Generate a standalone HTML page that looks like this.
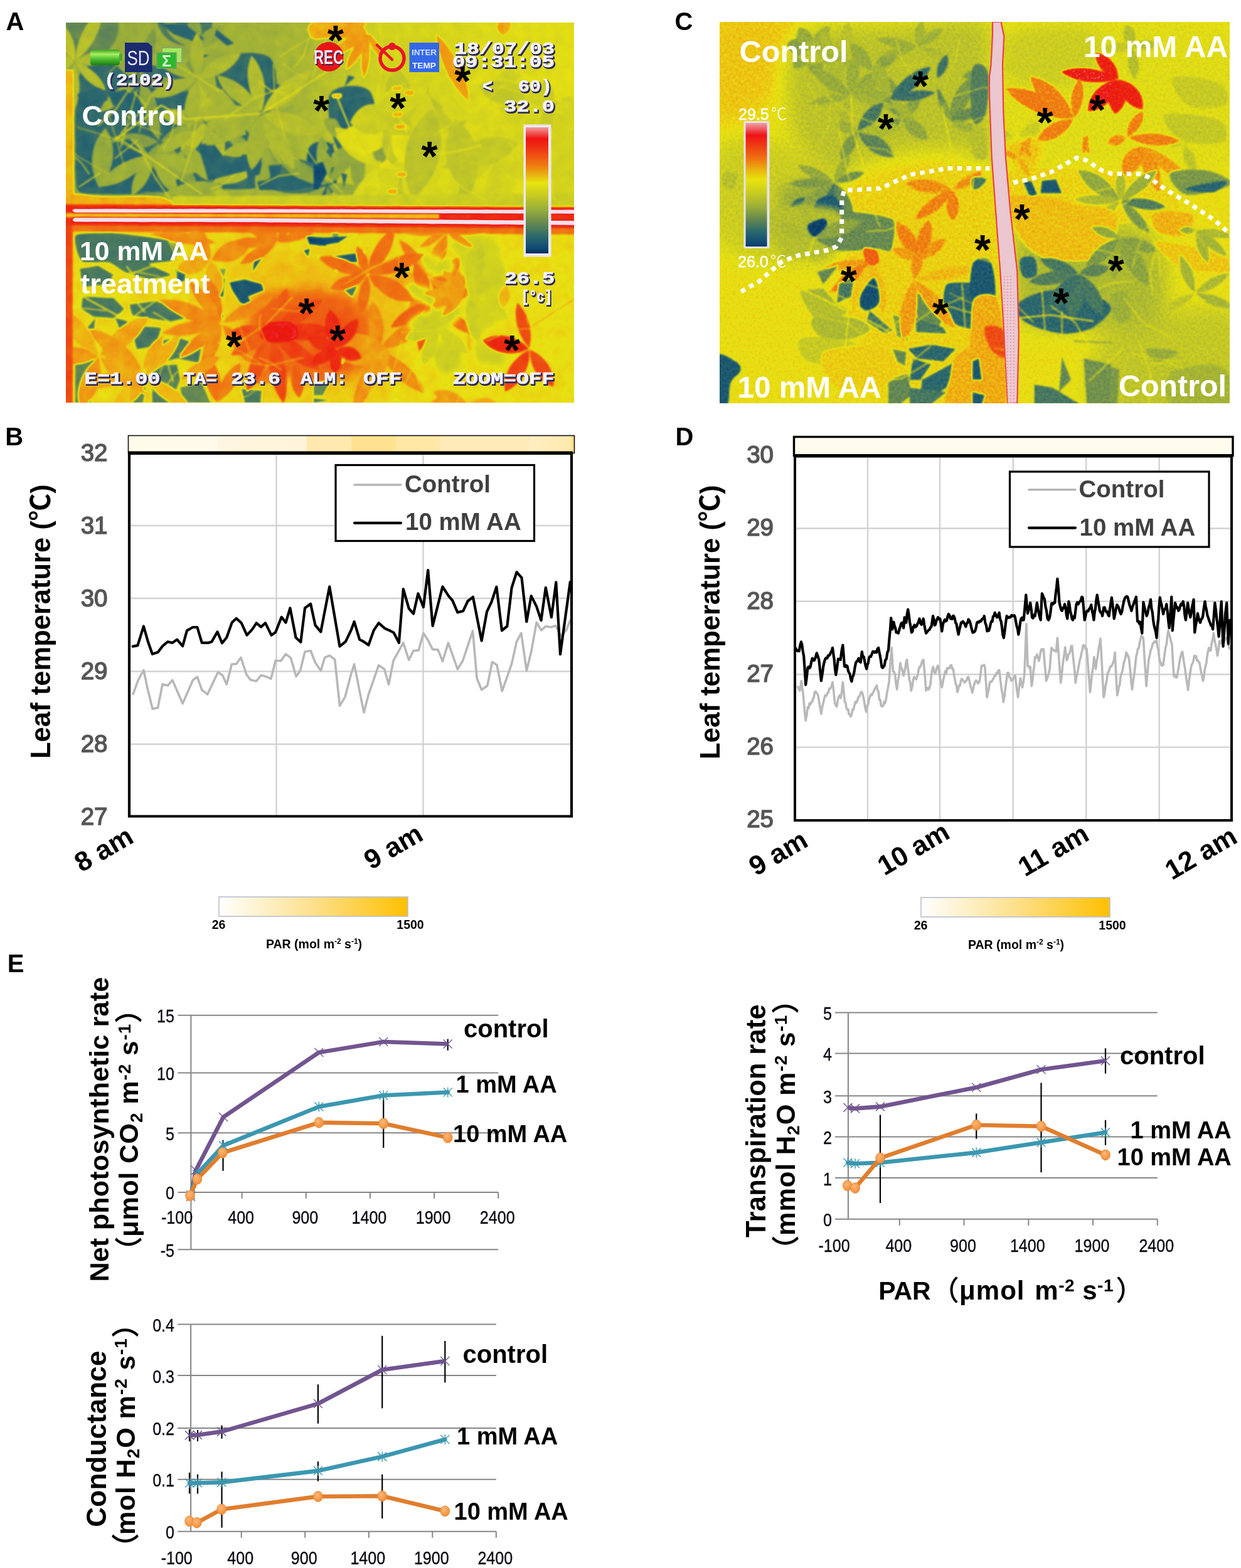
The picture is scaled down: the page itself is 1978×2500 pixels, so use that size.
<!DOCTYPE html>
<html lang="en"><head><meta charset="utf-8"><title>Figure</title>
<style>html,body{margin:0;padding:0;background:#fff}svg{display:block}text{white-space:pre}</style></head>
<body>
<svg width="1978" height="2500" viewBox="0 0 1978 2500">
<rect width="1978" height="2500" fill="#fff"/>
<defs><filter id="soft4" x="-50%" y="-50%" width="200%" height="200%" color-interpolation-filters="sRGB"><feGaussianBlur stdDeviation="4"/></filter><filter id="soft6" x="-50%" y="-50%" width="200%" height="200%" color-interpolation-filters="sRGB"><feGaussianBlur stdDeviation="6"/></filter><filter id="soft10" x="-50%" y="-50%" width="200%" height="200%" color-interpolation-filters="sRGB"><feGaussianBlur stdDeviation="10"/></filter><filter id="soft16" x="-50%" y="-50%" width="200%" height="200%" color-interpolation-filters="sRGB"><feGaussianBlur stdDeviation="16"/></filter><filter id="soft24" x="-50%" y="-50%" width="200%" height="200%" color-interpolation-filters="sRGB"><feGaussianBlur stdDeviation="24"/></filter></defs>
<defs><filter id="thA" filterUnits="userSpaceOnUse" x="95" y="26" width="830" height="626" color-interpolation-filters="sRGB"><feGaussianBlur in="SourceGraphic" stdDeviation="1.4" result="b"/><feTurbulence type="fractalNoise" baseFrequency="0.05" numOctaves="3" seed="4" result="n0"/><feColorMatrix in="n0" type="matrix" values="1 0 0 0 0  1 0 0 0 0  1 0 0 0 0  0 0 0 0 1" result="n"/><feComposite in="b" in2="n" operator="arithmetic" k1="0" k2="1" k3="0.07" k4="-0.035" result="m"/><feComponentTransfer in="m"><feFuncR type="table" tableValues="0.039 0.049 0.059 0.081 0.112 0.142 0.173 0.227 0.282 0.337 0.392 0.443 0.494 0.545 0.596 0.639 0.682 0.725 0.769 0.804 0.839 0.875 0.910 0.918 0.927 0.934 0.936 0.939 0.941 0.939 0.937 0.935 0.933 0.931 0.929 0.927 0.925 0.933 0.941 0.949 0.957"/><feFuncG type="table" tableValues="0.188 0.231 0.273 0.310 0.342 0.375 0.408 0.439 0.471 0.502 0.533 0.569 0.604 0.639 0.675 0.702 0.729 0.757 0.784 0.810 0.835 0.861 0.886 0.830 0.774 0.715 0.641 0.568 0.494 0.445 0.396 0.347 0.298 0.245 0.192 0.139 0.086 0.259 0.431 0.655 0.878"/><feFuncB type="table" tableValues="0.376 0.403 0.429 0.438 0.436 0.434 0.431 0.406 0.380 0.355 0.329 0.306 0.282 0.259 0.235 0.214 0.192 0.171 0.149 0.129 0.110 0.090 0.071 0.071 0.071 0.071 0.071 0.071 0.071 0.073 0.075 0.076 0.078 0.075 0.071 0.067 0.063 0.267 0.471 0.698 0.925"/><feFuncA type="linear" slope="0" intercept="1"/></feComponentTransfer></filter><clipPath id="clipA"><rect x="105" y="36" width="810" height="606"/></clipPath></defs>
<g clip-path="url(#clipA)"><g filter="url(#thA)"><defs><linearGradient id="aTop" x1="0" x2="1" y1="0" y2="0"><stop offset="0" stop-color="#575757"/><stop offset="0.45" stop-color="#616161"/><stop offset="0.62" stop-color="#7c7c7c"/><stop offset="1" stop-color="#888888"/></linearGradient><linearGradient id="aBot" x1="0" x2="1" y1="0" y2="0"><stop offset="0" stop-color="#919191"/><stop offset="0.5" stop-color="#939393"/><stop offset="0.75" stop-color="#8f8f8f"/><stop offset="1" stop-color="#8e8e8e"/></linearGradient></defs>
<rect x="100" y="31" width="820" height="310" fill="url(#aTop)"/>
<rect x="100" y="340" width="820" height="310" fill="url(#aBot)"/>
<path d="M121.0 150.0C122.4 131.8 127.1 113.2 135.0 108.0C142.9 102.8 183.5 97.0 200.0 98.0C216.5 99.0 286.8 110.8 300.0 118.0C313.2 125.2 328.8 156.8 332.0 170.0C335.2 183.2 335.2 237.0 332.0 250.0C328.8 263.0 306.2 294.1 300.0 300.0C293.8 305.9 286.0 308.1 270.0 309.0C254.0 309.9 154.9 310.9 140.0 309.0C125.1 307.1 122.9 305.9 121.0 290.0C119.1 274.1 119.6 168.2 121.0 150.0Z" fill="#292929"/>
<path d="M296.0 205.0C312.7 189.0 372.3 188.5 400.0 196.0C427.7 203.5 453.3 234.0 462.0 250.0C470.7 266.0 469.0 283.3 452.0 292.0C435.0 300.7 385.3 302.0 360.0 302.0C334.7 302.0 310.7 308.2 300.0 292.0C289.3 275.8 279.3 221.0 296.0 205.0Z" fill="#292929"/>
<path d="M350.0 95.0C363.0 83.7 415.7 79.5 430.0 92.0C444.3 104.5 442.3 154.5 436.0 170.0C429.7 185.5 406.0 186.7 392.0 185.0C378.0 183.3 359.0 175.0 352.0 160.0C345.0 145.0 337.0 106.3 350.0 95.0Z" fill="#292929"/>
<path d="M526.0 150.0C534.3 134.3 578.7 131.8 590.0 146.0C601.3 160.2 602.3 219.3 594.0 235.0C585.7 250.7 551.3 254.2 540.0 240.0C528.7 225.8 517.7 165.7 526.0 150.0Z" fill="#292929"/>
<path d="M492.0 236.0C497.7 224.0 523.0 221.0 530.0 232.0C537.0 243.0 539.7 290.0 534.0 302.0C528.3 314.0 503.0 315.0 496.0 304.0C489.0 293.0 486.3 248.0 492.0 236.0Z" fill="#1f1f1f"/>
<path d="M100.0 30.0C114.2 20.0 173.3 21.3 185.0 30.0C196.7 38.7 184.2 72.0 170.0 82.0C155.8 92.0 111.7 98.7 100.0 90.0C88.3 81.3 85.8 40.0 100.0 30.0Z" fill="#404040"/>
<path d="M255.0 30.0C265.8 24.3 324.5 23.0 335.0 30.0C345.5 37.0 328.8 66.3 318.0 72.0C307.2 77.7 280.5 71.0 270.0 64.0C259.5 57.0 244.2 35.7 255.0 30.0Z" fill="#333333"/>
<path d="M420.0 250.0C431.7 243.7 487.0 252.8 500.0 262.0C513.0 271.2 509.7 298.7 498.0 305.0C486.3 311.3 443.0 309.2 430.0 300.0C417.0 290.8 408.3 256.3 420.0 250.0Z" fill="#333333"/>
<path d="M327.5 196.9 C314.9 224.9 323.8 252.6 345.1 265.8 C357.5 244.0 352.0 215.4 327.5 196.9Z" fill="#626262"/>
<path d="M326.4 196.6 C298.9 202.0 285.0 223.2 289.0 246.0 C312.0 243.6 328.6 224.4 326.4 196.6Z" fill="#6d6d6d"/>
<path d="M325.7 195.2 C304.7 172.9 274.6 168.4 252.8 180.3 C268.2 199.9 297.6 207.5 325.7 195.2Z" fill="#666666"/>
<path d="M326.7 194.1 C338.2 164.2 328.0 134.9 305.9 121.1 C294.5 144.5 301.3 174.7 326.7 194.1Z" fill="#6c6c6c"/>
<path d="M327.7 194.5 C355.5 186.6 365.1 164.4 355.4 142.2 C331.5 146.6 318.6 167.1 327.7 194.5Z" fill="#696969"/>
<path d="M328.5 195.9 C345.3 220.1 372.2 225.5 393.2 213.3 C381.2 192.2 355.2 183.4 328.5 195.9Z" fill="#626262"/>
<path d="M223.8 126.8 C247.6 147.5 280.4 152.5 303.5 142.4 C285.9 124.3 253.6 116.6 223.8 126.8Z" fill="#515151"/>
<path d="M222.7 127.7 C221.1 153.2 233.6 177.1 251.1 187.5 C254.0 167.5 243.5 142.5 222.7 127.7Z" fill="#585858"/>
<path d="M220.9 127.5 C190.7 134.0 165.8 156.0 157.8 179.0 C182.0 175.8 208.5 155.8 220.9 127.5Z" fill="#5b5b5b"/>
<path d="M221.3 125.7 C216.1 102.6 198.0 87.1 178.9 85.5 C181.5 104.4 198.0 121.7 221.3 125.7Z" fill="#5b5b5b"/>
<path d="M222.6 124.8 C244.3 101.3 252.9 67.7 246.7 43.3 C228.3 60.4 217.2 93.4 222.6 124.8Z" fill="#4e4e4e"/>
<path d="M411.0 252.9 C387.8 247.3 366.5 257.4 357.7 274.7 C376.1 280.8 398.3 273.1 411.0 252.9Z" fill="#525252"/>
<path d="M411.1 251.6 C402.3 226.7 380.3 210.7 359.2 209.9 C364.5 230.3 384.9 248.3 411.1 251.6Z" fill="#555555"/>
<path d="M412.7 250.9 C435.9 231.4 446.7 200.9 442.2 177.4 C422.7 191.3 409.5 220.9 412.7 250.9Z" fill="#585858"/>
<path d="M413.4 252.4 C434.9 268.0 461.1 267.0 477.7 253.4 C461.5 239.3 435.3 237.5 413.4 252.4Z" fill="#525252"/>
<path d="M412.3 254.0 C401.6 281.8 406.0 313.7 420.1 332.6 C430.2 311.3 428.2 279.2 412.3 254.0Z" fill="#616161"/>
<path d="M120.8 98.4 C147.2 108.5 175.4 101.8 190.8 85.2 C170.4 75.3 141.6 79.4 120.8 98.4Z" fill="#666666"/>
<path d="M120.4 99.6 C128.8 123.1 149.3 140.5 168.7 144.1 C163.5 125.1 144.5 106.1 120.4 99.6Z" fill="#6a6a6a"/>
<path d="M119.3 100.4 C105.1 127.1 104.6 160.3 115.3 181.6 C128.0 161.4 130.9 128.3 119.3 100.4Z" fill="#686868"/>
<path d="M117.9 99.2 C88.7 94.4 58.9 105.7 44.1 124.0 C67.0 129.6 97.5 120.7 117.9 99.2Z" fill="#6e6e6e"/>
<path d="M118.1 98.4 C99.7 77.7 72.4 72.2 52.1 81.6 C65.5 99.5 92.0 107.7 118.1 98.4Z" fill="#6d6d6d"/>
<path d="M118.9 97.4 C123.4 70.3 111.3 44.8 92.2 33.6 C86.7 55.1 96.3 81.6 118.9 97.4Z" fill="#6f6f6f"/>
<path d="M120.3 97.0 C148.1 76.7 164.1 42.9 162.5 15.7 C139.3 30.0 120.9 62.6 120.3 97.0Z" fill="#6a6a6a"/>
<path d="M312.1 78.3 C292.2 97.6 288.8 124.7 300.1 144.0 C317.6 129.9 323.9 103.3 312.1 78.3Z" fill="#505050"/>
<path d="M311.3 77.4 C288.5 69.7 268.7 79.4 261.4 97.8 C279.5 105.8 300.4 98.8 311.3 77.4Z" fill="#565656"/>
<path d="M311.3 76.1 C304.7 49.2 283.0 32.3 260.5 32.0 C263.9 54.3 283.7 73.4 311.3 76.1Z" fill="#5b5b5b"/>
<path d="M312.2 75.9 C326.7 57.0 323.5 35.7 308.0 23.5 C294.6 38.0 294.9 59.5 312.2 75.9Z" fill="#545454"/>
<path d="M313.2 76.3 C338.4 77.6 355.7 62.2 357.7 41.5 C337.1 38.5 318.0 51.5 313.2 76.3Z" fill="#565656"/>
<path d="M313.4 77.5 C324.3 103.9 347.9 112.3 369.4 102.0 C362.3 79.2 340.2 67.6 313.4 77.5Z" fill="#5c5c5c"/>
<path d="M423.9 230.0 C397.2 219.9 369.1 227.6 354.5 245.4 C375.3 255.4 403.9 250.5 423.9 230.0Z" fill="#626262"/>
<path d="M424.5 228.7 C425.4 200.9 408.3 181.1 385.8 177.8 C383.0 200.4 397.5 222.2 424.5 228.7Z" fill="#5b5b5b"/>
<path d="M426.2 228.5 C455.3 217.8 471.4 191.7 469.0 166.6 C444.6 173.1 425.9 197.4 426.2 228.5Z" fill="#595959"/>
<path d="M426.7 230.8 C439.1 260.8 467.0 280.3 492.9 281.4 C485.0 256.7 458.9 234.8 426.7 230.8Z" fill="#676767"/>
<path d="M425.2 231.0 C404.7 251.0 404.0 277.4 419.4 295.3 C437.8 280.4 441.8 254.3 425.2 231.0Z" fill="#5a5a5a"/>
<path d="M520.3 296.5 C490.7 302.9 467.0 324.8 460.0 347.8 C483.9 344.6 509.3 324.7 520.3 296.5Z" fill="#575757"/>
<path d="M520.0 294.6 C503.5 264.3 471.8 248.3 444.4 251.9 C455.5 277.3 485.5 296.1 520.0 294.6Z" fill="#535353"/>
<path d="M521.3 293.9 C534.6 265.8 529.4 234.3 512.2 216.2 C499.6 237.8 501.8 269.7 521.3 293.9Z" fill="#5a5a5a"/>
<path d="M522.5 294.2 C550.8 280.6 570.5 252.9 573.3 228.3 C550.3 237.3 528.5 263.4 522.5 294.2Z" fill="#565656"/>
<path d="M522.8 295.9 C539.4 320.0 566.5 326.6 588.0 316.1 C576.2 295.2 550.1 285.4 522.8 295.9Z" fill="#555555"/>
<path d="M521.8 297.3 C511.6 329.1 518.9 364.3 536.5 384.1 C546.6 359.6 541.9 323.9 521.8 297.3Z" fill="#4d4d4d"/>
<path d="M255.9 225.7 C284.6 228.3 311.5 214.2 323.0 194.2 C300.2 190.2 272.3 201.9 255.9 225.7Z" fill="#545454"/>
<path d="M255.7 227.8 C262.8 262.0 288.0 289.7 314.4 298.1 C310.9 270.5 288.1 240.9 255.7 227.8Z" fill="#545454"/>
<path d="M253.9 227.7 C228.6 244.1 218.8 272.5 226.4 295.8 C248.0 284.3 260.7 257.1 253.9 227.7Z" fill="#545454"/>
<path d="M252.9 226.3 C227.5 208.1 195.8 208.5 175.4 223.4 C194.6 239.7 226.2 242.5 252.9 226.3Z" fill="#515151"/>
<path d="M253.9 224.4 C260.1 188.2 246.7 150.9 224.6 131.8 C217.5 160.1 228.0 198.3 253.9 224.4Z" fill="#525252"/>
<path d="M335.3 292.3 C305.6 310.4 287.1 343.0 287.0 370.5 C311.5 358.1 332.4 326.9 335.3 292.3Z" fill="#5f5f5f"/>
<path d="M334.5 291.2 C302.0 287.6 267.9 299.7 250.0 318.2 C275.3 323.0 310.1 313.1 334.5 291.2Z" fill="#686868"/>
<path d="M335.4 289.5 C336.1 259.4 318.0 236.1 294.3 230.2 C291.5 254.5 307.0 279.6 335.4 289.5Z" fill="#5e5e5e"/>
<path d="M336.6 289.2 C356.1 267.7 362.9 237.2 356.2 215.3 C339.5 231.0 330.4 260.9 336.6 289.2Z" fill="#6a6a6a"/>
<path d="M337.6 290.4 C362.6 298.5 389.1 291.2 403.1 275.5 C383.7 267.4 356.7 272.3 337.6 290.4Z" fill="#676767"/>
<path d="M337.3 292.0 C340.7 324.1 362.3 349.5 387.2 356.5 C386.7 330.6 367.5 303.4 337.3 292.0Z" fill="#6a6a6a"/>
<path d="M570.1 226.9 C586.7 209.6 586.3 187.6 572.6 173.3 C557.7 186.3 555.2 208.1 570.1 226.9Z" fill="#5c5c5c"/>
<path d="M571.4 227.3 C602.2 231.1 629.1 215.5 639.0 192.5 C614.5 187.2 586.2 200.0 571.4 227.3Z" fill="#606060"/>
<path d="M571.4 228.6 C586.6 255.7 614.8 266.1 638.9 258.1 C628.5 235.0 601.6 221.4 571.4 228.6Z" fill="#545454"/>
<path d="M570.1 229.5 C553.5 254.7 555.2 285.2 570.5 304.2 C585.6 285.0 587.0 254.5 570.1 229.5Z" fill="#575757"/>
<path d="M568.8 228.9 C540.0 231.7 516.0 250.4 508.1 272.1 C531.2 271.7 556.7 255.1 568.8 228.9Z" fill="#595959"/>
<path d="M569.0 227.2 C562.4 198.6 539.8 184.6 516.0 189.4 C519.2 213.5 539.8 230.3 569.0 227.2Z" fill="#565656"/>
<path d="M266.8 306.9 C256.5 333.0 260.5 363.1 273.9 380.9 C283.6 360.9 281.9 330.6 266.8 306.9Z" fill="#5d5d5d"/>
<path d="M265.3 306.2 C234.6 307.5 207.2 325.5 196.6 347.5 C221.0 348.4 249.8 332.8 265.3 306.2Z" fill="#4f4f4f"/>
<path d="M265.2 305.1 C243.5 288.1 214.1 284.0 193.8 292.3 C209.9 307.1 238.9 313.5 265.2 305.1Z" fill="#555555"/>
<path d="M265.5 303.7 C256.6 268.3 232.4 234.4 208.7 219.0 C213.9 246.8 236.2 282.0 265.5 303.7Z" fill="#5c5c5c"/>
<path d="M267.2 304.0 C289.0 286.3 298.5 258.2 293.5 236.4 C275.1 249.1 263.2 276.2 267.2 304.0Z" fill="#595959"/>
<path d="M268.5 305.2 C299.2 318.4 334.4 313.4 355.1 296.7 C331.6 284.3 296.1 286.3 268.5 305.2Z" fill="#5c5c5c"/>
<path d="M268.3 306.5 C285.9 336.0 317.5 357.7 344.0 362.1 C331.9 338.1 301.7 314.5 268.3 306.5Z" fill="#5c5c5c"/>
<polygon points="123.0,150.0 160.0,140.0 172.0,160.0 130.0,172.0" fill="#242424"/>
<polygon points="172.0,148.0 200.0,143.0 225.0,165.0 236.0,188.0 216.0,190.0 198.0,176.0 180.0,168.0" fill="#242424"/>
<polygon points="123.0,220.0 150.0,212.0 148.0,250.0 156.0,300.0 128.0,296.0" fill="#242424"/>
<polygon points="183.0,226.0 206.0,222.0 230.0,245.0 252.0,278.0 296.0,290.0 262.0,306.0 160.0,308.0 170.0,270.0" fill="#242424"/>
<polygon points="316.0,232.0 338.0,226.0 366.0,262.0 388.0,246.0 418.0,252.0 412.0,268.0 370.0,278.0 332.0,288.0" fill="#242424"/>
<polygon points="282.0,254.0 298.0,258.0 314.0,280.0 292.0,268.0" fill="#242424"/>
<polygon points="398.0,100.0 420.0,98.0 418.0,126.0 408.0,168.0 402.0,148.0 382.0,158.0 370.0,136.0 390.0,124.0" fill="#242424"/>
<polygon points="434.0,130.0 450.0,138.0 424.0,170.0" fill="#242424"/>
<polygon points="546.0,160.0 586.0,154.0 585.0,188.0 576.0,224.0 556.0,226.0 536.0,190.0" fill="#242424"/>
<polygon points="500.0,262.0 514.0,258.0 520.0,276.0 507.0,302.0 500.0,302.0" fill="#242424"/>
<polygon points="428.0,264.0 450.0,262.0 444.0,284.0 432.0,286.0" fill="#242424"/>
<polygon points="520.0,242.0 532.0,226.0 528.0,252.0" fill="#242424"/>
<polygon points="544.0,276.0 554.0,278.0 548.0,298.0" fill="#242424"/>
<polygon points="392.0,270.0 418.0,258.0 414.0,278.0 395.0,284.0" fill="#242424"/>
<polygon points="410.0,290.0 465.0,280.0 505.0,296.0 470.0,303.0 414.0,303.0" fill="#242424"/>
<polygon points="256.0,38.0 294.0,38.0 326.0,62.0 312.0,67.0 276.0,54.0" fill="#242424"/>
<polygon points="345.0,47.0 373.0,69.0 362.0,73.0 342.0,56.0" fill="#242424"/>
<polygon points="309.0,85.0 333.0,88.0 321.0,94.0" fill="#242424"/>
<polygon points="143.0,191.0 164.0,202.0 157.0,221.0" fill="#242424"/>
<polygon points="555.0,120.0 566.0,123.0 549.0,138.0" fill="#242424"/>
<path d="M158.2 300.1 C184.6 270.3 186.6 231.1 168.2 204.5 C144.8 226.7 138.6 265.5 158.2 300.1Z" fill="#595959"/>
<path d="M243.2 247.0 C205.0 248.8 170.1 270.8 155.8 297.5 C186.1 298.5 222.6 279.3 243.2 247.0Z" fill="#5c5c5c"/>
<path d="M244.3 247.3 C219.7 261.9 207.0 288.7 210.3 311.3 C230.9 301.3 246.0 275.8 244.3 247.3Z" fill="#5c5c5c"/>
<path d="M245.7 247.3 C243.7 276.7 259.8 301.6 282.0 310.1 C285.7 286.6 272.2 260.2 245.7 247.3Z" fill="#5e5e5e"/>
<path d="M246.5 246.6 C266.0 271.2 297.0 280.9 321.1 273.7 C307.2 252.7 277.3 240.2 246.5 246.6Z" fill="#616161"/>
<path d="M246.3 245.3 C274.9 245.9 299.8 229.9 309.1 209.0 C286.3 206.6 260.0 220.2 246.3 245.3Z" fill="#616161"/>
<path d="M414.6 180.0 C375.7 159.7 328.5 161.5 299.0 180.0 C328.5 198.5 375.7 200.3 414.6 180.0Z" fill="#636363"/>
<path d="M415.2 181.0 C376.4 181.8 341.6 203.9 327.8 231.5 C358.6 233.3 395.1 214.2 415.2 181.0Z" fill="#616161"/>
<path d="M416.7 181.8 C391.3 208.5 386.7 245.5 400.9 271.6 C423.1 251.9 431.4 215.6 416.7 181.8Z" fill="#616161"/>
<path d="M418.0 181.8 C417.4 221.4 439.6 256.2 468.5 269.2 C471.6 237.7 452.6 201.0 418.0 181.8Z" fill="#666666"/>
<path d="M418.8 180.7 C441.9 211.9 479.4 223.5 509.1 213.5 C492.7 186.8 456.6 171.6 418.8 180.7Z" fill="#6b6b6b"/>
<path d="M418.6 178.7 C457.7 172.4 488.1 144.5 495.9 113.8 C464.3 116.2 431.5 141.2 418.6 178.7Z" fill="#6e6e6e"/>
<path d="M416.7 178.2 C428.7 144.9 420.6 108.5 400.9 88.4 C389.1 114.1 394.0 151.0 416.7 178.2Z" fill="#696969"/>
<path d="M415.6 178.8 C403.4 145.6 373.9 122.9 345.8 120.2 C353.3 147.4 380.8 172.6 415.6 178.8Z" fill="#636363"/>
<path d="M312.5 126.6 C281.7 120.2 251.8 132.7 237.9 153.7 C262.0 160.9 293.0 151.2 312.5 126.6Z" fill="#616161"/>
<path d="M312.6 125.2 C297.7 97.5 268.9 82.6 243.9 85.5 C253.9 108.6 281.2 126.1 312.6 125.2Z" fill="#616161"/>
<path d="M314.0 124.5 C328.9 100.1 327.5 70.5 314.0 52.0 C300.5 70.5 299.1 100.1 314.0 124.5Z" fill="#636363"/>
<path d="M315.4 125.2 C346.8 126.1 374.1 108.6 384.1 85.5 C359.1 82.6 330.3 97.5 315.4 125.2Z" fill="#666666"/>
<path d="M315.4 127.1 C327.3 158.7 355.5 180.4 382.2 183.2 C374.8 157.4 348.5 133.4 315.4 127.1Z" fill="#636363"/>
<path d="M313.7 127.6 C292.8 151.1 288.7 183.2 299.9 205.8 C318.2 188.4 325.3 156.8 313.7 127.6Z" fill="#616161"/>
<polyline points="184.0,222.0 228.0,190.0 257.0,168.0 297.0,190.0 415.0,181.0" fill="none" stroke="#8a8a8a" stroke-width="2.2" stroke-linecap="round" stroke-linejoin="round"/>
<polyline points="186.0,219.0 238.0,251.0 321.0,309.0" fill="none" stroke="#878787" stroke-width="1.8" stroke-linecap="round" stroke-linejoin="round"/>
<polyline points="213.0,146.0 233.0,168.0 193.0,212.0" fill="none" stroke="#858585" stroke-width="1.6" stroke-linecap="round" stroke-linejoin="round"/>
<polyline points="417.0,180.0 469.0,148.0 520.0,114.0" fill="none" stroke="#8c8c8c" stroke-width="2.0" stroke-linecap="round" stroke-linejoin="round"/>
<polyline points="126.0,298.0 159.0,276.0" fill="none" stroke="#858585" stroke-width="1.6" stroke-linecap="round" stroke-linejoin="round"/>
<polyline points="250.8,88.3 300.9,114.6 348.8,144.7" fill="none" stroke="#818181" stroke-width="1.6" stroke-linecap="round" stroke-linejoin="round" opacity="0.9"/>
<polyline points="313.2,189.5 305.0,240.2 288.8,289.0" fill="none" stroke="#838383" stroke-width="1.5" stroke-linecap="round" stroke-linejoin="round" opacity="0.9"/>
<polyline points="207.4,76.3 191.8,98.0 173.0,117.1" fill="none" stroke="#818181" stroke-width="1.2" stroke-linecap="round" stroke-linejoin="round" opacity="0.9"/>
<polyline points="544.4,46.3 492.3,61.1 446.4,89.9" fill="none" stroke="#828282" stroke-width="1.7" stroke-linecap="round" stroke-linejoin="round" opacity="0.9"/>
<polyline points="123.3,202.7 177.7,219.2 227.9,245.6" fill="none" stroke="#848484" stroke-width="1.2" stroke-linecap="round" stroke-linejoin="round" opacity="0.9"/>
<polyline points="278.2,186.2 274.1,213.6 260.0,237.6" fill="none" stroke="#838383" stroke-width="1.4" stroke-linecap="round" stroke-linejoin="round" opacity="0.9"/>
<polyline points="172.4,179.0 185.6,223.6 199.1,268.1" fill="none" stroke="#7e7e7e" stroke-width="1.2" stroke-linecap="round" stroke-linejoin="round" opacity="0.9"/>
<polyline points="204.8,144.4 183.9,175.3 156.1,200.2" fill="none" stroke="#808080" stroke-width="1.9" stroke-linecap="round" stroke-linejoin="round" opacity="0.9"/>
<polyline points="412.2,129.3 430.5,143.6 453.2,148.4" fill="none" stroke="#838383" stroke-width="1.9" stroke-linecap="round" stroke-linejoin="round" opacity="0.9"/>
<polyline points="491.5,64.8 483.7,89.1 467.3,108.8" fill="none" stroke="#818181" stroke-width="1.8" stroke-linecap="round" stroke-linejoin="round" opacity="0.9"/>
<polyline points="462.4,135.7 406.9,155.8 358.4,189.3" fill="none" stroke="#7f7f7f" stroke-width="1.8" stroke-linecap="round" stroke-linejoin="round" opacity="0.9"/>
<polyline points="435.6,102.6 438.3,161.6 454.0,218.6" fill="none" stroke="#7d7d7d" stroke-width="1.7" stroke-linecap="round" stroke-linejoin="round" opacity="0.9"/>
<polyline points="219.7,231.2 246.4,281.7 279.0,328.5" fill="none" stroke="#838383" stroke-width="1.8" stroke-linecap="round" stroke-linejoin="round" opacity="0.9"/>
<polyline points="451.6,102.0 468.4,115.5 488.5,123.0" fill="none" stroke="#818181" stroke-width="1.2" stroke-linecap="round" stroke-linejoin="round" opacity="0.9"/>
<polyline points="200.7,183.4 227.9,202.9 259.3,214.5" fill="none" stroke="#818181" stroke-width="1.3" stroke-linecap="round" stroke-linejoin="round" opacity="0.9"/>
<polyline points="624.9,173.7 598.8,206.7 572.7,239.7" fill="none" stroke="#848484" stroke-width="1.9" stroke-linecap="round" stroke-linejoin="round" opacity="0.9"/>
<polyline points="529.6,11.9 517.5,68.4 497.6,122.7" fill="none" stroke="#808080" stroke-width="1.7" stroke-linecap="round" stroke-linejoin="round" opacity="0.9"/>
<polyline points="218.6,223.9 200.9,238.4 183.1,252.7" fill="none" stroke="#808080" stroke-width="1.5" stroke-linecap="round" stroke-linejoin="round" opacity="0.9"/>
<polyline points="476.5,276.5 444.0,280.5 414.7,295.3" fill="none" stroke="#838383" stroke-width="1.7" stroke-linecap="round" stroke-linejoin="round" opacity="0.9"/>
<polyline points="489.5,239.4 514.0,275.6 545.1,306.4" fill="none" stroke="#838383" stroke-width="1.7" stroke-linecap="round" stroke-linejoin="round" opacity="0.9"/>
<polyline points="239.5,154.5 226.5,181.2 222.4,210.6" fill="none" stroke="#7f7f7f" stroke-width="1.3" stroke-linecap="round" stroke-linejoin="round" opacity="0.9"/>
<polyline points="374.1,278.8 357.0,293.4 336.2,301.8" fill="none" stroke="#828282" stroke-width="1.7" stroke-linecap="round" stroke-linejoin="round" opacity="0.9"/>
<polyline points="85.4,216.1 125.3,250.0 170.6,276.2" fill="none" stroke="#7e7e7e" stroke-width="1.3" stroke-linecap="round" stroke-linejoin="round" opacity="0.9"/>
<polyline points="573.1,98.6 533.0,107.8 498.4,130.1" fill="none" stroke="#818181" stroke-width="1.6" stroke-linecap="round" stroke-linejoin="round" opacity="0.9"/>
<polyline points="114.3,246.0 130.2,259.9 141.9,277.5" fill="none" stroke="#828282" stroke-width="1.5" stroke-linecap="round" stroke-linejoin="round" opacity="0.9"/>
<polyline points="218.1,143.3 205.1,189.0 192.6,234.9" fill="none" stroke="#808080" stroke-width="1.7" stroke-linecap="round" stroke-linejoin="round" opacity="0.9"/>
<path d="M788.0 256.7 C825.4 250.6 845.3 222.5 841.1 191.4 C809.8 193.6 786.3 218.8 788.0 256.7Z" fill="#7d7d7d"/>
<path d="M789.0 258.5 C818.3 293.7 861.2 299.7 892.9 279.5 C871.5 248.6 829.7 237.4 789.0 258.5Z" fill="#7c7c7c"/>
<path d="M787.2 260.1 C764.2 298.4 773.6 338.7 803.9 359.8 C825.6 330.0 821.4 288.9 787.2 260.1Z" fill="#7d7d7d"/>
<path d="M785.1 258.4 C748.6 233.0 713.8 243.9 698.1 278.0 C726.9 302.1 763.0 297.0 785.1 258.4Z" fill="#7c7c7c"/>
<path d="M785.8 256.5 C788.3 216.4 764.3 188.0 731.4 183.5 C726.3 216.2 746.6 247.5 785.8 256.5Z" fill="#858585"/>
<path d="M603.8 265.2 C645.1 279.6 688.3 267.5 710.9 240.6 C678.8 226.2 634.6 234.1 603.8 265.2Z" fill="#888888"/>
<path d="M600.7 268.0 C558.4 295.6 543.5 342.8 557.9 381.3 C594.1 362.0 614.2 316.7 600.7 268.0Z" fill="#828282"/>
<path d="M600.2 264.4 C593.5 227.1 565.1 203.7 534.2 203.3 C537.0 234.1 562.5 260.5 600.2 264.4Z" fill="#7f7f7f"/>
<path d="M689.3 226.5 C653.6 244.4 632.1 280.5 633.0 312.3 C662.5 300.4 687.0 266.3 689.3 226.5Z" fill="#707070"/>
<path d="M688.7 224.4 C665.6 192.8 630.5 187.6 603.9 206.1 C620.5 233.9 654.6 243.7 688.7 224.4Z" fill="#757575"/>
<path d="M690.4 222.9 C712.5 191.3 709.4 153.8 688.0 130.8 C667.8 154.8 666.7 192.5 690.4 222.9Z" fill="#6f6f6f"/>
<path d="M692.5 224.0 C734.0 233.1 775.0 216.8 794.5 188.8 C761.9 178.8 719.6 191.3 692.5 224.0Z" fill="#727272"/>
<path d="M691.6 226.7 C694.4 269.0 719.5 307.2 749.4 322.6 C749.8 289.0 727.7 248.9 691.6 226.7Z" fill="#6e6e6e"/>
<path d="M844.7 190.0 C843.0 154.1 819.0 137.8 789.5 145.2 C788.3 175.6 809.3 195.7 844.7 190.0Z" fill="#7a7a7a"/>
<path d="M846.4 189.7 C882.3 182.2 891.8 156.5 875.4 129.8 C844.3 133.6 830.1 156.9 846.4 189.7Z" fill="#797979"/>
<path d="M847.2 190.6 C876.3 216.1 903.0 207.5 914.2 176.2 C891.2 152.4 863.2 155.5 847.2 190.6Z" fill="#767676"/>
<path d="M846.3 192.3 C822.6 224.1 833.8 250.2 866.8 258.5 C889.3 233.0 883.7 205.1 846.3 192.3Z" fill="#7c7c7c"/>
<path d="M844.7 191.7 C809.2 181.2 787.2 199.4 787.4 230.9 C816.7 242.5 841.6 228.6 844.7 191.7Z" fill="#7d7d7d"/>
<path d="M624.9 222.8 C659.1 212.7 670.0 185.3 657.0 158.3 C627.6 164.3 612.4 189.5 624.9 222.8Z" fill="#878787"/>
<path d="M625.3 225.2 C617.5 267.3 640.6 286.9 676.5 278.7 C686.3 243.2 667.7 219.2 625.3 225.2Z" fill="#7f7f7f"/>
<path d="M622.5 224.1 C595.0 190.1 559.5 191.2 535.8 219.5 C556.4 250.1 591.6 254.9 622.5 224.1Z" fill="#868686"/>
<path d="M633.8 184.6 C660.0 216.9 697.0 219.6 723.5 197.5 C704.3 168.8 668.1 160.9 633.8 184.6Z" fill="#737373"/>
<path d="M631.8 185.8 C603.0 209.0 602.6 240.2 624.9 261.7 C650.7 244.6 656.0 213.8 631.8 185.8Z" fill="#727272"/>
<path d="M630.5 184.5 C601.0 154.9 571.9 162.5 558.1 195.6 C581.3 223.2 611.3 221.7 630.5 184.5Z" fill="#787878"/>
<path d="M632.1 182.7 C660.4 158.2 659.4 126.8 635.8 106.0 C610.3 124.4 606.3 155.6 632.1 182.7Z" fill="#6f6f6f"/>
<path d="M681.0 268.5 C644.8 262.1 632.6 281.0 645.7 310.3 C676.9 318.3 693.5 303.1 681.0 268.5Z" fill="#828282"/>
<path d="M680.6 266.7 C682.9 226.5 658.4 208.2 625.1 216.6 C620.1 250.5 640.9 273.1 680.6 266.7Z" fill="#878787"/>
<path d="M682.8 266.5 C724.2 269.6 743.8 244.4 736.1 209.9 C701.1 204.2 677.2 225.3 682.8 266.5Z" fill="#7f7f7f"/>
<path d="M682.6 268.7 C670.6 310.6 691.5 327.7 727.8 316.3 C741.1 280.6 725.1 258.8 682.6 268.7Z" fill="#808080"/>
<path d="M680.9 147.4 C682.3 101.8 655.8 64.5 620.8 52.9 C616.5 89.5 639.1 129.3 680.9 147.4Z" fill="#7e7e7e"/>
<path d="M683.6 147.7 C731.2 142.8 758.7 108.9 756.0 69.4 C716.4 69.8 684.7 99.8 683.6 147.7Z" fill="#7f7f7f"/>
<path d="M684.1 149.9 C709.9 182.3 750.0 191.7 780.7 178.2 C762.2 150.2 723.3 136.6 684.1 149.9Z" fill="#7e7e7e"/>
<path d="M681.8 151.3 C648.4 180.0 645.1 220.3 667.5 249.0 C697.1 227.9 705.6 188.4 681.8 151.3Z" fill="#7d7d7d"/>
<path d="M680.4 149.8 C644.4 128.4 610.7 140.0 596.0 171.8 C624.3 192.3 659.5 186.0 680.4 149.8Z" fill="#7b7b7b"/>
<path d="M800.2 182.5 C776.5 218.0 789.2 247.9 824.0 258.1 C846.7 229.8 839.8 198.0 800.2 182.5Z" fill="#808080"/>
<path d="M798.5 182.2 C747.8 170.8 727.1 197.4 740.8 240.4 C783.9 253.7 810.3 232.8 798.5 182.2Z" fill="#828282"/>
<path d="M798.1 180.2 C786.2 138.3 753.1 125.2 720.2 141.5 C727.0 177.7 757.5 196.1 798.1 180.2Z" fill="#828282"/>
<path d="M800.1 179.5 C842.2 164.5 847.7 133.4 821.4 105.4 C784.2 115.2 772.3 144.5 800.1 179.5Z" fill="#7b7b7b"/>
<path d="M801.0 181.0 C821.0 215.4 847.0 213.4 864.4 183.6 C849.4 152.5 823.7 148.4 801.0 181.0Z" fill="#7f7f7f"/>
<path d="M657.6 319.0 C705.2 277.9 714.4 217.7 688.6 173.3 C647.0 203.3 630.9 262.1 657.6 319.0Z" fill="#6e6e6e"/>
<path d="M747.6 312.5 C774.9 264.8 762.8 214.9 725.8 188.9 C699.8 226.0 705.6 277.0 747.6 312.5Z" fill="#707070"/>
<path d="M827.0 227.5 C786.5 207.6 747.4 220.9 729.5 253.7 C761.4 273.1 801.9 265.0 827.0 227.5Z" fill="#737373"/>
<path d="M762.5 136.4 C780.7 169.2 811.9 175.0 837.3 156.4 C824.6 127.7 794.7 117.1 762.5 136.4Z" fill="#737373"/>
<path d="M884.0 178.0C889.7 151.8 912.3 143.5 918.0 168.0C923.7 192.5 923.7 298.8 918.0 325.0C912.3 351.2 889.7 349.5 884.0 325.0C878.3 300.5 878.3 204.2 884.0 178.0Z" fill="#7d7d7d"/>
<polyline points="672.0,249.0 729.0,241.0 766.0,232.0" fill="none" stroke="#8c8c8c" stroke-width="2.0" stroke-linecap="round" stroke-linejoin="round"/>
<path d="M500.0 34.9C513.5 30.4 570.9 32.0 581.1 34.9C591.4 37.8 575.0 47.6 561.5 52.1C547.9 56.6 510.2 64.8 500.0 62.0C489.8 59.1 486.5 39.4 500.0 34.9Z" fill="#a1a1a1"/>
<path d="M584.4 52.1 C556.8 38.6 523.4 39.8 502.5 52.1 C523.4 64.4 556.8 65.7 584.4 52.1Z" fill="#a8a8a8"/>
<path d="M584.8 52.9 C557.6 54.5 532.6 70.2 522.2 89.0 C543.7 89.4 569.8 75.6 584.8 52.9Z" fill="#a8a8a8"/>
<path d="M585.4 53.3 C564.6 67.6 551.7 91.9 551.6 111.8 C568.8 101.8 583.4 78.4 585.4 53.3Z" fill="#a8a8a8"/>
<path d="M585.9 53.6 C574.4 77.0 572.7 106.5 579.6 125.6 C589.8 108.0 593.2 78.7 585.9 53.6Z" fill="#a8a8a8"/>
<path d="M586.6 53.0 C587.6 71.1 598.1 87.8 610.6 94.7 C610.9 80.4 601.7 63.0 586.6 53.0Z" fill="#a8a8a8"/>
<path d="M585.2 51.6 C576.6 34.2 559.0 25.2 543.5 27.5 C549.2 42.2 565.7 52.9 585.2 51.6Z" fill="#a8a8a8"/>
<path d="M695.3 54.3 C698.5 97.9 721.4 141.5 748.1 162.6 C747.9 128.5 727.7 83.7 695.3 54.3Z" fill="#a8a8a8"/>
<path d="M802.3 56.5 C811.4 45.8 808.6 35.4 797.7 30.4 C789.2 38.8 790.1 49.6 802.3 56.5Z" fill="#a8a8a8"/>
<path d="M802.6 56.5 C813.6 50.1 816.9 38.8 812.5 29.3 C803.1 33.7 798.3 44.6 802.6 56.5Z" fill="#a3a3a3"/>
<path d="M625.9 137.7C628.1 136.6 637.5 136.1 639.7 137.2C641.8 138.3 640.9 143.0 638.7 144.1C636.5 145.2 628.5 144.7 626.4 143.6C624.3 142.5 623.7 138.8 625.9 137.7Z" fill="#a3a3a3"/>
<path d="M627.1 179.5C629.3 178.4 638.8 177.9 640.9 179.0C643.0 180.1 642.1 184.8 639.9 185.9C637.7 187.0 629.7 186.5 627.6 185.4C625.5 184.3 624.9 180.6 627.1 179.5Z" fill="#a3a3a3"/>
<path d="M630.8 199.2C633.0 198.1 642.4 197.6 644.6 198.7C646.7 199.7 645.8 204.5 643.6 205.6C641.4 206.6 633.4 206.1 631.3 205.1C629.2 204.0 628.6 200.2 630.8 199.2Z" fill="#a3a3a3"/>
<path d="M633.3 275.4C635.5 274.3 644.9 273.8 647.0 274.9C649.2 276.0 648.3 280.7 646.1 281.8C643.8 282.8 635.9 282.4 633.8 281.3C631.6 280.2 631.1 276.5 633.3 275.4Z" fill="#a3a3a3"/>
<path d="M618.5 302.4C620.7 301.4 630.2 300.9 632.3 301.9C634.4 303.0 633.5 307.8 631.3 308.8C629.1 309.9 621.1 309.4 619.0 308.3C616.9 307.3 616.3 303.5 618.5 302.4Z" fill="#a3a3a3"/>
<path d="M530.0 150.0C532.2 148.9 541.6 148.4 543.8 149.5C545.9 150.6 545.0 155.3 542.8 156.4C540.6 157.4 532.6 157.0 530.5 155.9C528.4 154.8 527.8 151.1 530.0 150.0Z" fill="#a3a3a3"/>
<path d="M645.6 145.1C647.8 144.0 657.2 143.5 659.3 144.6C661.5 145.6 660.6 150.4 658.3 151.5C656.1 152.5 648.2 152.0 646.1 151.0C643.9 149.9 643.3 146.1 645.6 145.1Z" fill="#a3a3a3"/>
<polygon points="500.0,263.6 514.8,258.7 520.9,275.9 507.4,301.7 500.0,301.7" fill="#0f0f0f"/>
<polyline points="536.9,154.2 556.6,202.1 581.1,246.4" fill="none" stroke="#8c8c8c" stroke-width="2.2" stroke-linecap="round" stroke-linejoin="round"/>
<path d="M637.7 323.8C649.2 321.5 708.2 315.5 716.4 316.5C724.6 317.4 698.3 327.1 686.9 329.5C675.4 331.8 655.7 331.4 647.5 330.5C639.3 329.5 626.2 326.2 637.7 323.8Z" fill="#333333"/>
<path d="M100.0 308.0C106.5 306.1 150.0 312.5 165.0 313.0C180.0 313.5 239.0 312.1 250.0 313.0C261.0 313.9 272.5 320.1 275.0 322.0C277.5 323.9 292.5 331.0 275.0 332.0C257.5 333.0 117.5 334.4 100.0 332.0C82.5 329.6 93.5 309.9 100.0 308.0Z" fill="#a1a1a1"/>
<polygon points="100.0,111.0 117.0,111.0 118.0,308.0 100.0,310.0" fill="#9e9e9e"/>
<polygon points="275.0,313.0 920.0,308.0 920.0,331.0 275.0,331.0" fill="#787878"/>
<polygon points="100.0,357.0 920.0,364.0 920.0,374.0 100.0,369.0" fill="#b8b8b8"/>
<polygon points="100.0,357.0 115.5,357.0 115.5,650.0 100.0,650.0" fill="#cccccc"/>
<g filter="url(#soft16)"><path d="M390.0 420.0C421.7 401.7 515.0 406.7 560.0 410.0C605.0 413.3 646.7 421.7 660.0 440.0C673.3 458.3 650.0 490.0 640.0 520.0C630.0 550.0 640.0 603.3 600.0 620.0C560.0 636.7 438.3 636.7 400.0 620.0C361.7 603.3 371.7 553.3 370.0 520.0C368.3 486.7 358.3 438.3 390.0 420.0Z" fill="#9c9c9c"/></g>
<g filter="url(#soft10)"><path d="M410.0 480.0C429.2 462.5 490.8 461.7 520.0 465.0C549.2 468.3 575.0 480.0 585.0 500.0C595.0 520.0 597.5 568.3 580.0 585.0C562.5 601.7 509.2 602.5 480.0 600.0C450.8 597.5 416.7 590.0 405.0 570.0C393.3 550.0 390.8 497.5 410.0 480.0Z" fill="#c2c2c2"/></g>
<path d="M122.1 374.3C128.1 371.8 170.6 371.1 181.1 371.4C191.7 371.6 218.8 375.5 227.9 376.8C237.0 378.1 266.1 382.0 272.1 384.2C278.1 386.4 288.1 395.7 288.1 398.9C288.1 402.1 277.2 413.9 272.1 416.1C267.1 418.4 237.7 418.8 237.7 421.1C237.7 423.3 272.1 435.9 272.1 438.3C272.1 440.6 245.1 444.9 237.7 444.4C230.3 443.9 204.7 435.9 198.4 433.4C192.0 430.8 180.4 420.2 173.8 418.6C167.1 417.0 137.2 419.6 132.0 417.4C126.8 415.2 122.6 400.8 121.6 396.5C120.7 392.2 116.2 376.8 122.1 374.3Z" fill="#333333"/>
<polygon points="127.0,428.4 156.6,423.5 181.1,438.3 173.8,453.5 132.0,457.9" fill="#333333"/>
<polygon points="132.0,472.7 181.1,475.2 198.4,492.4 181.1,507.6 149.2,505.1 129.5,492.4" fill="#333333"/>
<polygon points="205.7,485.5 247.5,480.1 317.6,502.2 272.1,512.5 237.7,507.6 210.6,502.2" fill="#333333"/>
<polygon points="208.2,519.4 257.4,521.9 247.5,551.9 218.0,556.8" fill="#333333"/>
<polygon points="183.6,507.1 203.3,512.0 208.2,546.9 193.4,531.7" fill="#333333"/>
<polygon points="245.1,544.0 286.9,539.1 321.3,551.4 316.4,578.4 282.0,571.5 247.5,581.4" fill="#333333"/>
<polygon points="240.2,583.3 282.0,580.9 287.4,605.5 272.1,642.4 242.6,642.4" fill="#383838"/>
<polygon points="119.7,573.5 149.2,566.1 152.1,605.5 144.3,642.4 119.7,642.4" fill="#3d3d3d"/>
<polygon points="210.6,612.8 232.8,617.8 227.9,642.4 208.2,642.4" fill="#3d3d3d"/>
<polygon points="139.3,521.9 152.1,507.1 149.2,532.2" fill="#333333"/>
<polygon points="286.9,617.8 321.3,610.4 336.0,642.4 291.8,642.4" fill="#404040"/>
<polygon points="345.9,453.0 358.7,443.2 355.7,472.7 343.4,473.2" fill="#1a1a1a"/>
<polygon points="365.6,450.6 390.1,445.6 417.2,453.0 420.1,462.9 395.1,472.7 407.4,492.9 382.8,482.5 370.5,462.9" fill="#1a1a1a"/>
<polygon points="404.9,416.1 417.7,411.2 402.4,433.8" fill="#1a1a1a"/>
<polygon points="488.5,376.8 520.0,379.3 520.0,392.0 493.4,389.6" fill="#0d0d0d"/>
<polygon points="483.6,398.9 493.9,396.5 491.0,409.3" fill="#1a1a1a"/>
<polygon points="505.7,408.8 520.0,408.8 520.0,419.1" fill="#1a1a1a"/>
<polygon points="385.2,620.2 417.2,622.7 415.2,642.4 390.1,642.4" fill="#333333"/>
<polygon points="350.8,482.5 356.2,507.1 348.3,502.2" fill="#1a1a1a"/>
<polygon points="279.5,428.4 296.7,423.5 294.2,448.1 282.0,450.6" fill="#262626"/>
<polygon points="331.1,428.4 360.6,428.4 355.7,443.2 336.0,445.6" fill="#4c4c4c"/>
<polyline points="132.0,472.7 203.3,512.0 257.4,521.9 321.3,551.4" fill="none" stroke="#8f8f8f" stroke-width="2.0" stroke-linecap="round" stroke-linejoin="round"/>
<polyline points="181.1,438.3 205.7,485.5 208.2,546.5 240.2,583.3" fill="none" stroke="#8f8f8f" stroke-width="1.8" stroke-linecap="round" stroke-linejoin="round"/>
<polyline points="203.3,512.0 247.5,480.1" fill="none" stroke="#8f8f8f" stroke-width="1.6" stroke-linecap="round" stroke-linejoin="round"/>
<polyline points="240.2,583.3 286.9,539.1" fill="none" stroke="#8f8f8f" stroke-width="1.6" stroke-linecap="round" stroke-linejoin="round"/>
<polyline points="255.4,370.2 276.0,389.2 291.5,412.5" fill="none" stroke="#939393" stroke-width="2.0" stroke-linecap="round" stroke-linejoin="round" opacity="0.9"/>
<polyline points="113.3,490.0 140.9,492.5 168.4,495.2" fill="none" stroke="#8d8d8d" stroke-width="1.4" stroke-linecap="round" stroke-linejoin="round" opacity="0.9"/>
<polyline points="244.7,498.0 280.0,519.1 307.2,549.9" fill="none" stroke="#8c8c8c" stroke-width="1.9" stroke-linecap="round" stroke-linejoin="round" opacity="0.9"/>
<polyline points="240.3,446.7 285.5,475.6 334.8,496.9" fill="none" stroke="#8d8d8d" stroke-width="1.4" stroke-linecap="round" stroke-linejoin="round" opacity="0.9"/>
<polyline points="360.8,513.0 323.9,539.6 286.0,564.9" fill="none" stroke="#969696" stroke-width="1.6" stroke-linecap="round" stroke-linejoin="round" opacity="0.9"/>
<polyline points="270.7,549.8 254.3,597.2 234.2,643.2" fill="none" stroke="#939393" stroke-width="1.3" stroke-linecap="round" stroke-linejoin="round" opacity="0.9"/>
<polyline points="147.4,451.8 173.3,464.2 202.0,465.8" fill="none" stroke="#8f8f8f" stroke-width="1.8" stroke-linecap="round" stroke-linejoin="round" opacity="0.9"/>
<polyline points="184.3,461.4 211.5,474.3 230.8,497.3" fill="none" stroke="#939393" stroke-width="1.8" stroke-linecap="round" stroke-linejoin="round" opacity="0.9"/>
<polyline points="132.1,554.6 165.1,563.8 190.1,587.3" fill="none" stroke="#939393" stroke-width="1.7" stroke-linecap="round" stroke-linejoin="round" opacity="0.9"/>
<polyline points="305.7,581.8 280.1,594.9 262.9,618.1" fill="none" stroke="#8f8f8f" stroke-width="1.5" stroke-linecap="round" stroke-linejoin="round" opacity="0.9"/>
<polyline points="199.3,613.7 171.5,627.7 141.9,637.2" fill="none" stroke="#909090" stroke-width="2.0" stroke-linecap="round" stroke-linejoin="round" opacity="0.9"/>
<polyline points="201.8,424.8 226.8,455.9 258.5,480.3" fill="none" stroke="#929292" stroke-width="2.0" stroke-linecap="round" stroke-linejoin="round" opacity="0.9"/>
<polyline points="253.7,440.6 215.8,433.2 178.0,441.2" fill="none" stroke="#8d8d8d" stroke-width="1.4" stroke-linecap="round" stroke-linejoin="round" opacity="0.9"/>
<polyline points="265.2,565.4 269.3,587.3 276.0,608.5" fill="none" stroke="#969696" stroke-width="1.7" stroke-linecap="round" stroke-linejoin="round" opacity="0.9"/>
<polyline points="307.9,602.9 353.2,600.4 398.3,606.1" fill="none" stroke="#929292" stroke-width="1.5" stroke-linecap="round" stroke-linejoin="round" opacity="0.9"/>
<polyline points="266.5,378.3 281.8,411.8 281.1,448.6" fill="none" stroke="#959595" stroke-width="1.5" stroke-linecap="round" stroke-linejoin="round" opacity="0.9"/>
<polyline points="288.7,416.9 238.8,425.7 191.6,444.2" fill="none" stroke="#939393" stroke-width="1.8" stroke-linecap="round" stroke-linejoin="round" opacity="0.9"/>
<polyline points="162.5,532.5 157.4,579.5 150.9,626.3" fill="none" stroke="#8c8c8c" stroke-width="1.5" stroke-linecap="round" stroke-linejoin="round" opacity="0.9"/>
<path d="M156.4 568.6 C131.9 548.3 101.3 549.0 81.7 566.0 C100.1 584.3 130.6 587.1 156.4 568.6Z" fill="#aaaaaa"/>
<path d="M156.7 567.1 C150.4 529.4 123.8 499.0 94.7 490.0 C97.3 520.3 121.2 552.9 156.7 567.1Z" fill="#a1a1a1"/>
<path d="M159.5 567.4 C198.2 562.4 228.3 535.6 236.0 505.3 C204.7 506.6 172.3 530.5 159.5 567.4Z" fill="#a5a5a5"/>
<path d="M159.4 569.8 C172.4 604.1 203.3 626.7 232.5 628.5 C224.4 600.3 195.7 575.1 159.4 569.8Z" fill="#a5a5a5"/>
<path d="M157.3 570.3 C128.1 590.6 117.9 624.4 128.1 651.4 C153.1 637.1 166.8 604.6 157.3 570.3Z" fill="#a8a8a8"/>
<path d="M334.6 415.6 C311.6 402.6 290.3 410.4 281.3 430.6 C299.5 443.2 321.7 438.7 334.6 415.6Z" fill="#a3a3a3"/>
<path d="M335.1 414.1 C339.5 386.2 325.3 362.7 303.6 354.9 C297.9 377.3 309.4 402.2 335.1 414.1Z" fill="#acacac"/>
<path d="M337.0 414.8 C367.1 425.0 392.2 411.7 400.4 386.7 C376.4 376.0 349.7 385.7 337.0 414.8Z" fill="#acacac"/>
<path d="M335.9 416.6 C319.6 440.4 326.0 464.4 347.1 476.2 C362.5 457.6 359.7 432.9 335.9 416.6Z" fill="#a2a2a2"/>
<path d="M228.5 601.5 C196.5 611.0 175.9 637.8 174.9 664.7 C201.2 659.3 224.3 634.6 228.5 601.5Z" fill="#9b9b9b"/>
<path d="M228.3 599.5 C215.3 572.6 188.7 558.9 164.9 562.7 C173.4 585.2 198.5 601.5 228.3 599.5Z" fill="#a5a5a5"/>
<path d="M230.7 598.9 C261.8 587.5 284.0 560.2 287.8 534.1 C262.4 541.2 238.1 566.7 230.7 598.9Z" fill="#a1a1a1"/>
<path d="M231.1 601.3 C247.0 631.6 278.0 651.4 305.1 652.7 C294.4 627.8 265.0 605.6 231.1 601.3Z" fill="#9f9f9f"/>
<path d="M684.4 441.1 C677.7 413.4 657.2 390.0 636.2 382.0 C639.8 404.2 658.6 429.0 684.4 441.1Z" fill="#b0b0b0"/>
<path d="M685.9 441.0 C708.7 424.6 717.0 397.7 709.7 376.2 C690.1 387.8 679.1 413.7 685.9 441.0Z" fill="#acacac"/>
<path d="M686.8 442.4 C710.0 455.8 739.2 457.1 758.3 448.3 C740.9 436.4 711.8 433.0 686.8 442.4Z" fill="#afafaf"/>
<path d="M686.1 443.3 C687.3 467.4 702.1 487.8 720.0 494.9 C720.5 475.7 707.6 454.0 686.1 443.3Z" fill="#aeaeae"/>
<path d="M684.7 443.7 C659.6 460.4 646.7 489.3 650.1 513.0 C671.1 501.4 686.4 473.7 684.7 443.7Z" fill="#b0b0b0"/>
<path d="M683.9 442.4 C659.0 429.9 630.0 433.1 612.7 447.2 C631.7 458.9 660.9 458.2 683.9 442.4Z" fill="#a5a5a5"/>
<path d="M684.5 483.4 C665.5 506.2 660.1 537.5 668.3 559.6 C684.7 542.8 692.6 512.0 684.5 483.4Z" fill="#c2c2c2"/>
<path d="M683.6 482.7 C655.8 484.7 631.7 501.8 622.9 522.2 C645.1 522.4 670.6 507.3 683.6 482.7Z" fill="#c2c2c2"/>
<path d="M683.0 481.3 C657.3 459.3 620.9 448.9 594.7 452.9 C613.6 471.4 649.3 484.1 683.0 481.3Z" fill="#bdbdbd"/>
<path d="M684.4 480.6 C690.6 454.6 679.9 430.1 661.1 419.3 C654.3 439.8 662.5 465.3 684.4 480.6Z" fill="#bdbdbd"/>
<path d="M685.8 480.4 C716.2 465.2 734.9 434.5 734.6 407.5 C709.5 417.6 688.3 446.5 685.8 480.4Z" fill="#bbbbbb"/>
<path d="M686.4 481.4 C715.1 486.6 745.6 477.1 761.9 460.8 C739.6 455.1 708.5 462.4 686.4 481.4Z" fill="#c1c1c1"/>
<path d="M686.4 482.9 C703.6 511.2 734.3 531.6 759.9 535.2 C748.1 512.2 718.7 489.9 686.4 482.9Z" fill="#b8b8b8"/>
<path d="M351.8 516.9 C330.2 533.6 319.0 560.6 321.7 582.0 C339.8 570.2 353.1 544.1 351.8 516.9Z" fill="#aeaeae"/>
<path d="M350.7 515.0 C327.1 493.6 293.4 484.4 268.8 489.6 C286.1 507.8 319.1 519.4 350.7 515.0Z" fill="#b0b0b0"/>
<path d="M351.9 514.0 C359.5 483.6 347.8 453.7 326.9 439.7 C318.7 463.5 327.4 494.4 351.9 514.0Z" fill="#b4b4b4"/>
<path d="M354.0 514.7 C388.5 514.3 421.3 496.2 436.1 473.4 C409.0 471.6 374.9 487.3 354.0 514.7Z" fill="#aeaeae"/>
<path d="M353.7 517.0 C363.0 552.2 390.3 580.5 417.9 588.8 C412.6 560.6 387.5 530.3 353.7 517.0Z" fill="#adadad"/>
<path d="M606.1 556.9 C641.8 555.3 672.9 533.8 684.3 507.8 C655.8 506.8 623.1 525.5 606.1 556.9Z" fill="#afafaf"/>
<path d="M606.0 559.3 C618.9 594.2 649.3 620.9 677.9 627.5 C669.8 599.3 641.5 570.4 606.0 559.3Z" fill="#aeaeae"/>
<path d="M603.7 560.0 C575.1 587.8 559.5 629.4 562.3 660.5 C586.2 640.4 604.5 599.9 603.7 560.0Z" fill="#ababab"/>
<path d="M602.8 557.7 C577.8 534.7 543.7 531.3 520.0 545.2 C538.5 565.5 572.1 572.3 602.8 557.7Z" fill="#acacac"/>
<path d="M604.3 556.4 C617.1 528.0 611.2 496.5 593.4 478.8 C581.3 500.7 584.2 532.6 604.3 556.4Z" fill="#adadad"/>
<path d="M470.9 578.0 C492.3 567.9 500.0 547.3 493.1 529.1 C474.8 535.9 464.5 555.3 470.9 578.0Z" fill="#bebebe"/>
<path d="M471.7 579.6 C485.8 602.2 510.9 611.7 531.7 605.8 C521.9 586.5 497.9 574.6 471.7 579.6Z" fill="#bcbcbc"/>
<path d="M470.6 580.1 C460.0 600.1 463.8 622.3 477.1 634.9 C487.1 619.5 485.6 597.0 470.6 580.1Z" fill="#c2c2c2"/>
<path d="M469.2 579.7 C441.1 575.7 416.4 589.7 407.1 610.7 C429.5 615.9 455.5 604.5 469.2 579.7Z" fill="#b9b9b9"/>
<path d="M469.7 578.0 C467.4 553.4 451.2 533.4 432.4 527.4 C432.5 547.2 446.8 568.6 469.7 578.0Z" fill="#c0c0c0"/>
<path d="M351.3 513.8 C324.0 486.6 283.8 473.5 253.9 478.3 C273.7 501.2 312.9 517.1 351.3 513.8Z" fill="#adadad"/>
<path d="M351.4 514.8 C317.6 505.7 280.1 513.7 258.8 531.1 C284.8 540.3 322.8 535.0 351.4 514.8Z" fill="#adadad"/>
<path d="M351.9 515.6 C320.8 524.0 294.5 547.7 285.4 571.4 C310.3 566.6 338.2 544.8 351.9 515.6Z" fill="#adadad"/>
<path d="M352.2 513.2 C345.9 483.1 324.3 457.5 301.8 448.6 C305.0 472.7 324.6 499.8 352.2 513.2Z" fill="#adadad"/>
<path d="M352.8 515.9 C333.0 534.6 323.9 562.7 328.0 583.8 C344.7 570.3 355.9 542.9 352.8 515.9Z" fill="#adadad"/>
<path d="M226.2 589.4 C209.7 552.5 174.5 527.2 142.6 524.1 C153.3 554.3 186.4 582.3 226.2 589.4Z" fill="#a8a8a8"/>
<path d="M226.0 591.2 C190.4 584.0 152.8 595.6 132.9 616.2 C160.4 624.1 198.8 615.3 226.0 591.2Z" fill="#a3a3a3"/>
<path d="M227.5 591.7 C208.7 603.9 202.4 624.6 209.4 641.5 C225.5 633.0 234.1 613.1 227.5 591.7Z" fill="#a6a6a6"/>
<path d="M228.5 589.6 C250.8 578.1 262.5 555.3 259.8 535.4 C241.2 543.0 227.3 564.6 228.5 589.6Z" fill="#a3a3a3"/>
<path d="M440.3 386.6 C416.0 374.5 386.5 375.6 368.0 386.6 C386.5 397.7 416.0 398.8 440.3 386.6Z" fill="#b2b2b2"/>
<path d="M440.6 385.9 C427.0 364.0 402.6 351.2 382.2 352.2 C391.5 370.4 414.8 385.1 440.6 385.9Z" fill="#b2b2b2"/>
<path d="M441.4 385.7 C444.3 366.5 435.1 349.1 421.0 342.1 C417.3 357.4 424.7 375.6 441.4 385.7Z" fill="#b2b2b2"/>
<path d="M442.3 385.7 C460.6 375.6 470.6 356.4 468.8 339.8 C453.5 346.6 441.9 364.8 442.3 385.7Z" fill="#b2b2b2"/>
<path d="M443.2 386.1 C470.2 389.2 497.5 378.1 511.1 361.4 C490.0 357.3 461.9 366.4 443.2 386.1Z" fill="#b2b2b2"/>
<path d="M440.6 387.3 C414.8 388.1 391.5 402.9 382.2 421.1 C402.6 422.0 427.0 409.2 440.6 387.3Z" fill="#b2b2b2"/>
<path d="M239.8 372.2 C273.5 389.2 316.5 394.1 344.8 386.9 C319.6 372.2 276.9 365.1 239.8 372.2Z" fill="#adadad"/>
<path d="M345.6 640.9 C357.4 614.1 350.8 585.3 333.1 569.7 C321.7 590.4 325.4 619.7 345.6 640.9Z" fill="#b8b8b8"/>
<path d="M346.6 641.1 C371.7 627.4 385.3 601.2 382.8 578.5 C361.8 587.7 345.9 612.6 346.6 641.1Z" fill="#b2b2b2"/>
<path d="M288.1 604.7 C316.0 604.3 340.9 588.5 350.8 568.6 C328.6 567.2 302.5 580.8 288.1 604.7Z" fill="#a8a8a8"/>
<path d="M434.0 529.2 C468.1 548.2 509.4 546.5 535.2 529.2 C509.4 512.0 468.1 510.3 434.0 529.2Z" fill="#d6d6d6"/>
<path d="M433.5 530.5 C448.2 564.3 480.2 587.3 509.4 589.8 C499.9 562.1 469.9 536.6 433.5 530.5Z" fill="#d1d1d1"/>
<path d="M432.3 531.5 C421.7 572.1 431.3 617.4 452.0 643.1 C462.7 611.8 456.3 566.0 432.3 531.5Z" fill="#cccccc"/>
<path d="M431.2 531.2 C403.4 556.7 389.2 595.5 393.3 625.0 C416.6 606.6 433.4 568.8 431.2 531.2Z" fill="#c7c7c7"/>
<path d="M433.6 528.2 C470.4 525.9 503.0 503.7 515.3 477.1 C486.0 476.6 451.8 496.1 433.6 528.2Z" fill="#cccccc"/>
<path d="M430.7 529.2 C409.6 514.4 384.0 515.7 368.0 529.2 C384.0 542.8 409.6 544.1 430.7 529.2Z" fill="#c7c7c7"/>
<path d="M432.4 527.9 C454.7 510.1 463.6 481.9 457.2 459.9 C438.2 472.6 426.8 499.9 432.4 527.9Z" fill="#c2c2c2"/>
<path d="M430.7 530.0 C402.1 529.3 377.3 545.2 368.1 566.1 C390.8 568.6 417.0 555.0 430.7 530.0Z" fill="#c2c2c2"/>
<path d="M419.6 517.0C427.4 512.9 454.9 511.2 463.9 514.5C472.9 517.8 477.0 531.3 473.7 536.6C470.5 542.0 453.7 546.0 444.2 546.5C434.8 546.9 421.3 544.0 417.2 539.1C413.1 534.2 411.9 521.1 419.6 517.0Z" fill="#e6e6e6"/>
<polygon points="365.6,450.6 390.1,445.6 417.2,453.0 420.1,462.9 395.1,472.7 382.8,482.5 370.5,462.9" fill="#1a1a1a"/>
<polygon points="488.5,376.8 520.0,379.3 520.0,392.0 493.4,389.6" fill="#0d0d0d"/>
<polygon points="500.0,379.3 554.6,376.8 539.3,387.1 507.4,392.0" fill="#141414"/>
<polygon points="512.3,411.2 549.2,406.3 581.6,401.4 578.7,416.6 529.5,421.6" fill="#1a1a1a"/>
<polygon points="529.5,426.0 542.3,423.5 536.9,433.8" fill="#1a1a1a"/>
<polygon points="549.2,462.9 569.3,455.5 561.5,473.2" fill="#333333"/>
<polygon points="524.6,578.4 557.0,568.6 532.0,593.7" fill="#404040"/>
<polygon points="500.0,612.8 527.5,605.5 514.8,630.5 500.0,630.5" fill="#404040"/>
<polygon points="500.0,635.0 525.1,637.9 500.0,642.4" fill="#333333"/>
<g filter="url(#soft4)"><path d="M721.3 379.3C726.2 373.4 760.6 369.6 770.5 371.9C780.3 374.2 790.1 386.6 795.1 396.5C800.0 406.3 807.4 430.9 807.4 445.6C807.4 460.4 801.6 495.6 795.1 507.1C788.5 518.6 764.7 535.0 758.2 531.7C751.6 528.4 747.5 494.0 745.9 482.5C744.2 471.1 747.5 454.5 745.9 445.6C744.2 436.8 736.9 425.0 733.6 416.1C730.3 407.3 716.4 385.2 721.3 379.3Z" fill="#7d7d7d"/></g>
<g filter="url(#soft4)"><path d="M652.4 453.0C657.4 451.3 680.2 457.1 686.9 462.9C693.5 468.6 697.2 485.7 692.3 487.4C687.4 489.2 664.0 478.9 657.4 473.2C650.7 467.4 647.5 454.7 652.4 453.0Z" fill="#787878"/></g>
<g filter="url(#soft4)"><path d="M657.4 507.1C667.6 500.5 709.3 487.4 721.3 487.4C733.3 487.4 733.3 499.7 729.2 507.1C725.1 514.6 708.3 528.8 696.7 532.2C685.1 535.6 666.4 531.5 659.8 527.3C653.3 523.1 647.1 513.8 657.4 507.1Z" fill="#787878"/></g>
<g filter="url(#soft4)"><path d="M691.8 556.3C695.1 548.4 713.8 539.9 721.3 544.0C728.8 548.1 739.8 573.0 736.5 580.9C733.3 588.7 709.1 595.3 701.6 591.2C694.2 587.1 688.5 564.2 691.8 556.3Z" fill="#787878"/></g>
<g filter="url(#soft4)"><path d="M758.2 544.0C763.1 540.6 786.8 550.1 795.1 556.3C803.3 562.4 812.8 577.5 807.8 580.9C802.9 584.2 773.8 582.6 765.6 576.5C757.3 570.3 753.3 547.4 758.2 544.0Z" fill="#7d7d7d"/></g>
<g filter="url(#soft4)"><path d="M672.1 408.8C678.7 405.9 713.9 411.2 721.3 416.1C728.7 421.1 722.9 435.4 716.4 438.3C709.8 441.1 689.3 438.3 682.0 433.4C674.6 428.4 665.6 411.6 672.1 408.8Z" fill="#808080"/></g>
<path d="M748.7 470.9 C774.0 444.0 778.7 406.9 764.6 380.7 C742.3 400.5 734.0 437.0 748.7 470.9Z" fill="#787878"/>
<path d="M749.5 471.7 C779.4 469.6 801.0 449.4 804.8 425.3 C780.4 424.9 756.8 442.6 749.5 471.7Z" fill="#7a7a7a"/>
<path d="M749.6 473.4 C761.9 500.8 788.3 514.2 812.2 509.6 C804.2 486.5 779.5 470.4 749.6 473.4Z" fill="#7d7d7d"/>
<path d="M748.6 474.1 C735.5 501.2 742.2 530.0 761.1 545.3 C773.7 524.4 770.1 495.1 748.6 474.1Z" fill="#7a7a7a"/>
<path d="M695.7 522.2 C673.8 514.4 654.0 523.0 645.9 540.4 C663.2 548.5 684.0 542.3 695.7 522.2Z" fill="#787878"/>
<path d="M696.3 523.1 C675.1 537.8 667.6 562.3 674.8 581.9 C693.0 571.6 703.0 548.0 696.3 523.1Z" fill="#7a7a7a"/>
<path d="M697.7 522.7 C704.3 547.6 724.7 563.0 745.7 563.0 C742.1 542.3 723.4 524.9 697.7 522.7Z" fill="#7d7d7d"/>
<path d="M586.9 436.8 C614.7 421.0 630.2 391.3 627.9 365.9 C604.6 376.6 586.6 404.8 586.9 436.8Z" fill="#bababa"/>
<path d="M587.9 437.6 C623.1 442.0 658.7 427.5 676.2 405.5 C648.6 399.8 612.0 411.5 587.9 437.6Z" fill="#bababa"/>
<path d="M587.5 439.1 C601.9 469.3 631.8 484.5 658.5 480.1 C649.0 454.7 620.9 436.5 587.5 439.1Z" fill="#bababa"/>
<path d="M584.5 437.7 C563.7 414.3 531.8 404.1 507.5 409.7 C522.5 429.5 553.5 442.2 584.5 437.7Z" fill="#bababa"/>
<path d="M584.9 438.7 C560.4 433.2 536.8 443.1 526.0 460.1 C545.2 466.2 569.7 458.6 584.9 438.7Z" fill="#bababa"/>
<path d="M585.8 439.5 C570.2 458.2 566.8 483.6 575.0 501.2 C588.6 487.4 594.2 462.4 585.8 439.5Z" fill="#bababa"/>
<path d="M585.7 437.3 C590.3 418.4 582.7 400.2 569.2 392.1 C564.2 407.0 570.0 425.8 585.7 437.3Z" fill="#bababa"/>
<path d="M739.6 467.8 C717.7 455.6 691.2 456.7 674.6 467.8 C691.2 478.8 717.7 479.9 739.6 467.8Z" fill="#a8a8a8"/>
<path d="M739.8 467.4 C724.4 450.3 701.0 442.8 683.2 446.8 C694.3 461.3 717.0 470.6 739.8 467.4Z" fill="#a8a8a8"/>
<path d="M740.2 467.0 C736.2 447.3 721.1 433.1 705.1 430.6 C707.0 446.8 720.6 462.3 740.2 467.0Z" fill="#a8a8a8"/>
<path d="M739.9 468.2 C718.7 464.4 697.7 473.0 687.8 487.1 C704.5 491.5 726.1 484.7 739.9 468.2Z" fill="#a8a8a8"/>
<path d="M740.2 468.5 C721.5 473.9 707.5 489.1 704.5 504.3 C719.7 501.2 734.9 487.2 740.2 468.5Z" fill="#a8a8a8"/>
<path d="M740.7 466.9 C743.3 450.4 736.5 434.1 725.8 426.2 C722.7 439.1 728.0 456.0 740.7 466.9Z" fill="#a8a8a8"/>
<path d="M710.0 369.4 C685.6 360.0 656.1 360.8 637.7 369.4 C656.1 378.0 685.6 378.9 710.0 369.4Z" fill="#adadad"/>
<path d="M710.6 369.9 C692.5 371.0 675.8 381.5 668.9 394.0 C683.2 394.3 700.6 385.1 710.6 369.9Z" fill="#adadad"/>
<path d="M712.3 369.9 C722.3 385.1 739.7 394.3 754.0 394.0 C747.1 381.5 730.4 371.0 712.3 369.9Z" fill="#adadad"/>
<path d="M711.3 370.4 C700.5 385.0 697.8 404.5 702.9 417.9 C712.3 407.0 716.5 387.8 711.3 370.4Z" fill="#adadad"/>
<path d="M712.7 369.4 C733.0 377.5 757.6 376.8 772.9 369.4 C757.6 362.0 733.0 361.3 712.7 369.4Z" fill="#adadad"/>
<path d="M744.6 644.8 C723.5 627.2 697.9 628.8 682.0 644.8 C697.9 660.8 723.5 662.4 744.6 644.8Z" fill="#a8a8a8"/>
<path d="M744.8 644.4 C731.6 623.8 708.9 617.0 690.4 624.6 C699.7 642.4 721.4 651.7 744.8 644.4Z" fill="#a8a8a8"/>
<path d="M746.9 644.8 C763.1 659.7 782.8 658.3 795.1 644.8 C782.8 631.3 763.1 629.9 746.9 644.8Z" fill="#a3a3a3"/>
<path d="M621.4 563.9 C593.2 550.1 562.3 556.1 545.0 574.6 C566.7 587.7 598.1 584.9 621.4 563.9Z" fill="#a8a8a8"/>
<path d="M621.6 563.0 C605.8 539.3 578.5 528.0 556.1 532.5 C567.1 552.5 593.3 566.2 621.6 563.0Z" fill="#a8a8a8"/>
<path d="M622.0 564.8 C593.9 573.0 576.1 596.6 575.5 620.2 C598.7 615.5 618.8 593.9 622.0 564.8Z" fill="#a8a8a8"/>
<path d="M807.2 453.8 C793.0 464.5 791.3 480.2 800.5 491.8 C813.1 484.0 816.9 468.7 807.2 453.8Z" fill="#9e9e9e"/>
<path d="M842.7 556.0 C821.2 533.0 790.9 529.4 769.2 543.1 C784.9 563.3 814.7 570.3 842.7 556.0Z" fill="#dbdbdb"/>
<path d="M843.8 554.8 C850.4 527.0 841.3 497.9 824.5 482.7 C817.6 504.3 824.3 534.0 843.8 554.8Z" fill="#cccccc"/>
<path d="M845.0 557.5 C843.7 586.1 860.1 609.5 882.0 616.8 C885.1 593.8 871.2 568.9 845.0 557.5Z" fill="#cccccc"/>
<path d="M843.4 557.7 C815.2 571.4 800.9 599.4 804.9 624.4 C828.6 615.4 845.7 588.9 843.4 557.7Z" fill="#d1d1d1"/>
<path d="M536.7 555.0 C550.3 531.2 544.3 506.3 525.8 493.3 C512.8 511.9 515.7 537.3 536.7 555.0Z" fill="#dbdbdb"/>
<path d="M537.6 555.3 C560.9 547.9 573.3 527.8 570.7 508.0 C551.2 512.3 536.5 530.8 537.6 555.3Z" fill="#dbdbdb"/>
<path d="M537.7 556.6 C545.5 575.3 561.7 579.7 576.2 570.6 C571.0 554.3 555.7 547.3 537.7 556.6Z" fill="#dbdbdb"/>
<path d="M536.0 556.0 C525.8 536.4 506.8 531.0 490.7 539.5 C497.6 556.4 515.6 564.4 536.0 556.0Z" fill="#dbdbdb"/>
<path d="M536.0 556.8 C515.2 553.2 498.8 564.1 494.3 580.9 C511.1 585.4 528.7 576.6 536.0 556.8Z" fill="#dbdbdb"/>
<path d="M536.8 557.1 C522.2 568.8 522.1 584.6 533.5 595.5 C546.6 586.8 549.2 571.2 536.8 557.1Z" fill="#dbdbdb"/>
<polyline points="849.2,519.4 918.0,475.2" fill="none" stroke="#a8a8a8" stroke-width="1.8" stroke-linecap="round" stroke-linejoin="round"/>
<polyline points="745.9,517.0 748.3,556.3" fill="none" stroke="#a8a8a8" stroke-width="1.6" stroke-linecap="round" stroke-linejoin="round"/>
<polyline points="346.2,545.7 382.3,559.6 415.4,579.4" fill="none" stroke="#949494" stroke-width="1.4" stroke-linecap="round" stroke-linejoin="round" opacity="0.8"/>
<polyline points="621.7,355.8 635.1,388.6 636.4,424.0" fill="none" stroke="#929292" stroke-width="1.6" stroke-linecap="round" stroke-linejoin="round" opacity="0.8"/>
<polyline points="641.5,406.1 592.9,427.0 547.3,453.8" fill="none" stroke="#8d8d8d" stroke-width="1.5" stroke-linecap="round" stroke-linejoin="round" opacity="0.8"/>
<polyline points="639.9,543.5 629.3,582.4 615.7,620.3" fill="none" stroke="#909090" stroke-width="1.2" stroke-linecap="round" stroke-linejoin="round" opacity="0.8"/>
<polyline points="420.9,609.8 396.1,630.6 365.2,640.6" fill="none" stroke="#929292" stroke-width="1.2" stroke-linecap="round" stroke-linejoin="round" opacity="0.8"/>
<polyline points="868.2,524.1 820.1,524.7 775.9,543.9" fill="none" stroke="#939393" stroke-width="1.7" stroke-linecap="round" stroke-linejoin="round" opacity="0.8"/>
<polyline points="849.8,421.6 837.4,468.7 841.1,517.3" fill="none" stroke="#959595" stroke-width="1.7" stroke-linecap="round" stroke-linejoin="round" opacity="0.8"/>
<polyline points="376.0,510.7 388.4,535.2 398.1,560.9" fill="none" stroke="#969696" stroke-width="1.5" stroke-linecap="round" stroke-linejoin="round" opacity="0.8"/>
<polyline points="465.9,474.0 425.2,516.0 376.4,548.4" fill="none" stroke="#8d8d8d" stroke-width="1.8" stroke-linecap="round" stroke-linejoin="round" opacity="0.8"/>
<polyline points="663.4,397.2 685.8,404.6 706.6,415.5" fill="none" stroke="#8e8e8e" stroke-width="1.7" stroke-linecap="round" stroke-linejoin="round" opacity="0.8"/>
<polyline points="415.0,500.3 413.6,522.4 422.7,542.6" fill="none" stroke="#959595" stroke-width="1.8" stroke-linecap="round" stroke-linejoin="round" opacity="0.8"/>
<polyline points="483.3,570.4 427.5,583.1 371.0,574.2" fill="none" stroke="#909090" stroke-width="1.6" stroke-linecap="round" stroke-linejoin="round" opacity="0.8"/>
<polyline points="661.0,580.8 636.7,629.7 597.0,667.2" fill="none" stroke="#909090" stroke-width="1.6" stroke-linecap="round" stroke-linejoin="round" opacity="0.8"/>
<polyline points="445.7,430.4 410.9,440.8 374.7,444.7" fill="none" stroke="#929292" stroke-width="1.3" stroke-linecap="round" stroke-linejoin="round" opacity="0.8"/>
<polyline points="659.1,588.7 672.1,620.4 694.1,646.7" fill="none" stroke="#8e8e8e" stroke-width="1.7" stroke-linecap="round" stroke-linejoin="round" opacity="0.8"/>
<polyline points="771.0,580.8 734.4,627.0 711.7,681.3" fill="none" stroke="#8e8e8e" stroke-width="1.3" stroke-linecap="round" stroke-linejoin="round" opacity="0.8"/>
<polyline points="538.1,612.5 561.8,643.7 596.4,662.2" fill="none" stroke="#8d8d8d" stroke-width="1.5" stroke-linecap="round" stroke-linejoin="round" opacity="0.8"/>
<polyline points="743.7,500.8 694.4,527.1 638.7,529.7" fill="none" stroke="#929292" stroke-width="1.3" stroke-linecap="round" stroke-linejoin="round" opacity="0.8"/>
<polyline points="412.3,570.4 431.1,578.1 448.1,589.3" fill="none" stroke="#8e8e8e" stroke-width="1.6" stroke-linecap="round" stroke-linejoin="round" opacity="0.8"/>
<polyline points="433.5,491.8 468.4,496.4 503.6,495.0" fill="none" stroke="#8f8f8f" stroke-width="1.2" stroke-linecap="round" stroke-linejoin="round" opacity="0.8"/>
<polyline points="653.2,548.8 669.4,563.6 688.5,574.4" fill="none" stroke="#939393" stroke-width="1.3" stroke-linecap="round" stroke-linejoin="round" opacity="0.8"/>
<polyline points="725.0,383.1 706.8,401.6 694.3,424.4" fill="none" stroke="#949494" stroke-width="1.5" stroke-linecap="round" stroke-linejoin="round" opacity="0.8"/>
<polyline points="751.7,187.4 720.7,196.9 693.5,214.4" fill="none" stroke="#8a8a8a" stroke-width="1.2" stroke-linecap="round" stroke-linejoin="round" opacity="0.8"/>
<polyline points="605.4,36.2 608.9,101.0 599.9,165.3" fill="none" stroke="#8e8e8e" stroke-width="1.4" stroke-linecap="round" stroke-linejoin="round" opacity="0.8"/>
<polyline points="750.3,131.4 808.2,141.4 864.5,158.2" fill="none" stroke="#8b8b8b" stroke-width="1.2" stroke-linecap="round" stroke-linejoin="round" opacity="0.8"/>
<polyline points="581.2,292.7 632.3,298.2 675.6,325.9" fill="none" stroke="#8a8a8a" stroke-width="1.4" stroke-linecap="round" stroke-linejoin="round" opacity="0.8"/>
<polyline points="713.9,278.7 740.7,302.1 772.5,318.1" fill="none" stroke="#8a8a8a" stroke-width="1.6" stroke-linecap="round" stroke-linejoin="round" opacity="0.8"/>
<polyline points="791.8,167.1 845.8,167.2 898.2,179.8" fill="none" stroke="#909090" stroke-width="1.4" stroke-linecap="round" stroke-linejoin="round" opacity="0.8"/>
<polyline points="862.1,179.2 843.2,222.2 836.1,268.7" fill="none" stroke="#8e8e8e" stroke-width="1.7" stroke-linecap="round" stroke-linejoin="round" opacity="0.8"/>
<polyline points="854.5,118.5 798.0,138.7 755.7,181.4" fill="none" stroke="#8b8b8b" stroke-width="1.3" stroke-linecap="round" stroke-linejoin="round" opacity="0.8"/>
<polyline points="625.2,214.1 614.7,261.0 583.6,297.7" fill="none" stroke="#8d8d8d" stroke-width="1.3" stroke-linecap="round" stroke-linejoin="round" opacity="0.8"/>
<polyline points="676.5,124.4 628.2,139.0 590.4,172.4" fill="none" stroke="#8e8e8e" stroke-width="1.2" stroke-linecap="round" stroke-linejoin="round" opacity="0.8"/>
<polyline points="744.1,64.8 791.5,84.7 829.8,118.9" fill="none" stroke="#909090" stroke-width="1.3" stroke-linecap="round" stroke-linejoin="round" opacity="0.8"/>
<polyline points="757.6,130.0 793.7,127.3 829.5,131.5" fill="none" stroke="#909090" stroke-width="1.3" stroke-linecap="round" stroke-linejoin="round" opacity="0.8"/>
<polyline points="811.7,227.2 846.4,280.8 892.7,324.8" fill="none" stroke="#8a8a8a" stroke-width="1.5" stroke-linecap="round" stroke-linejoin="round" opacity="0.8"/>
<polyline points="865.9,171.9 854.7,215.2 853.0,260.0" fill="none" stroke="#8d8d8d" stroke-width="1.4" stroke-linecap="round" stroke-linejoin="round" opacity="0.8"/>
<polygon points="100.0,357.0 920.0,364.0 920.0,372.0 100.0,367.0" fill="#b8b8b8"/>
<polygon points="100.0,357.0 115.5,357.0 115.5,650.0 100.0,650.0" fill="#cccccc"/>
<polygon points="100.0,326.0 920.0,330.0 920.0,364.0 100.0,359.0" fill="#dbdbdb"/>
<polygon points="105.0,339.5 560.0,341.0 700.0,340.5 700.0,349.0 105.0,346.8" fill="#9e9e9e"/>
<polyline points="118.0,336.0 400.0,336.2 920.0,337.5" fill="none" stroke="#ffffff" stroke-width="6.2" stroke-linecap="round" stroke-linejoin="round"/>
<polyline points="118.0,350.2 400.0,350.8 920.0,355.5" fill="none" stroke="#ffffff" stroke-width="6.8" stroke-linecap="round" stroke-linejoin="round"/></g></g>
<defs><linearGradient id="cbA" x1="0" x2="0" y1="0" y2="1"><stop offset="0" stop-color="#f39c9c"/><stop offset="0.09" stop-color="#ee1212"/><stop offset="0.2" stop-color="#ee4414"/><stop offset="0.3" stop-color="#ee7a10"/><stop offset="0.38" stop-color="#e8b410"/><stop offset="0.44" stop-color="#e8e40e"/><stop offset="0.55" stop-color="#c4c824"/><stop offset="0.65" stop-color="#9aae3a"/><stop offset="0.76" stop-color="#64884e"/><stop offset="0.87" stop-color="#2a686c"/><stop offset="0.96" stop-color="#104a72"/><stop offset="1" stop-color="#082a5c"/></linearGradient><linearGradient id="batA" x1="0" x2="0" y1="0" y2="1"><stop offset="0" stop-color="#3c9c22"/><stop offset="0.3" stop-color="#a8f060"/><stop offset="0.6" stop-color="#4cc030"/><stop offset="1" stop-color="#1e7a14"/></linearGradient></defs>
<g clip-path="url(#clipA)"><polyline points="120,336 400,336.3 920,337.6" fill="none" stroke="#f3dfea" stroke-width="5.6" stroke-linecap="round"/><polyline points="120,350.3 400,350.9 920,355.5" fill="none" stroke="#f3dfea" stroke-width="6.2" stroke-linecap="round"/></g>
<rect x="834.5" y="198.5" width="44" height="211" fill="#ece8f4"/>
<rect x="838" y="203" width="36" height="201" fill="url(#cbA)"/>
<rect x="144" y="79" width="47" height="25" rx="4" fill="url(#batA)"/><rect x="190" y="86" width="5" height="11" fill="#4aa83a"/>
<path d="M199 68 H236 L242.5 74 V115 H199Z" fill="#1c2a70"/>
<text x="220.5" y="104" font-size="33" text-anchor="middle" fill="#e8e8f4" textLength="36" lengthAdjust="spacingAndGlyphs" font-family="Liberation Sans, Arial, sans-serif">SD</text>
<rect x="258" y="76" width="32" height="24" fill="#a8e860" stroke="#88a868" stroke-width="2"/>
<rect x="250" y="84" width="31" height="25" fill="#2eb82e" stroke="#7a9a6a" stroke-width="1.5"/>
<text x="265.5" y="106" font-size="25" font-weight="bold" text-anchor="middle" fill="#d8f8d0" font-family="Liberation Sans, Arial, sans-serif">Σ</text>
<circle cx="524" cy="90.5" r="23.5" fill="#e81418"/>
<text x="501.5" y="103.5" font-size="31" font-weight="bold" fill="#3a2050" textLength="47" lengthAdjust="spacingAndGlyphs" font-family="Liberation Sans, Arial, sans-serif">REC</text>
<text x="500" y="101.5" font-size="31" font-weight="bold" fill="#f8e8f4" textLength="47" lengthAdjust="spacingAndGlyphs" font-family="Liberation Sans, Arial, sans-serif">REC</text>
<circle cx="625" cy="93" r="19" fill="none" stroke="#e81428" stroke-width="5.5"/><circle cx="625" cy="74" r="6" fill="#e81428"/><path d="M601 72 L625 95" stroke="#e81428" stroke-width="4.5" fill="none" stroke-linecap="round"/>
<rect x="652.5" y="68" width="47.5" height="47" fill="#3468e8"/>
<text x="676" y="88" font-size="12.5" font-weight="bold" text-anchor="middle" fill="#cfe0ff" textLength="40" lengthAdjust="spacingAndGlyphs" font-family="Liberation Sans, Arial, sans-serif">INTER</text>
<text x="676" y="109" font-size="12.5" font-weight="bold" text-anchor="middle" fill="#f0f4ff" textLength="38" lengthAdjust="spacingAndGlyphs" font-family="Liberation Sans, Arial, sans-serif">TEMP</text>
<text x="167.6" y="137.5" fill="#2c2a58" stroke="#2c2a58" stroke-width="2.2" stroke-linejoin="round" font-size="27" font-weight="bold" textLength="112.0" lengthAdjust="spacingAndGlyphs" font-family="Liberation Mono, DejaVu Sans Mono, monospace">(2102)</text><text x="166.0" y="135.5" fill="#f4f2f8" stroke="#f4f2f8" stroke-width="0.7" font-size="27" font-weight="bold" textLength="112.0" lengthAdjust="spacingAndGlyphs" font-family="Liberation Mono, DejaVu Sans Mono, monospace">(2102)</text>
<text x="725.6" y="87.5" fill="#2c2a58" stroke="#2c2a58" stroke-width="2.2" stroke-linejoin="round" font-size="27" font-weight="bold" textLength="160.0" lengthAdjust="spacingAndGlyphs" font-family="Liberation Mono, DejaVu Sans Mono, monospace">18/07/03</text><text x="724.0" y="85.5" fill="#f4f2f8" stroke="#f4f2f8" stroke-width="0.7" font-size="27" font-weight="bold" textLength="160.0" lengthAdjust="spacingAndGlyphs" font-family="Liberation Mono, DejaVu Sans Mono, monospace">18/07/03</text>
<text x="722.6" y="108.5" fill="#2c2a58" stroke="#2c2a58" stroke-width="2.2" stroke-linejoin="round" font-size="27" font-weight="bold" textLength="163.0" lengthAdjust="spacingAndGlyphs" font-family="Liberation Mono, DejaVu Sans Mono, monospace">09:31:05</text><text x="721.0" y="106.5" fill="#f4f2f8" stroke="#f4f2f8" stroke-width="0.7" font-size="27" font-weight="bold" textLength="163.0" lengthAdjust="spacingAndGlyphs" font-family="Liberation Mono, DejaVu Sans Mono, monospace">09:31:05</text>
<text x="770.6" y="148.0" fill="#2c2a58" stroke="#2c2a58" stroke-width="2.2" stroke-linejoin="round" font-size="27" font-weight="bold" textLength="16.0" lengthAdjust="spacingAndGlyphs" font-family="Liberation Mono, DejaVu Sans Mono, monospace">&lt;</text><text x="769.0" y="146.0" fill="#f4f2f8" stroke="#f4f2f8" stroke-width="0.7" font-size="27" font-weight="bold" textLength="16.0" lengthAdjust="spacingAndGlyphs" font-family="Liberation Mono, DejaVu Sans Mono, monospace">&lt;</text>
<text x="827.6" y="148.0" fill="#2c2a58" stroke="#2c2a58" stroke-width="2.2" stroke-linejoin="round" font-size="27" font-weight="bold" textLength="54.0" lengthAdjust="spacingAndGlyphs" font-family="Liberation Mono, DejaVu Sans Mono, monospace">60)</text><text x="826.0" y="146.0" fill="#f4f2f8" stroke="#f4f2f8" stroke-width="0.7" font-size="27" font-weight="bold" textLength="54.0" lengthAdjust="spacingAndGlyphs" font-family="Liberation Mono, DejaVu Sans Mono, monospace">60)</text>
<text x="804.6" y="180.0" fill="#2c2a58" stroke="#2c2a58" stroke-width="2.2" stroke-linejoin="round" font-size="27" font-weight="bold" textLength="81.0" lengthAdjust="spacingAndGlyphs" font-family="Liberation Mono, DejaVu Sans Mono, monospace">32.0</text><text x="803.0" y="178.0" fill="#f4f2f8" stroke="#f4f2f8" stroke-width="0.7" font-size="27" font-weight="bold" textLength="81.0" lengthAdjust="spacingAndGlyphs" font-family="Liberation Mono, DejaVu Sans Mono, monospace">32.0</text>
<text x="805.6" y="453.5" fill="#2c2a58" stroke="#2c2a58" stroke-width="2.2" stroke-linejoin="round" font-size="27" font-weight="bold" textLength="80.0" lengthAdjust="spacingAndGlyphs" font-family="Liberation Mono, DejaVu Sans Mono, monospace">26.5</text><text x="804.0" y="451.5" fill="#f4f2f8" stroke="#f4f2f8" stroke-width="0.7" font-size="27" font-weight="bold" textLength="80.0" lengthAdjust="spacingAndGlyphs" font-family="Liberation Mono, DejaVu Sans Mono, monospace">26.5</text>
<text x="832.6" y="483.0" fill="#2c2a58" stroke="#2c2a58" stroke-width="2.2" stroke-linejoin="round" font-size="25" font-weight="bold" textLength="49.0" lengthAdjust="spacingAndGlyphs" font-family="Liberation Mono, DejaVu Sans Mono, monospace">[°c]</text><text x="831.0" y="481.0" fill="#f4f2f8" stroke="#f4f2f8" stroke-width="0.7" font-size="25" font-weight="bold" textLength="49.0" lengthAdjust="spacingAndGlyphs" font-family="Liberation Mono, DejaVu Sans Mono, monospace">[°c]</text>
<text x="136.1" y="613.5" fill="#2c2a58" stroke="#2c2a58" stroke-width="2.2" stroke-linejoin="round" font-size="27" font-weight="bold" textLength="121.0" lengthAdjust="spacingAndGlyphs" font-family="Liberation Mono, DejaVu Sans Mono, monospace">E=1.00</text><text x="134.5" y="611.5" fill="#f4f2f8" stroke="#f4f2f8" stroke-width="0.7" font-size="27" font-weight="bold" textLength="121.0" lengthAdjust="spacingAndGlyphs" font-family="Liberation Mono, DejaVu Sans Mono, monospace">E=1.00</text>
<text x="293.6" y="613.5" fill="#2c2a58" stroke="#2c2a58" stroke-width="2.2" stroke-linejoin="round" font-size="27" font-weight="bold" textLength="54.0" lengthAdjust="spacingAndGlyphs" font-family="Liberation Mono, DejaVu Sans Mono, monospace">TA=</text><text x="292.0" y="611.5" fill="#f4f2f8" stroke="#f4f2f8" stroke-width="0.7" font-size="27" font-weight="bold" textLength="54.0" lengthAdjust="spacingAndGlyphs" font-family="Liberation Mono, DejaVu Sans Mono, monospace">TA=</text>
<text x="369.6" y="613.5" fill="#2c2a58" stroke="#2c2a58" stroke-width="2.2" stroke-linejoin="round" font-size="27" font-weight="bold" textLength="79.0" lengthAdjust="spacingAndGlyphs" font-family="Liberation Mono, DejaVu Sans Mono, monospace">23.6</text><text x="368.0" y="611.5" fill="#f4f2f8" stroke="#f4f2f8" stroke-width="0.7" font-size="27" font-weight="bold" textLength="79.0" lengthAdjust="spacingAndGlyphs" font-family="Liberation Mono, DejaVu Sans Mono, monospace">23.6</text>
<text x="480.6" y="613.5" fill="#2c2a58" stroke="#2c2a58" stroke-width="2.2" stroke-linejoin="round" font-size="27" font-weight="bold" textLength="75.0" lengthAdjust="spacingAndGlyphs" font-family="Liberation Mono, DejaVu Sans Mono, monospace">ALM:</text><text x="479.0" y="611.5" fill="#f4f2f8" stroke="#f4f2f8" stroke-width="0.7" font-size="27" font-weight="bold" textLength="75.0" lengthAdjust="spacingAndGlyphs" font-family="Liberation Mono, DejaVu Sans Mono, monospace">ALM:</text>
<text x="580.6" y="613.5" fill="#2c2a58" stroke="#2c2a58" stroke-width="2.2" stroke-linejoin="round" font-size="27" font-weight="bold" textLength="61.0" lengthAdjust="spacingAndGlyphs" font-family="Liberation Mono, DejaVu Sans Mono, monospace">OFF</text><text x="579.0" y="611.5" fill="#f4f2f8" stroke="#f4f2f8" stroke-width="0.7" font-size="27" font-weight="bold" textLength="61.0" lengthAdjust="spacingAndGlyphs" font-family="Liberation Mono, DejaVu Sans Mono, monospace">OFF</text>
<text x="723.1" y="613.5" fill="#2c2a58" stroke="#2c2a58" stroke-width="2.2" stroke-linejoin="round" font-size="27" font-weight="bold" textLength="162.0" lengthAdjust="spacingAndGlyphs" font-family="Liberation Mono, DejaVu Sans Mono, monospace">ZOOM=OFF</text><text x="721.5" y="611.5" fill="#f4f2f8" stroke="#f4f2f8" stroke-width="0.7" font-size="27" font-weight="bold" textLength="162.0" lengthAdjust="spacingAndGlyphs" font-family="Liberation Mono, DejaVu Sans Mono, monospace">ZOOM=OFF</text>
<text x="130.5" y="200" font-size="44" font-weight="bold" fill="#fff" textLength="162" lengthAdjust="spacingAndGlyphs" font-family="Liberation Sans, Arial, sans-serif">Control</text>
<text x="127" y="415" font-size="42" font-weight="bold" fill="#fff" textLength="205" lengthAdjust="spacingAndGlyphs" font-family="Liberation Sans, Arial, sans-serif">10 mM AA</text>
<text x="128" y="468" font-size="45" font-weight="bold" fill="#fff" textLength="207" lengthAdjust="spacingAndGlyphs" font-family="Liberation Sans, Arial, sans-serif">treatment</text>
<text x="534.7" y="86.9" font-size="67" font-weight="bold" text-anchor="middle" fill="#000" font-family="Liberation Sans, Arial, sans-serif">*</text>
<text x="512.4" y="199.3" font-size="67" font-weight="bold" text-anchor="middle" fill="#000" font-family="Liberation Sans, Arial, sans-serif">*</text>
<text x="634.2" y="194.6" font-size="67" font-weight="bold" text-anchor="middle" fill="#000" font-family="Liberation Sans, Arial, sans-serif">*</text>
<text x="737.2" y="152.4" font-size="67" font-weight="bold" text-anchor="middle" fill="#000" font-family="Liberation Sans, Arial, sans-serif">*</text>
<text x="684.5" y="271.9" font-size="67" font-weight="bold" text-anchor="middle" fill="#000" font-family="Liberation Sans, Arial, sans-serif">*</text>
<text x="372.9" y="574.5" font-size="67" font-weight="bold" text-anchor="middle" fill="#000" font-family="Liberation Sans, Arial, sans-serif">*</text>
<text x="488.5" y="521.7" font-size="67" font-weight="bold" text-anchor="middle" fill="#000" font-family="Liberation Sans, Arial, sans-serif">*</text>
<text x="640.2" y="465.1" font-size="67" font-weight="bold" text-anchor="middle" fill="#000" font-family="Liberation Sans, Arial, sans-serif">*</text>
<text x="538.1" y="564.7" font-size="67" font-weight="bold" text-anchor="middle" fill="#000" font-family="Liberation Sans, Arial, sans-serif">*</text>
<text x="816.0" y="580.7" font-size="67" font-weight="bold" text-anchor="middle" fill="#000" font-family="Liberation Sans, Arial, sans-serif">*</text>
<defs><filter id="thC" filterUnits="userSpaceOnUse" x="1137" y="25" width="833" height="628" color-interpolation-filters="sRGB"><feGaussianBlur in="SourceGraphic" stdDeviation="1.5" result="b"/><feTurbulence type="fractalNoise" baseFrequency="0.22" numOctaves="2" seed="7" result="n0"/><feColorMatrix in="n0" type="matrix" values="1 0 0 0 0  1 0 0 0 0  1 0 0 0 0  0 0 0 0 1" result="n"/><feComposite in="b" in2="n" operator="arithmetic" k1="0" k2="1" k3="0.11" k4="-0.055" result="m"/><feComponentTransfer in="m"><feFuncR type="table" tableValues="0.039 0.049 0.059 0.081 0.112 0.142 0.173 0.227 0.282 0.337 0.392 0.443 0.494 0.545 0.596 0.639 0.682 0.725 0.769 0.804 0.839 0.875 0.910 0.918 0.927 0.934 0.936 0.939 0.941 0.939 0.937 0.935 0.933 0.931 0.929 0.927 0.925 0.933 0.941 0.949 0.957"/><feFuncG type="table" tableValues="0.188 0.231 0.273 0.310 0.342 0.375 0.408 0.439 0.471 0.502 0.533 0.569 0.604 0.639 0.675 0.702 0.729 0.757 0.784 0.810 0.835 0.861 0.886 0.830 0.774 0.715 0.641 0.568 0.494 0.445 0.396 0.347 0.298 0.245 0.192 0.139 0.086 0.259 0.431 0.655 0.878"/><feFuncB type="table" tableValues="0.376 0.403 0.429 0.438 0.436 0.434 0.431 0.406 0.380 0.355 0.329 0.306 0.282 0.259 0.235 0.214 0.192 0.171 0.149 0.129 0.110 0.090 0.071 0.071 0.071 0.071 0.071 0.071 0.071 0.073 0.075 0.076 0.078 0.075 0.071 0.067 0.063 0.267 0.471 0.698 0.925"/><feFuncA type="linear" slope="0" intercept="1"/></feComponentTransfer></filter><clipPath id="clipC"><rect x="1147.4" y="35" width="812" height="608"/></clipPath></defs>
<g clip-path="url(#clipC)"><g filter="url(#thC)"><rect x="1141" y="29" width="825" height="620" fill="#8e8e8e"/>
<g filter="url(#soft16)"><path d="M1140.0 30.0C1161.9 3.3 1252.6 13.8 1271.2 30.0C1289.8 46.2 1265.5 101.3 1251.8 127.2C1238.0 153.1 1207.2 175.0 1188.6 185.5C1170.0 196.0 1148.1 216.3 1140.0 190.3C1131.9 164.4 1118.1 56.7 1140.0 30.0Z" fill="#999999"/></g>
<g filter="url(#soft16)"><path d="M1271.2 59.2C1300.3 36.5 1380.5 42.1 1431.5 39.7C1482.6 37.3 1553.0 7.3 1577.3 44.6C1601.6 81.8 1600.0 225.2 1577.3 263.2C1554.6 301.3 1479.3 266.5 1441.3 273.0C1403.2 279.4 1374.9 304.5 1348.9 302.1C1323.0 299.7 1301.2 279.4 1285.8 258.4C1270.4 237.3 1259.0 209.0 1256.6 175.8C1254.2 142.6 1242.0 81.8 1271.2 59.2Z" fill="#6e6e6e"/></g>
<g filter="url(#soft16)"><path d="M1140.0 238.9C1156.2 213.0 1203.2 216.3 1237.2 224.4C1271.2 232.5 1326.3 258.4 1344.1 287.5C1361.9 316.7 1360.3 376.6 1344.1 399.3C1327.9 422.0 1280.9 426.8 1246.9 423.6C1212.9 420.3 1157.8 410.6 1140.0 379.9C1122.2 349.1 1123.8 264.9 1140.0 238.9Z" fill="#787878"/></g>
<g filter="url(#soft10)"><path d="M1242.0 302.1C1251.8 285.1 1327.9 287.5 1344.1 302.1C1360.3 316.7 1348.9 372.6 1339.2 389.6C1329.5 406.6 1302.0 418.7 1285.8 404.1C1269.6 389.6 1232.3 319.1 1242.0 302.1Z" fill="#5c5c5c"/></g>
<g filter="url(#soft16)"><path d="M1606.5 44.6C1667.0 8.1 1909.4 8.9 1969.9 44.6C2030.5 80.2 2007.0 222.7 1969.9 258.4C1932.8 294.0 1808.0 257.6 1747.4 258.4C1686.8 259.2 1630.0 298.9 1606.5 263.2C1583.0 227.6 1545.9 81.0 1606.5 44.6Z" fill="#868686"/></g>
<g filter="url(#soft16)"><path d="M1771.7 520.8C1808.8 494.9 1936.9 474.6 1969.9 496.5C2003.0 518.3 2007.0 626.0 1969.9 652.0C1932.8 677.9 1780.4 673.8 1747.4 652.0C1714.3 630.1 1734.6 546.7 1771.7 520.8Z" fill="#737373"/></g>
<g filter="url(#soft16)"><path d="M1625.9 365.3C1650.2 339.4 1733.6 345.0 1771.7 350.7C1809.7 356.4 1842.1 371.8 1854.3 399.3C1866.4 426.8 1866.4 494.9 1844.6 515.9C1822.7 537.0 1759.5 527.2 1723.1 525.6C1686.6 524.0 1642.1 532.9 1625.9 506.2C1609.7 479.5 1601.6 391.2 1625.9 365.3Z" fill="#666666"/></g>
<g filter="url(#soft16)"><path d="M1344.1 282.7C1382.1 250.3 1538.4 211.4 1577.3 273.0C1616.2 334.5 1604.9 588.8 1577.3 652.0C1549.8 715.1 1450.2 682.7 1412.1 652.0C1374.0 621.2 1360.3 528.9 1348.9 467.3C1337.6 405.8 1306.0 315.1 1344.1 282.7Z" fill="#949494"/></g>
<g filter="url(#soft12)"><path d="M1606.5 273.0C1638.9 260.0 1776.5 271.3 1820.3 282.7C1864.0 294.0 1901.3 328.0 1868.9 341.0C1836.5 353.9 1669.6 371.8 1625.9 360.4C1582.2 349.1 1574.1 285.9 1606.5 273.0Z" fill="#939393"/></g>
<path d="M1292.5 81.1 C1285.3 59.3 1269.2 55.9 1254.3 68.9 C1258.9 88.1 1274.0 94.7 1292.5 81.1Z" fill="#515151"/>
<path d="M1292.9 80.6 C1301.5 60.2 1292.1 45.8 1273.4 43.7 C1264.6 60.4 1271.2 76.2 1292.9 80.6Z" fill="#595959"/>
<path d="M1293.9 80.6 C1314.4 75.3 1324.9 58.6 1321.9 41.4 C1304.7 44.2 1292.2 59.4 1293.9 80.6Z" fill="#5d5d5d"/>
<path d="M1294.1 81.7 C1302.5 100.3 1319.5 105.8 1334.7 98.1 C1329.2 81.9 1313.1 74.1 1294.1 81.7Z" fill="#575757"/>
<path d="M1293.5 82.2 C1280.7 100.3 1286.6 116.5 1304.4 122.8 C1316.7 108.4 1313.7 91.4 1293.5 82.2Z" fill="#575757"/>
<path d="M1292.7 81.9 C1274.1 81.2 1263.5 93.0 1264.6 108.5 C1280.1 110.5 1292.4 100.5 1292.7 81.9Z" fill="#545454"/>
<path d="M1327.0 87.5 C1348.2 89.6 1359.4 76.9 1356.8 58.9 C1339.0 55.6 1325.8 66.1 1327.0 87.5Z" fill="#686868"/>
<path d="M1327.3 88.3 C1339.0 105.8 1358.3 110.5 1373.7 102.8 C1365.5 87.6 1346.9 80.6 1327.3 88.3Z" fill="#5e5e5e"/>
<path d="M1326.3 88.9 C1311.6 102.8 1312.0 120.5 1324.3 132.1 C1337.7 121.7 1339.8 104.1 1326.3 88.9Z" fill="#676767"/>
<path d="M1325.3 88.1 C1306.1 72.0 1284.1 74.9 1271.2 91.3 C1285.9 106.0 1308.0 106.3 1325.3 88.1Z" fill="#6c6c6c"/>
<path d="M1326.0 87.2 C1332.5 69.0 1324.8 53.3 1309.7 47.7 C1303.0 62.3 1308.6 78.9 1326.0 87.2Z" fill="#676767"/>
<path d="M1436.5 188.7 C1415.1 186.5 1399.2 198.8 1395.9 216.2 C1413.3 219.6 1430.6 209.4 1436.5 188.7Z" fill="#4c4c4c"/>
<path d="M1436.7 187.3 C1436.3 165.3 1422.4 148.8 1405.0 145.1 C1403.7 162.9 1415.7 180.8 1436.7 187.3Z" fill="#4b4b4b"/>
<path d="M1438.0 187.5 C1457.2 184.4 1468.3 169.9 1467.1 153.9 C1451.0 155.0 1438.3 167.9 1438.0 187.5Z" fill="#535353"/>
<path d="M1438.2 188.8 C1441.9 212.2 1459.5 224.7 1478.9 222.2 C1477.6 202.6 1461.9 187.9 1438.2 188.8Z" fill="#565656"/>
<path d="M1344.5 89.7 C1361.0 73.3 1363.1 50.8 1352.7 34.9 C1338.0 47.0 1333.4 69.2 1344.5 89.7Z" fill="#6d6d6d"/>
<path d="M1345.3 90.9 C1361.5 103.3 1381.8 103.3 1395.0 93.3 C1382.8 82.1 1362.6 80.1 1345.3 90.9Z" fill="#6e6e6e"/>
<path d="M1343.9 92.2 C1322.6 109.5 1315.0 136.5 1322.1 157.3 C1340.3 144.9 1350.5 118.8 1343.9 92.2Z" fill="#676767"/>
<path d="M1343.0 90.4 C1325.6 70.5 1298.8 61.8 1278.3 66.5 C1290.8 83.4 1316.8 94.2 1343.0 90.4Z" fill="#636363"/>
<path d="M1390.6 112.8 C1390.6 88.5 1375.1 71.6 1355.4 69.1 C1353.6 88.9 1366.9 107.6 1390.6 112.8Z" fill="#595959"/>
<path d="M1392.1 113.0 C1414.7 112.3 1430.2 97.5 1432.1 79.1 C1413.7 78.0 1396.5 90.9 1392.1 113.0Z" fill="#535353"/>
<path d="M1392.1 114.4 C1396.4 136.5 1413.4 149.8 1431.8 149.2 C1429.9 130.9 1414.6 115.8 1392.1 114.4Z" fill="#4e4e4e"/>
<path d="M1390.7 114.5 C1370.5 121.7 1360.0 139.7 1362.4 157.0 C1379.4 152.7 1391.9 136.0 1390.7 114.5Z" fill="#575757"/>
<path d="M1645.7 99.1 C1652.2 122.2 1671.5 134.7 1691.0 132.4 C1687.4 113.1 1669.7 98.5 1645.7 99.1Z" fill="#7c7c7c"/>
<path d="M1643.8 98.7 C1625.4 91.2 1607.0 97.1 1598.1 110.7 C1612.5 118.2 1631.5 114.3 1643.8 98.7Z" fill="#797979"/>
<path d="M1644.7 97.6 C1659.8 83.2 1657.6 66.8 1642.7 57.2 C1628.9 68.2 1628.3 84.8 1644.7 97.6Z" fill="#7a7a7a"/>
<path d="M1886.8 231.4 C1875.1 217.3 1857.3 213.7 1844.0 220.2 C1852.5 232.4 1869.7 237.9 1886.8 231.4Z" fill="#7a7a7a"/>
<path d="M1888.2 231.0 C1905.3 227.6 1915.4 214.3 1914.7 200.1 C1900.5 201.6 1888.9 213.6 1888.2 231.0Z" fill="#777777"/>
<path d="M1888.0 232.5 C1882.3 251.3 1890.0 268.4 1904.5 275.4 C1910.6 260.5 1904.9 242.6 1888.0 232.5Z" fill="#707070"/>
<path d="M1804.4 75.9 C1793.6 93.7 1796.3 114.1 1808.4 126.0 C1818.4 112.4 1817.9 91.8 1804.4 75.9Z" fill="#6a6a6a"/>
<path d="M1803.3 74.9 C1786.8 63.4 1767.5 65.4 1755.9 77.1 C1768.5 87.7 1787.9 87.9 1803.3 74.9Z" fill="#747474"/>
<path d="M1804.2 74.1 C1814.6 59.7 1810.4 45.8 1796.8 39.4 C1786.9 50.8 1788.8 65.2 1804.2 74.1Z" fill="#6a6a6a"/>
<path d="M1805.1 74.7 C1820.1 84.1 1836.4 81.1 1845.5 69.8 C1834.0 61.1 1817.4 62.0 1805.1 74.7Z" fill="#6a6a6a"/>
<path d="M1622.9 230.5 C1646.0 229.2 1659.0 213.3 1657.3 194.1 C1638.0 193.5 1622.9 207.4 1622.9 230.5Z" fill="#777777"/>
<path d="M1623.0 232.0 C1628.8 254.2 1647.0 266.6 1665.7 264.8 C1662.6 246.2 1646.0 231.8 1623.0 232.0Z" fill="#808080"/>
<path d="M1621.5 232.1 C1596.7 233.7 1584.2 250.7 1587.8 271.2 C1608.6 271.7 1623.5 256.8 1621.5 232.1Z" fill="#7d7d7d"/>
<path d="M1621.4 230.8 C1615.4 211.8 1599.2 203.1 1583.2 207.1 C1586.7 223.2 1601.7 233.9 1621.4 230.8Z" fill="#747474"/>
<g filter="url(#soft10)"><path d="M1612.0 55.0C1632.8 42.5 1717.8 39.2 1740.0 50.0C1762.2 60.8 1753.3 105.8 1745.0 120.0C1736.7 134.2 1711.7 134.2 1690.0 135.0C1668.3 135.8 1628.0 138.3 1615.0 125.0C1602.0 111.7 1591.2 67.5 1612.0 55.0Z" fill="#787878"/></g>
<path d="M1355.2 152.1 C1343.8 125.9 1318.8 110.1 1296.0 110.6 C1303.3 132.3 1326.7 150.3 1355.2 152.1Z" fill="#595959"/>
<path d="M1356.5 151.6 C1373.2 131.1 1374.2 104.5 1362.2 86.8 C1347.2 102.2 1343.6 128.5 1356.5 151.6Z" fill="#5c5c5c"/>
<path d="M1355.1 153.2 C1331.8 147.7 1305.8 153.1 1291.0 164.5 C1308.8 170.1 1335.1 166.3 1355.1 153.2Z" fill="#5c5c5c"/>
<path d="M1357.5 152.3 C1381.8 152.3 1403.4 138.5 1411.7 121.0 C1392.4 119.4 1369.7 131.2 1357.5 152.3Z" fill="#5c5c5c"/>
<path d="M1357.8 153.3 C1378.5 170.1 1407.3 176.8 1427.6 172.0 C1412.4 157.8 1384.1 149.2 1357.8 153.3Z" fill="#616161"/>
<path d="M1356.0 153.9 C1340.3 165.4 1334.5 184.2 1339.6 199.2 C1353.0 191.0 1360.7 172.8 1356.0 153.9Z" fill="#666666"/>
<path d="M1419.2 156.8 C1450.1 151.6 1475.6 129.9 1483.7 106.4 C1458.9 108.6 1431.7 128.1 1419.2 156.8Z" fill="#2b2b2b"/>
<path d="M1419.3 157.7 C1444.9 165.0 1474.0 159.9 1490.9 147.6 C1471.3 140.4 1441.9 143.6 1419.3 157.7Z" fill="#2e2e2e"/>
<path d="M1417.4 156.7 C1424.5 132.6 1414.8 109.9 1396.8 100.1 C1389.4 119.2 1396.5 142.7 1417.4 156.7Z" fill="#616161"/>
<path d="M1416.7 157.4 C1401.3 140.3 1377.9 132.8 1360.1 136.8 C1371.2 151.3 1393.9 160.7 1416.7 157.4Z" fill="#5c5c5c"/>
<path d="M1418.7 158.6 C1425.4 178.3 1442.6 191.5 1459.3 192.6 C1455.2 176.4 1439.3 161.7 1418.7 158.6Z" fill="#616161"/>
<path d="M1367.0 208.6 C1391.7 203.5 1407.1 184.3 1407.3 163.8 C1387.0 166.2 1369.6 183.6 1367.0 208.6Z" fill="#333333"/>
<path d="M1367.4 210.3 C1376.6 238.2 1400.9 253.3 1424.6 250.4 C1419.2 227.1 1396.7 209.4 1367.4 210.3Z" fill="#3d3d3d"/>
<path d="M1365.7 210.4 C1345.5 218.4 1336.2 236.9 1340.4 254.2 C1357.5 249.2 1368.9 231.9 1365.7 210.4Z" fill="#4c4c4c"/>
<path d="M1365.5 209.2 C1358.2 193.6 1344.0 189.6 1331.6 196.9 C1336.4 210.4 1349.9 216.5 1365.5 209.2Z" fill="#5c5c5c"/>
<path d="M1367.7 209.4 C1393.1 220.7 1422.4 216.9 1439.7 203.1 C1420.3 192.4 1390.8 193.8 1367.7 209.4Z" fill="#666666"/>
<path d="M1460.8 74.0 C1440.9 60.9 1414.6 57.1 1396.7 62.7 C1411.6 74.1 1437.6 79.5 1460.8 74.0Z" fill="#5c5c5c"/>
<path d="M1461.0 74.6 C1439.7 70.5 1417.1 77.4 1405.1 89.5 C1421.6 94.0 1444.6 88.7 1461.0 74.6Z" fill="#5e5e5e"/>
<path d="M1462.9 73.7 C1481.6 72.1 1497.3 60.2 1502.4 46.1 C1487.4 46.1 1470.8 56.6 1462.9 73.7Z" fill="#5c5c5c"/>
<path d="M1462.2 73.4 C1475.3 61.7 1477.2 45.1 1469.4 33.1 C1457.9 41.7 1454.0 58.0 1462.2 73.4Z" fill="#616161"/>
<path d="M1463.0 74.6 C1475.5 87.8 1494.2 93.8 1508.3 91.1 C1499.3 79.9 1481.1 72.5 1463.0 74.6Z" fill="#666666"/>
<path d="M1494.4 125.1 C1509.0 116.1 1514.4 100.3 1509.7 87.1 C1497.3 93.4 1490.1 108.5 1494.4 125.1Z" fill="#2e2e2e"/>
<path d="M1514.5 190.9 C1542.2 176.2 1555.6 147.7 1550.7 122.8 C1527.3 132.7 1511.1 159.7 1514.5 190.9Z" fill="#4c4c4c"/>
<path d="M1514.7 191.9 C1534.9 197.5 1553.9 189.4 1562.3 174.6 C1546.3 168.6 1526.6 174.7 1514.7 191.9Z" fill="#424242"/>
<path d="M1513.4 191.4 C1516.1 172.8 1507.9 154.9 1495.3 146.7 C1491.9 161.3 1498.5 179.9 1513.4 191.4Z" fill="#525252"/>
<path d="M1514.7 192.6 C1526.2 208.3 1545.0 214.1 1560.0 209.1 C1551.8 195.7 1533.6 188.0 1514.7 192.6Z" fill="#5c5c5c"/>
<path d="M1534.0 123.3 C1546.7 129.7 1558.8 125.5 1564.3 115.2 C1554.3 108.9 1541.8 111.4 1534.0 123.3Z" fill="#4c4c4c"/>
<path d="M1503.7 167.1 C1505.5 156.1 1501.0 145.2 1493.8 140.0 C1491.7 148.6 1495.3 159.8 1503.7 167.1Z" fill="#404040"/>
<path d="M1327.9 290.7 C1304.0 280.7 1275.5 282.7 1258.1 293.1 C1276.2 302.3 1304.8 302.3 1327.9 290.7Z" fill="#4c4c4c"/>
<path d="M1328.2 290.1 C1313.6 271.4 1290.0 261.5 1271.4 263.6 C1281.7 279.3 1304.5 291.0 1328.2 290.1Z" fill="#575757"/>
<path d="M1329.1 291.9 C1310.8 310.1 1307.7 335.5 1318.2 353.6 C1334.3 340.2 1340.1 315.3 1329.1 291.9Z" fill="#2e2e2e"/>
<path d="M1329.9 291.8 C1327.9 316.7 1341.0 338.7 1359.3 347.1 C1362.7 327.2 1351.8 304.0 1329.9 291.8Z" fill="#424242"/>
<path d="M1330.3 290.3 C1349.4 294.1 1368.8 286.9 1378.4 274.7 C1363.5 270.5 1343.6 276.0 1330.3 290.3Z" fill="#474747"/>
<path d="M1328.2 291.6 C1300.9 296.9 1279.0 316.8 1272.8 338.0 C1294.9 335.6 1318.2 317.6 1328.2 291.6Z" fill="#525252"/>
<path d="M1329.8 289.8 C1347.3 281.1 1356.3 263.6 1353.9 248.0 C1339.3 253.8 1328.6 270.3 1329.8 289.8Z" fill="#5c5c5c"/>
<path d="M1302.3 320.1C1306.8 314.4 1319.5 309.9 1326.9 312.8C1334.2 315.6 1344.9 331.6 1346.5 337.4C1348.2 343.1 1344.5 345.5 1336.7 347.2C1328.9 348.8 1305.6 351.7 1299.8 347.2C1294.1 342.7 1297.8 325.9 1302.3 320.1Z" fill="#1a1a1a"/>
<path d="M1258.5 329.7 C1270.3 330.7 1280.3 324.2 1283.6 315.2 C1274.1 313.6 1263.6 319.0 1258.5 329.7Z" fill="#262626"/>
<path d="M1154.8 275.9C1158.4 273.0 1172.0 274.2 1174.4 278.3C1176.9 282.4 1173.2 297.6 1169.5 300.5C1165.8 303.3 1154.8 299.7 1152.3 295.6C1149.8 291.5 1151.1 278.8 1154.8 275.9Z" fill="#6b6b6b"/>
<path d="M1517.1 302.7 C1494.3 284.5 1463.9 281.6 1443.2 292.3 C1460.2 308.4 1490.2 313.9 1517.1 302.7Z" fill="#adadad"/>
<path d="M1517.5 303.9 C1489.3 308.7 1466.0 328.4 1458.6 349.9 C1481.2 347.8 1506.0 330.0 1517.5 303.9Z" fill="#b2b2b2"/>
<path d="M1519.5 302.4 C1539.7 302.5 1556.7 290.7 1562.4 275.6 C1546.3 274.1 1528.3 284.2 1519.5 302.4Z" fill="#adadad"/>
<path d="M1518.7 303.9 C1505.1 320.1 1506.4 339.8 1518.7 352.1 C1531.0 339.8 1532.2 320.1 1518.7 303.9Z" fill="#b2b2b2"/>
<path d="M1546.1 287.9 C1557.5 288.9 1564.6 282.0 1564.5 272.4 C1555.1 270.7 1547.1 276.4 1546.1 287.9Z" fill="#b2b2b2"/>
<polyline points="1356.4,152.9 1358.8,207.0 1376.0,263.6 1390.8,300.5" fill="none" stroke="#8f8f8f" stroke-width="1.8" stroke-linecap="round" stroke-linejoin="round"/>
<polyline points="1501.4,170.2 1513.7,226.7 1518.7,275.9" fill="none" stroke="#8f8f8f" stroke-width="1.8" stroke-linecap="round" stroke-linejoin="round"/>
<path d="M1550.0 108.7C1554.1 96.0 1571.1 102.5 1574.6 114.8C1578.1 127.1 1575.0 169.7 1570.9 182.4C1566.8 195.2 1553.5 203.3 1550.0 191.1C1546.5 178.8 1545.9 121.4 1550.0 108.7Z" fill="#383838"/>
<path d="M1550.0 202.1C1553.3 195.6 1566.0 198.8 1569.7 207.0C1573.4 215.2 1575.4 244.7 1572.1 251.3C1568.9 257.9 1553.7 254.6 1550.0 246.4C1546.3 238.2 1546.7 208.7 1550.0 202.1Z" fill="#6b6b6b"/>
<path d="M1550.0 283.3C1553.7 280.8 1570.5 282.8 1572.1 285.7C1573.8 288.6 1563.5 298.0 1559.8 300.5C1556.1 302.9 1551.6 303.3 1550.0 300.5C1548.4 297.6 1546.3 285.7 1550.0 283.3Z" fill="#333333"/>
<path d="M1869.6 123.4C1877.8 117.7 1929.5 125.9 1943.4 133.3C1957.3 140.6 1961.4 162.0 1953.2 167.7C1945.0 173.4 1908.2 175.1 1894.2 167.7C1880.3 160.3 1861.4 129.2 1869.6 123.4Z" fill="#757575"/>
<path d="M1857.4 182.4C1867.6 177.5 1928.2 184.9 1943.4 192.3C1958.6 199.7 1958.6 221.8 1948.3 226.7C1938.1 231.6 1897.1 229.2 1881.9 221.8C1866.8 214.4 1847.1 187.4 1857.4 182.4Z" fill="#737373"/>
<path d="M1781.7 125.7 C1752.9 107.1 1715.7 103.9 1690.8 114.5 C1712.4 130.8 1749.3 136.7 1781.7 125.7Z" fill="#e6e6e6"/>
<path d="M1782.8 125.1 C1781.4 101.2 1765.3 85.3 1745.7 83.9 C1745.2 103.4 1759.3 121.1 1782.8 125.1Z" fill="#e0e0e0"/>
<path d="M1782.6 126.9 C1752.6 130.7 1734.1 152.4 1734.1 177.2 C1758.8 176.3 1779.9 157.0 1782.6 126.9Z" fill="#e6e6e6"/>
<path d="M1783.5 127.0 C1762.7 143.6 1762.0 166.3 1777.7 182.1 C1796.3 169.9 1800.3 147.6 1783.5 127.0Z" fill="#e0e0e0"/>
<path d="M1784.3 126.9 C1783.0 153.7 1799.4 172.1 1821.4 174.3 C1824.6 152.4 1810.7 132.0 1784.3 126.9Z" fill="#e0e0e0"/>
<path d="M1710.1 188.8 C1682.0 154.1 1637.2 136.2 1602.2 140.8 C1622.2 169.9 1665.5 191.2 1710.1 188.8Z" fill="#b5b5b5"/>
<path d="M1710.9 188.5 C1701.6 151.3 1672.0 125.3 1641.5 121.5 C1646.4 151.8 1673.4 180.5 1710.9 188.5Z" fill="#b2b2b2"/>
<path d="M1712.5 188.5 C1728.9 168.7 1731.4 142.2 1721.5 124.1 C1707.0 138.8 1702.1 164.9 1712.5 188.5Z" fill="#b2b2b2"/>
<path d="M1711.1 190.5 C1683.3 187.8 1660.2 202.9 1652.7 224.2 C1674.9 228.4 1699.5 215.9 1711.1 190.5Z" fill="#b2b2b2"/>
<path d="M1796.4 218.5 C1815.3 211.2 1824.8 193.9 1821.9 177.6 C1806.0 182.2 1794.7 198.3 1796.4 218.5Z" fill="#b2b2b2"/>
<path d="M1797.6 219.4 C1825.0 234.9 1859.4 236.1 1881.7 225.3 C1861.1 211.6 1826.9 207.9 1797.6 219.4Z" fill="#b2b2b2"/>
<path d="M1795.3 219.5 C1781.9 210.5 1769.9 214.8 1765.0 227.6 C1775.6 236.2 1788.2 234.0 1795.3 219.5Z" fill="#adadad"/>
<path d="M1822.1 232.9 C1839.1 265.1 1871.7 288.8 1899.9 293.7 C1888.4 267.5 1857.4 241.6 1822.1 232.9Z" fill="#a8a8a8"/>
<path d="M1821.0 233.1 C1813.4 263.5 1825.6 292.5 1847.4 305.6 C1855.7 281.6 1846.4 251.5 1821.0 233.1Z" fill="#ababab"/>
<path d="M1819.9 232.6 C1792.8 237.7 1782.4 257.8 1790.5 279.6 C1813.6 277.4 1827.2 259.2 1819.9 232.6Z" fill="#adadad"/>
<path d="M1727.1 245.7 C1735.6 236.5 1737.3 223.8 1732.6 214.9 C1725.1 221.7 1722.3 234.2 1727.1 245.7Z" fill="#b2b2b2"/>
<path d="M1736.7 245.8 C1738.1 234.0 1733.3 222.2 1725.9 216.3 C1724.0 225.5 1728.0 237.7 1736.7 245.8Z" fill="#adadad"/>
<g filter="url(#soft6)"><path d="M1604.1 226.7C1611.5 219.7 1650.0 217.7 1658.2 224.2C1666.4 230.8 1660.6 259.1 1653.3 266.0C1645.9 273.0 1622.1 272.6 1613.9 266.0C1605.7 259.5 1596.7 233.7 1604.1 226.7Z" fill="#999999"/></g>
<path d="M1624.2 250.6 C1637.7 243.4 1644.9 229.4 1643.4 217.2 C1632.1 222.1 1623.6 235.3 1624.2 250.6Z" fill="#a8a8a8"/>
<path d="M1623.2 251.1 C1616.4 241.4 1605.1 237.9 1596.0 241.2 C1600.9 249.5 1611.7 254.1 1623.2 251.1Z" fill="#a8a8a8"/>
<path d="M1624.1 251.9 C1623.9 265.1 1631.3 276.7 1641.0 281.1 C1642.0 270.6 1635.6 258.3 1624.1 251.9Z" fill="#a3a3a3"/>
<path d="M1643.1 250.8 C1645.3 238.3 1638.8 228.4 1628.7 225.7 C1626.0 235.8 1631.2 246.4 1643.1 250.8Z" fill="#a8a8a8"/>
<path d="M1784.7 319.2 C1772.7 288.7 1744.7 270.4 1718.4 271.0 C1725.9 296.2 1752.0 317.2 1784.7 319.2Z" fill="#575757"/>
<path d="M1784.6 320.1 C1760.6 308.4 1731.1 308.4 1712.3 317.6 C1730.4 328.0 1759.9 330.1 1784.6 320.1Z" fill="#666666"/>
<path d="M1787.2 319.2 C1815.2 313.4 1837.7 292.8 1844.4 271.1 C1821.9 274.0 1797.8 292.6 1787.2 319.2Z" fill="#5c5c5c"/>
<path d="M1787.5 320.3 C1809.9 335.8 1839.3 338.8 1859.1 330.4 C1842.4 316.9 1813.3 311.7 1787.5 320.3Z" fill="#383838"/>
<path d="M1787.0 321.2 C1793.1 346.2 1812.4 365.9 1832.1 371.3 C1828.8 351.1 1811.2 329.9 1787.0 321.2Z" fill="#4c4c4c"/>
<path d="M1786.0 319.2 C1796.9 302.9 1795.9 283.3 1786.0 271.0 C1776.2 283.3 1775.2 302.9 1786.0 319.2Z" fill="#666666"/>
<path d="M1785.1 321.0 C1762.0 326.2 1743.0 343.4 1737.1 361.2 C1755.6 358.5 1775.9 342.8 1785.1 321.0Z" fill="#6b6b6b"/>
<polygon points="1631.1,290.6 1643.9,288.2 1653.3,310.3 1641.0,313.3" fill="#1a1a1a"/>
<polygon points="1660.6,288.2 1683.3,285.7 1692.6,308.3 1658.2,308.3" fill="#1a1a1a"/>
<path d="M1864.7 275.9C1870.5 269.7 1903.2 269.3 1918.8 271.0C1934.4 272.6 1951.6 281.4 1958.2 285.7C1964.7 290.0 1964.7 293.0 1958.2 296.8C1951.6 300.6 1931.1 306.4 1918.8 308.3C1906.5 310.3 1893.4 313.7 1884.4 308.3C1875.4 302.9 1859.0 282.1 1864.7 275.9Z" fill="#4c4c4c"/>
<path d="M1889.3 300.5C1892.6 297.4 1945.9 287.2 1953.2 288.2C1960.6 289.2 1944.2 304.6 1933.6 306.6C1922.9 308.7 1886.0 303.5 1889.3 300.5Z" fill="#242424"/>
<path d="M1611.5 312.8C1625.8 308.3 1679.1 314.4 1697.5 320.1C1716.0 325.9 1736.5 342.7 1722.1 347.2C1707.8 351.7 1629.9 352.9 1611.5 347.2C1593.0 341.4 1597.1 317.3 1611.5 312.8Z" fill="#9e9e9e"/>
<g filter="url(#soft6)"><path d="M1226.1 335.0C1243.3 326.0 1317.4 325.2 1336.7 335.0C1356.0 344.8 1351.5 381.7 1341.6 394.0C1331.8 406.3 1295.7 409.6 1277.7 408.8C1259.7 407.9 1242.0 401.4 1233.4 389.1C1224.8 376.8 1208.8 344.0 1226.1 335.0Z" fill="#6b6b6b"/></g>
<path d="M1302.3 381.7C1302.3 378.5 1332.3 371.4 1336.7 367.0C1341.1 362.5 1337.9 339.2 1346.5 337.5C1355.1 335.7 1415.4 343.6 1422.8 349.8C1430.1 355.9 1422.8 394.7 1420.3 399.4C1417.8 404.1 1403.1 396.5 1398.2 396.5C1393.3 396.5 1377.3 399.1 1371.1 399.4C1365.0 399.7 1343.6 401.2 1336.7 399.4C1329.8 397.7 1302.3 385.0 1302.3 381.7Z" fill="#424242"/>
<path d="M1298.9 378.7 C1329.6 384.8 1359.6 372.3 1373.6 351.5 C1349.5 344.6 1318.5 354.3 1298.9 378.7Z" fill="#545454"/>
<path d="M1296.2 378.8 C1281.4 357.6 1256.9 350.2 1237.3 357.4 C1247.7 375.6 1271.3 385.6 1296.2 378.8Z" fill="#666666"/>
<path d="M1296.3 379.9 C1271.2 378.7 1249.7 392.6 1242.0 411.2 C1262.0 413.9 1284.7 402.2 1296.3 379.9Z" fill="#6b6b6b"/>
<path d="M1297.0 378.3 C1302.9 358.9 1295.1 340.8 1280.5 333.0 C1274.4 348.4 1280.0 367.2 1297.0 378.3Z" fill="#666666"/>
<path d="M1287.5 359.6C1290.0 354.8 1307.1 348.5 1312.1 348.5C1317.1 348.5 1320.0 354.8 1317.5 359.6C1315.1 364.4 1302.4 377.3 1297.4 377.3C1292.4 377.3 1285.1 364.4 1287.5 359.6Z" fill="#0a0a0a"/>
<path d="M1386.8 416.4 C1360.6 410.5 1330.5 415.6 1312.9 426.7 C1332.9 432.6 1363.2 429.2 1386.8 416.4Z" fill="#a8a8a8"/>
<path d="M1387.0 417.2 C1357.4 424.0 1331.7 445.5 1322.5 467.6 C1346.1 463.9 1373.2 444.3 1387.0 417.2Z" fill="#b2b2b2"/>
<path d="M1387.7 417.8 C1363.1 439.9 1352.3 473.7 1358.1 499.3 C1378.9 483.4 1392.4 450.6 1387.7 417.8Z" fill="#999999"/>
<path d="M1388.7 417.8 C1380.3 448.3 1389.8 480.4 1408.6 497.3 C1417.2 473.6 1410.5 440.8 1388.7 417.8Z" fill="#9e9e9e"/>
<path d="M1376.0 396.5C1378.1 392.8 1391.6 395.2 1395.7 398.9C1399.8 402.6 1402.7 414.9 1400.6 418.6C1398.6 422.3 1387.5 424.7 1383.4 421.1C1379.3 417.4 1374.0 400.2 1376.0 396.5Z" fill="#c2c2c2"/>
<polygon points="1302.3,433.4 1336.7,423.5 1312.1,453.5" fill="#404040"/>
<polygon points="1336.7,453.0 1361.3,440.7 1356.4,473.2 1334.2,483.0" fill="#333333"/>
<path d="M1371.1 472.7C1374.0 464.0 1388.3 441.5 1393.3 443.2C1398.3 444.8 1404.0 473.8 1401.1 482.5C1398.3 491.2 1381.0 497.0 1376.0 495.3C1371.0 493.7 1368.3 481.4 1371.1 472.7Z" fill="#141414"/>
<path d="M1466.3 412.5 C1467.6 383.9 1451.2 360.5 1429.2 353.2 C1426.2 376.1 1440.0 401.1 1466.3 412.5Z" fill="#b2b2b2"/>
<path d="M1467.3 412.4 C1487.5 395.2 1491.4 369.9 1480.3 351.1 C1462.6 363.7 1455.8 388.4 1467.3 412.4Z" fill="#b2b2b2"/>
<path d="M1467.8 413.0 C1488.7 411.4 1503.8 397.3 1506.6 380.5 C1489.6 380.3 1473.0 392.7 1467.8 413.0Z" fill="#adadad"/>
<path d="M1466.1 413.3 C1454.5 397.6 1435.7 391.8 1420.8 396.9 C1429.0 410.3 1447.1 418.0 1466.1 413.3Z" fill="#a8a8a8"/>
<path d="M1456.8 447.6 C1433.7 477.3 1428.3 517.3 1439.7 544.9 C1459.8 522.9 1468.4 483.4 1456.8 447.6Z" fill="#a8a8a8"/>
<path d="M1458.5 447.2 C1467.4 483.1 1494.5 513.0 1522.0 522.9 C1517.1 494.1 1492.3 462.2 1458.5 447.2Z" fill="#a3a3a3"/>
<path d="M1459.2 445.3 C1494.0 451.5 1533.6 443.4 1556.5 428.1 C1529.7 421.6 1489.8 427.5 1459.2 445.3Z" fill="#9e9e9e"/>
<path d="M1457.4 444.7 C1472.2 430.8 1474.5 411.2 1465.7 397.2 C1452.7 407.4 1448.2 426.6 1457.4 444.7Z" fill="#adadad"/>
<path d="M1508.8 453.0C1512.8 449.8 1538.1 449.6 1543.2 450.6C1548.4 451.5 1558.3 455.7 1560.0 462.9C1561.6 470.0 1563.6 516.9 1560.0 522.4C1556.3 527.8 1529.2 521.4 1523.6 517.4C1518.0 513.5 1505.4 489.0 1503.9 482.5C1502.4 476.1 1504.9 456.2 1508.8 453.0Z" fill="#242424"/>
<polygon points="1462.1,467.8 1484.2,472.7 1503.9,507.1 1494.1,524.3 1467.0,521.9 1459.6,494.8" fill="#424242"/>
<polygon points="1422.8,502.2 1444.9,507.1 1447.4,544.0 1430.1,536.6" fill="#4c4c4c"/>
<polygon points="1277.7,462.9 1312.1,459.2 1331.8,482.5 1312.1,507.1 1290.0,492.4" fill="#616161"/>
<polygon points="1459.6,507.1 1503.9,521.9 1508.8,532.2 1459.6,529.7" fill="#333333"/>
<path d="M1456.8 447.6 C1433.7 477.3 1428.3 517.3 1439.7 544.9 C1459.8 522.9 1468.4 483.4 1456.8 447.6Z" fill="#a8a8a8"/>
<path d="M1458.5 447.2 C1467.4 483.1 1494.5 513.0 1522.0 522.9 C1517.1 494.1 1492.3 462.2 1458.5 447.2Z" fill="#a8a8a8"/>
<path d="M1459.2 445.3 C1494.0 451.5 1533.6 443.4 1556.5 428.1 C1529.7 421.6 1489.8 427.5 1459.2 445.3Z" fill="#9e9e9e"/>
<path d="M1277.7 462.9C1284.3 461.2 1314.6 477.1 1326.9 482.5C1339.2 487.9 1353.9 489.5 1351.5 495.3C1349.0 501.1 1322.8 517.9 1312.1 517.4C1301.5 517.0 1293.3 501.5 1287.5 492.4C1281.8 483.3 1271.1 464.5 1277.7 462.9Z" fill="#6b6b6b"/>
<path d="M1297.4 507.1C1307.2 502.9 1346.5 503.8 1361.3 507.1C1376.0 510.5 1390.0 521.1 1385.9 527.3C1381.8 533.5 1350.6 543.7 1336.7 544.5C1322.8 545.3 1308.8 538.4 1302.3 532.2C1295.7 526.0 1287.5 511.3 1297.4 507.1Z" fill="#666666"/>
<polygon points="1385.9,494.8 1422.8,526.8 1410.5,532.2 1381.0,512.5" fill="#333333"/>
<polygon points="1444.9,556.3 1484.2,548.9 1523.6,556.3 1503.9,576.5 1459.6,571.5" fill="#262626"/>
<polygon points="1454.7,571.0 1484.2,580.9 1467.0,606.0 1449.8,606.0" fill="#262626"/>
<polygon points="1469.5,605.5 1523.6,576.0 1508.8,618.3 1489.2,630.5 1467.0,625.6" fill="#262626"/>
<polygon points="1415.4,605.5 1447.4,595.6 1452.8,630.1 1435.1,644.8 1415.4,644.8" fill="#404040"/>
<polygon points="1422.8,556.3 1444.9,561.2 1442.4,583.8 1430.1,576.5" fill="#404040"/>
<polygon points="1449.8,617.8 1508.8,625.1 1484.2,644.8 1449.8,644.8" fill="#333333"/>
<path d="M1523.6 568.6C1531.3 560.4 1553.9 543.6 1560.0 556.3C1566.0 569.0 1568.5 630.1 1560.0 644.8C1551.4 659.6 1516.5 651.4 1508.8 644.8C1501.1 638.3 1511.3 618.2 1513.7 605.5C1516.2 592.8 1515.9 576.8 1523.6 568.6Z" fill="#a1a1a1"/>
<path d="M1140.0 568.6C1145.3 557.1 1165.2 572.3 1172.0 576.0C1178.7 579.7 1181.8 585.0 1180.6 590.7C1179.3 596.5 1168.1 601.4 1164.6 610.4C1161.1 619.4 1163.8 639.1 1159.7 644.8C1155.6 650.5 1143.3 657.5 1140.0 644.8C1136.7 632.1 1134.7 580.1 1140.0 568.6Z" fill="#1a1a1a"/>
<path d="M1277.7 539.1C1290.0 534.2 1348.2 539.5 1361.3 546.5C1374.4 553.4 1368.7 576.0 1356.4 580.9C1344.1 585.8 1300.6 582.9 1287.5 576.0C1274.4 569.0 1265.4 544.0 1277.7 539.1Z" fill="#757575"/>
<path d="M1312.1 561.2C1324.4 551.0 1392.0 548.9 1410.5 556.3C1428.9 563.7 1435.1 595.2 1422.8 605.5C1410.5 615.7 1355.1 625.1 1336.7 617.8C1318.3 610.4 1299.8 571.5 1312.1 561.2Z" fill="#969696"/>
<polyline points="1233.4,438.3 1272.8,457.9 1353.9,497.3 1385.9,512.0 1422.8,531.7 1459.6,571.0" fill="none" stroke="#999999" stroke-width="1.8" stroke-linecap="round" stroke-linejoin="round"/>
<polyline points="1272.8,457.9 1297.4,379.3" fill="none" stroke="#8f8f8f" stroke-width="1.6" stroke-linecap="round" stroke-linejoin="round"/>
<polyline points="1353.9,497.3 1344.1,576.0" fill="none" stroke="#999999" stroke-width="1.6" stroke-linecap="round" stroke-linejoin="round"/>
<polyline points="1508.8,487.4 1560.0,502.2" fill="none" stroke="#8f8f8f" stroke-width="1.6" stroke-linecap="round" stroke-linejoin="round"/>
<polyline points="1533.4,453.0 1538.3,521.9" fill="none" stroke="#8f8f8f" stroke-width="1.6" stroke-linecap="round" stroke-linejoin="round"/>
<path d="M1550.0 421.1C1554.9 409.5 1573.7 408.4 1579.5 418.6C1585.3 428.8 1589.8 471.0 1584.9 482.5C1580.0 494.1 1555.8 498.2 1550.0 487.9C1544.2 477.7 1545.1 432.6 1550.0 421.1Z" fill="#1a1a1a"/>
<path d="M1550.0 482.5C1553.7 465.3 1582.0 467.8 1586.9 472.7C1591.8 477.6 1597.7 514.5 1599.2 531.7C1600.7 548.9 1607.0 633.5 1602.1 644.8C1597.2 656.1 1555.2 661.0 1550.0 644.8C1544.8 628.6 1546.3 499.7 1550.0 482.5Z" fill="#a3a3a3"/>
<path d="M1569.7 521.9C1572.9 517.0 1593.8 519.0 1599.2 526.8C1604.6 534.6 1605.4 563.7 1602.1 568.6C1598.8 573.5 1584.9 564.1 1579.5 556.3C1574.1 548.5 1566.4 526.8 1569.7 521.9Z" fill="#cccccc"/>
<polygon points="1550.0,576.0 1560.3,571.0 1564.8,605.5 1550.0,605.5" fill="#1a1a1a"/>
<polygon points="1550.0,625.1 1569.7,630.1 1564.8,644.8 1550.0,644.8" fill="#1a1a1a"/>
<path d="M1623.8 335.0C1642.8 328.4 1752.3 325.2 1771.3 335.0C1790.3 344.8 1779.5 398.3 1766.4 408.8C1753.3 419.3 1691.3 417.0 1672.9 413.7C1654.6 410.4 1635.2 394.7 1628.7 384.2C1622.1 373.7 1604.7 341.6 1623.8 335.0Z" fill="#9c9c9c"/>
<path d="M1840.1 339.9C1849.2 335.3 1890.9 336.6 1899.2 342.4C1907.4 348.1 1898.8 369.8 1889.8 374.3C1880.8 378.9 1853.3 375.7 1845.1 369.9C1836.8 364.2 1831.1 344.5 1840.1 339.9Z" fill="#a1a1a1"/>
<path d="M1845.1 384.2C1855.3 382.5 1900.0 393.6 1918.8 398.9C1937.7 404.3 1951.6 410.3 1958.2 416.1C1964.7 422.0 1968.8 431.7 1958.2 433.8C1947.5 436.0 1911.0 433.1 1894.2 428.9C1877.4 424.7 1865.5 416.2 1857.4 408.8C1849.2 401.3 1834.8 385.8 1845.1 384.2Z" fill="#999999"/>
<path d="M1623.8 482.5C1630.0 476.6 1656.5 464.2 1672.9 462.9C1689.3 461.5 1733.6 468.8 1746.7 472.7C1759.8 476.6 1771.9 485.7 1771.3 492.4C1770.6 499.0 1751.6 517.1 1741.8 522.4C1732.0 527.7 1709.3 532.2 1697.5 532.2C1685.7 532.2 1662.8 525.7 1653.3 522.4C1643.8 519.0 1630.2 512.4 1626.2 507.1C1622.3 501.8 1617.5 488.4 1623.8 482.5Z" fill="#262626"/>
<path d="M1718.1 436.1 C1689.1 426.1 1657.4 433.1 1639.8 449.9 C1662.1 459.7 1694.3 455.4 1718.1 436.1Z" fill="#383838"/>
<path d="M1718.4 435.4 C1702.4 415.2 1677.1 407.2 1657.3 413.1 C1668.7 430.3 1693.2 440.6 1718.4 435.4Z" fill="#333333"/>
<path d="M1719.4 437.3 C1696.4 458.8 1692.8 489.1 1706.4 510.9 C1726.7 495.1 1733.7 465.4 1719.4 437.3Z" fill="#333333"/>
<path d="M1720.4 437.1 C1717.8 467.7 1734.4 493.3 1757.8 501.8 C1762.1 477.3 1748.2 450.1 1720.4 437.1Z" fill="#333333"/>
<path d="M1718.5 437.2 C1686.3 448.2 1664.7 476.4 1662.8 503.6 C1689.2 496.9 1713.2 470.8 1718.5 437.2Z" fill="#2e2e2e"/>
<path d="M1720.6 435.6 C1739.0 446.1 1758.1 441.5 1768.1 427.3 C1753.8 417.3 1734.3 419.5 1720.6 435.6Z" fill="#3d3d3d"/>
<path d="M1626.2 413.7C1629.1 408.7 1644.2 407.1 1648.4 411.2C1652.5 415.3 1654.2 433.3 1651.3 438.3C1648.4 443.3 1635.3 445.3 1631.1 441.2C1627.0 437.1 1623.4 418.7 1626.2 413.7Z" fill="#262626"/>
<path d="M1785.0 380.2 C1757.4 383.9 1736.4 403.3 1731.4 425.1 C1753.8 424.0 1776.5 406.7 1785.0 380.2Z" fill="#4c4c4c"/>
<path d="M1785.8 380.6 C1768.7 399.8 1765.3 426.2 1774.5 444.6 C1789.5 430.4 1795.3 404.5 1785.8 380.6Z" fill="#595959"/>
<path d="M1786.9 380.8 C1785.1 415.6 1804.3 445.4 1830.3 455.9 C1834.1 428.1 1817.9 396.6 1786.9 380.8Z" fill="#545454"/>
<path d="M1787.2 379.7 C1802.4 399.6 1826.9 407.2 1846.1 401.1 C1835.3 384.1 1811.7 374.2 1787.2 379.7Z" fill="#525252"/>
<path d="M1785.1 378.9 C1773.6 363.2 1754.8 357.4 1739.8 362.4 C1748.0 375.9 1766.2 383.5 1785.1 378.9Z" fill="#575757"/>
<path d="M1903.6 466.5 C1907.6 441.8 1897.4 417.2 1881.4 405.4 C1876.6 424.8 1884.7 450.1 1903.6 466.5Z" fill="#616161"/>
<path d="M1905.2 467.1 C1928.9 466.0 1950.5 452.3 1959.4 435.8 C1940.7 435.3 1918.0 447.2 1905.2 467.1Z" fill="#666666"/>
<path d="M1905.3 468.2 C1922.2 485.9 1947.5 494.0 1966.5 490.5 C1954.2 475.6 1929.6 465.6 1905.3 468.2Z" fill="#616161"/>
<path d="M1903.2 468.3 C1884.4 468.2 1867.8 478.8 1861.5 492.4 C1876.4 493.7 1893.9 484.6 1903.2 468.3Z" fill="#707070"/>
<path d="M1907.5 367.8 C1916.7 389.6 1936.9 405.3 1955.5 408.1 C1949.6 390.3 1930.6 373.1 1907.5 367.8Z" fill="#616161"/>
<path d="M1906.0 367.0 C1897.1 358.9 1886.2 359.6 1879.5 367.0 C1886.2 374.3 1897.1 375.1 1906.0 367.0Z" fill="#5c5c5c"/>
<path d="M1907.7 367.2 C1925.2 379.9 1948.6 383.1 1964.6 377.2 C1951.6 366.2 1928.5 361.2 1907.7 367.2Z" fill="#666666"/>
<path d="M1906.9 368.0 C1903.1 389.3 1911.8 410.2 1925.9 420.1 C1930.3 403.5 1923.5 381.9 1906.9 368.0Z" fill="#616161"/>
<polygon points="1727.0,571.0 1771.3,580.9 1771.3,644.8 1732.0,644.8" fill="#474747"/>
<polygon points="1648.4,612.8 1677.9,617.8 1722.1,644.8 1648.4,644.8" fill="#333333"/>
<polygon points="1692.6,568.6 1707.4,605.5 1687.7,625.6" fill="#404040"/>
<polygon points="1771.3,585.8 1784.1,588.3 1781.1,644.8 1771.3,644.8" fill="#4c4c4c"/>
<path d="M1808.2 561.2C1815.6 552.4 1860.5 554.3 1869.6 556.3C1878.7 558.3 1890.3 577.4 1899.2 580.9C1908.0 584.3 1952.3 584.3 1958.2 590.7C1964.1 597.1 1974.4 639.4 1958.2 644.8C1941.9 650.2 1810.9 653.2 1795.9 644.8C1780.9 636.5 1800.8 570.1 1808.2 561.2Z" fill="#707070"/>
<path d="M1827.8 556.3C1833.2 553.8 1874.2 557.9 1877.0 561.2C1879.9 564.6 1853.3 577.3 1845.1 576.5C1836.9 575.6 1822.5 558.8 1827.8 556.3Z" fill="#595959"/>
<path d="M1869.6 590.7C1877.3 587.0 1924.7 580.4 1933.6 580.9C1942.4 581.4 1955.7 589.2 1958.2 595.6C1960.6 602.0 1967.0 639.9 1958.2 644.8C1949.3 649.7 1879.7 647.5 1869.6 644.8C1859.6 642.1 1857.4 623.2 1857.4 617.8C1857.4 612.4 1862.0 594.4 1869.6 590.7Z" fill="#616161"/>
<path d="M1771.3 472.7C1773.8 465.3 1791.0 462.0 1795.9 467.8C1800.8 473.5 1803.3 499.7 1800.8 507.1C1798.3 514.5 1786.0 517.8 1781.1 512.0C1776.2 506.3 1768.8 480.1 1771.3 472.7Z" fill="#5c5c5c"/>
<polyline points="1626.2,507.1 1672.9,502.2 1741.8,512.0" fill="none" stroke="#8f8f8f" stroke-width="2.0" stroke-linecap="round" stroke-linejoin="round"/>
<polyline points="1660.6,462.9 1665.6,526.8" fill="none" stroke="#8f8f8f" stroke-width="1.6" stroke-linecap="round" stroke-linejoin="round"/>
<polyline points="1692.6,497.3 1692.6,531.7" fill="none" stroke="#8f8f8f" stroke-width="1.6" stroke-linecap="round" stroke-linejoin="round"/>
<polyline points="1712.3,544.0 1771.3,546.5" fill="none" stroke="#4c4c4c" stroke-width="2.2" stroke-linecap="round" stroke-linejoin="round"/>
<polyline points="1315.6,151.8 1355.0,181.3 1400.8,199.3" fill="none" stroke="#888888" stroke-width="1.6" stroke-linecap="round" stroke-linejoin="round" opacity="0.8"/>
<polyline points="1427.3,262.7 1403.2,293.6 1375.2,321.2" fill="none" stroke="#888888" stroke-width="1.3" stroke-linecap="round" stroke-linejoin="round" opacity="0.8"/>
<polyline points="1618.9,148.4 1568.5,139.2 1519.3,153.5" fill="none" stroke="#858585" stroke-width="1.4" stroke-linecap="round" stroke-linejoin="round" opacity="0.8"/>
<polyline points="1529.8,63.7 1522.5,96.1 1506.4,125.1" fill="none" stroke="#8b8b8b" stroke-width="1.5" stroke-linecap="round" stroke-linejoin="round" opacity="0.8"/>
<polyline points="1334.6,191.7 1343.4,240.2 1353.6,288.4" fill="none" stroke="#8b8b8b" stroke-width="1.7" stroke-linecap="round" stroke-linejoin="round" opacity="0.8"/>
<polyline points="1555.1,234.6 1517.2,250.9 1486.5,278.4" fill="none" stroke="#8c8c8c" stroke-width="1.3" stroke-linecap="round" stroke-linejoin="round" opacity="0.8"/>
<polyline points="1287.4,132.5 1300.5,157.0 1301.7,184.7" fill="none" stroke="#838383" stroke-width="1.6" stroke-linecap="round" stroke-linejoin="round" opacity="0.8"/>
<polyline points="1428.5,62.4 1437.8,97.6 1459.3,126.9" fill="none" stroke="#8a8a8a" stroke-width="1.5" stroke-linecap="round" stroke-linejoin="round" opacity="0.8"/>
<polyline points="1608.0,223.3 1572.4,266.7 1522.1,291.7" fill="none" stroke="#898989" stroke-width="1.4" stroke-linecap="round" stroke-linejoin="round" opacity="0.8"/>
<polyline points="1484.4,242.1 1438.6,261.6 1388.9,264.9" fill="none" stroke="#828282" stroke-width="1.3" stroke-linecap="round" stroke-linejoin="round" opacity="0.8"/>
<polyline points="1324.3,157.9 1321.3,198.1 1304.6,234.7" fill="none" stroke="#848484" stroke-width="1.5" stroke-linecap="round" stroke-linejoin="round" opacity="0.8"/>
<polyline points="1476.0,101.8 1454.2,102.9 1432.4,104.8" fill="none" stroke="#888888" stroke-width="1.4" stroke-linecap="round" stroke-linejoin="round" opacity="0.8"/>
<polyline points="1593.4,177.3 1564.9,187.6 1536.6,198.4" fill="none" stroke="#848484" stroke-width="1.5" stroke-linecap="round" stroke-linejoin="round" opacity="0.8"/>
<polyline points="1374.2,233.7 1411.1,238.4 1442.3,258.8" fill="none" stroke="#828282" stroke-width="1.5" stroke-linecap="round" stroke-linejoin="round" opacity="0.8"/>
<polyline points="1600.2,288.7 1581.2,324.2 1549.0,348.4" fill="none" stroke="#939393" stroke-width="1.8" stroke-linecap="round" stroke-linejoin="round" opacity="0.85"/>
<polyline points="1362.4,611.9 1367.8,638.8 1377.2,664.5" fill="none" stroke="#959595" stroke-width="1.1" stroke-linecap="round" stroke-linejoin="round" opacity="0.85"/>
<polyline points="1400.6,298.0 1426.0,307.3 1453.0,309.6" fill="none" stroke="#929292" stroke-width="1.7" stroke-linecap="round" stroke-linejoin="round" opacity="0.85"/>
<polyline points="1487.0,574.0 1437.9,603.4 1381.0,609.0" fill="none" stroke="#959595" stroke-width="1.6" stroke-linecap="round" stroke-linejoin="round" opacity="0.85"/>
<polyline points="1513.6,467.2 1550.6,484.3 1587.2,502.5" fill="none" stroke="#919191" stroke-width="1.2" stroke-linecap="round" stroke-linejoin="round" opacity="0.85"/>
<polyline points="1414.6,511.4 1375.2,535.7 1337.7,562.8" fill="none" stroke="#8f8f8f" stroke-width="1.1" stroke-linecap="round" stroke-linejoin="round" opacity="0.85"/>
<polyline points="1490.1,453.5 1488.7,480.8 1497.4,506.7" fill="none" stroke="#919191" stroke-width="1.2" stroke-linecap="round" stroke-linejoin="round" opacity="0.85"/>
<polyline points="1486.2,367.8 1480.7,404.6 1473.5,441.0" fill="none" stroke="#969696" stroke-width="1.7" stroke-linecap="round" stroke-linejoin="round" opacity="0.85"/>
<polyline points="1414.7,602.8 1366.9,625.2 1320.2,649.8" fill="none" stroke="#999999" stroke-width="1.7" stroke-linecap="round" stroke-linejoin="round" opacity="0.85"/>
<polyline points="1434.3,510.7 1394.3,542.5 1345.2,556.4" fill="none" stroke="#949494" stroke-width="1.6" stroke-linecap="round" stroke-linejoin="round" opacity="0.85"/>
<polyline points="1305.1,504.0 1353.4,516.9 1392.9,547.5" fill="none" stroke="#939393" stroke-width="1.2" stroke-linecap="round" stroke-linejoin="round" opacity="0.85"/>
<polyline points="1297.1,452.4 1342.1,473.3 1384.6,499.0" fill="none" stroke="#949494" stroke-width="1.6" stroke-linecap="round" stroke-linejoin="round" opacity="0.85"/>
<polyline points="1326.2,449.8 1368.6,449.7 1409.2,461.9" fill="none" stroke="#909090" stroke-width="1.6" stroke-linecap="round" stroke-linejoin="round" opacity="0.85"/>
<polyline points="1554.6,391.7 1581.6,406.0 1602.4,428.3" fill="none" stroke="#909090" stroke-width="1.7" stroke-linecap="round" stroke-linejoin="round" opacity="0.85"/>
<polyline points="1445.9,538.3 1392.5,549.2 1344.8,575.7" fill="none" stroke="#949494" stroke-width="1.3" stroke-linecap="round" stroke-linejoin="round" opacity="0.85"/>
<polyline points="1517.5,382.0 1545.0,406.8 1580.1,418.6" fill="none" stroke="#919191" stroke-width="1.6" stroke-linecap="round" stroke-linejoin="round" opacity="0.85"/>
<polyline points="1441.5,356.6 1412.6,367.2 1381.9,369.0" fill="none" stroke="#969696" stroke-width="1.5" stroke-linecap="round" stroke-linejoin="round" opacity="0.85"/>
<polyline points="1534.1,474.7 1489.5,492.6 1450.2,520.3" fill="none" stroke="#959595" stroke-width="1.5" stroke-linecap="round" stroke-linejoin="round" opacity="0.85"/>
<polyline points="1551.8,281.5 1548.1,341.4 1569.5,397.5" fill="none" stroke="#969696" stroke-width="1.7" stroke-linecap="round" stroke-linejoin="round" opacity="0.85"/>
<polyline points="1505.5,299.7 1482.4,319.6 1459.0,339.2" fill="none" stroke="#979797" stroke-width="1.3" stroke-linecap="round" stroke-linejoin="round" opacity="0.85"/>
<polyline points="1379.6,318.5 1393.1,338.6 1402.4,360.9" fill="none" stroke="#979797" stroke-width="1.2" stroke-linecap="round" stroke-linejoin="round" opacity="0.85"/>
<polyline points="1485.4,549.7 1462.2,569.7 1438.5,589.0" fill="none" stroke="#969696" stroke-width="1.5" stroke-linecap="round" stroke-linejoin="round" opacity="0.85"/>
<polyline points="1817.1,549.1 1834.1,595.7 1830.3,645.2" fill="none" stroke="#929292" stroke-width="1.6" stroke-linecap="round" stroke-linejoin="round" opacity="0.85"/>
<polyline points="1833.7,581.6 1861.0,578.1 1886.8,587.8" fill="none" stroke="#949494" stroke-width="1.3" stroke-linecap="round" stroke-linejoin="round" opacity="0.85"/>
<polyline points="1849.0,281.9 1860.4,318.2 1881.0,350.1" fill="none" stroke="#8e8e8e" stroke-width="1.5" stroke-linecap="round" stroke-linejoin="round" opacity="0.85"/>
<polyline points="1862.1,322.2 1822.0,367.8 1804.9,426.0" fill="none" stroke="#8f8f8f" stroke-width="1.2" stroke-linecap="round" stroke-linejoin="round" opacity="0.85"/>
<polyline points="1837.8,381.6 1847.6,410.1 1849.2,440.3" fill="none" stroke="#949494" stroke-width="1.4" stroke-linecap="round" stroke-linejoin="round" opacity="0.85"/>
<polyline points="1864.8,288.7 1885.2,343.9 1919.6,391.6" fill="none" stroke="#8e8e8e" stroke-width="1.1" stroke-linecap="round" stroke-linejoin="round" opacity="0.85"/>
<polyline points="1803.3,563.7 1841.5,572.1 1880.5,576.4" fill="none" stroke="#909090" stroke-width="1.3" stroke-linecap="round" stroke-linejoin="round" opacity="0.85"/>
<polyline points="1774.0,298.3 1747.0,305.6 1719.7,311.9" fill="none" stroke="#939393" stroke-width="1.6" stroke-linecap="round" stroke-linejoin="round" opacity="0.85"/>
<polyline points="1802.9,448.7 1775.7,450.1 1750.1,459.4" fill="none" stroke="#8f8f8f" stroke-width="1.6" stroke-linecap="round" stroke-linejoin="round" opacity="0.85"/>
<polyline points="1735.5,396.0 1760.2,400.2 1784.1,408.1" fill="none" stroke="#8f8f8f" stroke-width="1.4" stroke-linecap="round" stroke-linejoin="round" opacity="0.85"/>
<polyline points="1652.0,339.5 1700.4,368.4 1744.9,403.2" fill="none" stroke="#919191" stroke-width="1.3" stroke-linecap="round" stroke-linejoin="round" opacity="0.85"/>
<polyline points="1871.2,457.9 1898.6,463.4 1920.9,480.1" fill="none" stroke="#909090" stroke-width="1.4" stroke-linecap="round" stroke-linejoin="round" opacity="0.85"/>
<polyline points="1621.3,561.0 1655.1,587.3 1682.3,620.4" fill="none" stroke="#929292" stroke-width="1.4" stroke-linecap="round" stroke-linejoin="round" opacity="0.85"/>
<polyline points="1675.1,488.2 1713.3,513.5 1736.7,552.8" fill="none" stroke="#969696" stroke-width="1.6" stroke-linecap="round" stroke-linejoin="round" opacity="0.85"/>
<polyline points="1863.6,280.4 1814.2,308.1 1769.6,342.9" fill="none" stroke="#8d8d8d" stroke-width="1.5" stroke-linecap="round" stroke-linejoin="round" opacity="0.85"/>
<polyline points="1789.1,555.3 1762.9,581.8 1735.8,607.4" fill="none" stroke="#919191" stroke-width="1.6" stroke-linecap="round" stroke-linejoin="round" opacity="0.85"/>
<polyline points="1790.7,474.2 1823.7,516.2 1871.5,540.2" fill="none" stroke="#8f8f8f" stroke-width="1.5" stroke-linecap="round" stroke-linejoin="round" opacity="0.85"/>
<polyline points="1610.5,456.7 1622.4,488.7 1646.1,513.3" fill="none" stroke="#909090" stroke-width="1.5" stroke-linecap="round" stroke-linejoin="round" opacity="0.85"/>
<polyline points="1676.8,573.9 1636.1,577.1 1595.3,578.3" fill="none" stroke="#959595" stroke-width="1.6" stroke-linecap="round" stroke-linejoin="round" opacity="0.85"/>
<polyline points="1841.9,400.8 1832.8,434.9 1837.4,469.8" fill="none" stroke="#949494" stroke-width="1.6" stroke-linecap="round" stroke-linejoin="round" opacity="0.85"/>
<polyline points="1657.7,551.9 1621.7,561.1 1585.0,555.1" fill="none" stroke="#8e8e8e" stroke-width="1.6" stroke-linecap="round" stroke-linejoin="round" opacity="0.85"/>
<polyline points="1868.5,388.2 1884.5,408.0 1899.6,428.4" fill="none" stroke="#8f8f8f" stroke-width="1.5" stroke-linecap="round" stroke-linejoin="round" opacity="0.85"/></g></g>
<defs><pattern id="rodspk" width="5" height="5" patternUnits="userSpaceOnUse"><rect width="5" height="5" fill="#ebc7cf"/><rect x="0" y="0" width="1.6" height="1.6" fill="#ee5a66"/><rect x="2.6" y="2.8" width="1.4" height="1.4" fill="#f4e4ea"/></pattern></defs>
<defs><linearGradient id="cbC" x1="0" x2="0" y1="0" y2="1"><stop offset="0" stop-color="#f0a0a8"/><stop offset="0.1" stop-color="#ee1216"/><stop offset="0.2" stop-color="#ee4414"/><stop offset="0.3" stop-color="#ee7a10"/><stop offset="0.38" stop-color="#e8b410"/><stop offset="0.46" stop-color="#e8e40e"/><stop offset="0.58" stop-color="#c4c824"/><stop offset="0.68" stop-color="#9aae3a"/><stop offset="0.78" stop-color="#64884e"/><stop offset="0.88" stop-color="#2a686c"/><stop offset="0.97" stop-color="#104a72"/><stop offset="1" stop-color="#0c3868"/></linearGradient></defs>
<path d="M1582 35 L1582 55 L1579.5 104 L1577 122 L1577 153 L1580.7 251 L1586.9 335 L1594.3 433 L1600.4 532 L1606 643 L1621.3 643 L1623.8 532 L1621.3 433 L1610.2 335 L1602.9 251 L1599.2 177 L1598 104 L1600.4 58 L1595.5 35Z" fill="#ebc7cf" stroke="#ec4046" stroke-width="2.2" stroke-linejoin="round" clip-path="url(#clipC)"/>
<path d="M1596 440 L1601 532 L1606 643 L1618 643 L1619 532 L1614 440Z" fill="url(#rodspk)" opacity="0.55" clip-path="url(#clipC)"/>
<rect x="1185.5" y="193" width="41" height="203" fill="#e6e2f0"/>
<rect x="1188.5" y="196" width="34" height="197" fill="url(#cbC)"/>
<polyline points="1181.3,465 1210,448.6 1245,418 1259,412 1273,407 1320,398.8 1333,393 1341.7,379 1341.7,317 1345.5,303.5 1402.4,300.5 1451,278.5 1509.3,268.5 1577.3,268.5" fill="none" stroke="#fff" stroke-width="7" stroke-dasharray="7.5 7.5"/>
<polyline points="1615.2,291.2 1644,285.2 1675.2,274.4 1716,251.6 1730.4,255.2 1756.8,272 1771.2,276.8 1818,277.3 1831.2,282.8 1857.6,302 1896,324.8 1934.5,350 1962,374.5" fill="none" stroke="#fff" stroke-width="7" stroke-dasharray="7.5 7.5"/>
<text x="1178.5" y="99" font-size="48" font-weight="bold" fill="#fff" textLength="173" lengthAdjust="spacingAndGlyphs" font-family="Liberation Sans, Arial, sans-serif">Control</text>
<text x="1727" y="90.5" font-size="47.5" font-weight="bold" fill="#fff" textLength="230" lengthAdjust="spacingAndGlyphs" font-family="Liberation Sans, Arial, sans-serif">10 mM AA</text>
<text x="1175.5" y="634" font-size="47.5" font-weight="bold" fill="#fff" textLength="229" lengthAdjust="spacingAndGlyphs" font-family="Liberation Sans, Arial, sans-serif">10 mM AA</text>
<text x="1783" y="631.5" font-size="48" font-weight="bold" fill="#fff" textLength="172" lengthAdjust="spacingAndGlyphs" font-family="Liberation Sans, Arial, sans-serif">Control</text>
<text x="1177" y="191" font-size="25" fill="#fff" stroke="#fff" stroke-width="0.5" font-family="Liberation Sans, Arial, sans-serif">29.5<tspan dx="3" font-size="26" stroke-width="0" font-weight="300" font-family="Noto Sans CJK JP, Liberation Sans, sans-serif">℃</tspan></text>
<text x="1176" y="425.5" font-size="25" fill="#fff" stroke="#fff" stroke-width="0.5" font-family="Liberation Sans, Arial, sans-serif">26.0<tspan dx="3" font-size="26" stroke-width="0" font-weight="300" font-family="Noto Sans CJK JP, Liberation Sans, sans-serif">℃</tspan></text>
<text x="1467.0" y="160.1" font-size="67" font-weight="bold" text-anchor="middle" fill="#000" font-family="Liberation Sans, Arial, sans-serif">*</text>
<text x="1411.7" y="227.7" font-size="67" font-weight="bold" text-anchor="middle" fill="#000" font-family="Liberation Sans, Arial, sans-serif">*</text>
<text x="1665.6" y="217.9" font-size="67" font-weight="bold" text-anchor="middle" fill="#000" font-family="Liberation Sans, Arial, sans-serif">*</text>
<text x="1749.2" y="198.2" font-size="67" font-weight="bold" text-anchor="middle" fill="#000" font-family="Liberation Sans, Arial, sans-serif">*</text>
<text x="1628.7" y="372.0" font-size="67" font-weight="bold" text-anchor="middle" fill="#000" font-family="Liberation Sans, Arial, sans-serif">*</text>
<text x="1352.7" y="471.3" font-size="67" font-weight="bold" text-anchor="middle" fill="#000" font-family="Liberation Sans, Arial, sans-serif">*</text>
<text x="1499.0" y="522.9" font-size="67" font-weight="bold" text-anchor="middle" fill="#000" font-family="Liberation Sans, Arial, sans-serif">*</text>
<text x="1566.0" y="420.9" font-size="67" font-weight="bold" text-anchor="middle" fill="#000" font-family="Liberation Sans, Arial, sans-serif">*</text>
<text x="1778.7" y="454.0" font-size="67" font-weight="bold" text-anchor="middle" fill="#000" font-family="Liberation Sans, Arial, sans-serif">*</text>
<text x="1691.4" y="505.7" font-size="67" font-weight="bold" text-anchor="middle" fill="#000" font-family="Liberation Sans, Arial, sans-serif">*</text>
<text x="9.6" y="48.2" font-size="40" font-weight="bold" fill="#000" text-anchor="start" font-family="Liberation Sans, Arial, sans-serif" >A</text>
<text x="8.3" y="709.5" font-size="40" font-weight="bold" fill="#000" text-anchor="start" font-family="Liberation Sans, Arial, sans-serif" >B</text>
<text x="1075.4" y="48.2" font-size="40" font-weight="bold" fill="#000" text-anchor="start" font-family="Liberation Sans, Arial, sans-serif" >C</text>
<text x="1076.5" y="709.5" font-size="40" font-weight="bold" fill="#000" text-anchor="start" font-family="Liberation Sans, Arial, sans-serif" >D</text>
<text x="11.7" y="1550.3" font-size="40" font-weight="bold" fill="#000" text-anchor="start" font-family="Liberation Sans, Arial, sans-serif" >E</text>
<defs><linearGradient id="parB" x1="0" x2="1" y1="0" y2="0"><stop offset="0" stop-color="#fffbea"/><stop offset="0.2" stop-color="#fffaea"/><stop offset="0.2" stop-color="#fff6e0"/><stop offset="0.4" stop-color="#fff4da"/><stop offset="0.4" stop-color="#ffe9ae"/><stop offset="0.5" stop-color="#ffe9ae"/><stop offset="0.5" stop-color="#fee291"/><stop offset="0.6" stop-color="#fee291"/><stop offset="0.6" stop-color="#ffe7a6"/><stop offset="0.7" stop-color="#ffe7a6"/><stop offset="0.7" stop-color="#ffebb8"/><stop offset="0.9" stop-color="#ffebb8"/><stop offset="0.9" stop-color="#ffeec2"/><stop offset="0.99" stop-color="#ffe9ae"/><stop offset="1" stop-color="#fdd870"/></linearGradient></defs>
<rect x="204.5" y="694.5" width="711" height="28" fill="url(#parB)" stroke="#111" stroke-width="1.6"/>
<line x1="206" x2="911" y1="838" y2="838" stroke="#d2d2d2" stroke-width="2.4"/>
<line x1="206" x2="911" y1="954" y2="954" stroke="#d2d2d2" stroke-width="2.4"/>
<line x1="206" x2="911" y1="1070.5" y2="1070.5" stroke="#d2d2d2" stroke-width="2.4"/>
<line x1="206" x2="911" y1="1186.5" y2="1186.5" stroke="#d2d2d2" stroke-width="2.4"/>
<line x1="440.5" x2="440.5" y1="722.3" y2="1301.5" stroke="#d2d2d2" stroke-width="2.4"/>
<line x1="674.5" x2="674.5" y1="722.3" y2="1301.5" stroke="#d2d2d2" stroke-width="2.4"/>
<polyline points="212.2,1106.5 220.0,1085.0 228.9,1068.5 235.8,1100.8 243.2,1130.3 251.6,1128.6 259.0,1090.9 267.4,1093.0 274.8,1084.3 291.1,1121.9 307.5,1084.3 314.4,1079.1 321.8,1100.1 330.7,1107.1 339.1,1089.2 347.5,1071.7 354.9,1077.0 361.2,1091.3 369.3,1059.0 376.6,1058.6 384.0,1048.5 392.9,1075.5 399.2,1083.9 408.7,1086.0 416.0,1076.5 423.4,1078.6 431.9,1082.2 439.2,1053.3 447.7,1053.8 455.5,1042.8 463.5,1049.1 471.9,1078.6 478.6,1069.2 486.0,1039.0 495.1,1037.5 502.5,1056.5 511.3,1069.2 517.8,1048.1 525.6,1045.3 533.7,1051.7 541.5,1125.4 549.9,1111.3 560.0,1073.4 564.6,1059.0 580.0,1136.0 587.4,1107.1 603.6,1060.7 612.7,1067.0 619.6,1091.3 627.0,1053.3 642.8,1024.9 651.7,1052.3 659.1,1037.5 667.1,1036.9 674.9,1009.5 682.2,1020.7 689.6,1035.4 698.1,1035.9 705.4,1054.4 714.5,1024.9 729.3,1067.0 737.7,1053.3 753.5,1005.9 760.2,1081.8 767.6,1099.7 776.7,1093.4 784.5,1055.5 791.9,1060.1 800.3,1101.8 815.5,1058.6 823.5,1022.8 830.8,1009.5 839.3,1069.2 847.1,1037.5 855.1,992.2 862.9,1004.9 869.8,998.5 878.3,1000.0 885.6,997.5 894.1,1014.4 902.5,1004.9 908.8,989.1" fill="none" stroke="#b7b7b7" stroke-width="3.6" stroke-linejoin="round" stroke-linecap="round" />
<polyline points="211.6,1030.6 219.4,1029.1 228.9,998.5 235.8,1022.8 242.8,1042.8 251.6,1040.1 259.0,1030.2 267.4,1023.2 274.8,1024.9 282.2,1019.6 291.1,1030.2 298.0,1005.3 307.5,1000.0 314.4,1000.0 321.8,1024.9 331.7,1024.9 337.4,1023.2 346.5,1007.4 353.9,1025.3 361.2,1016.5 369.7,992.6 376.6,985.9 384.8,993.3 393.5,1012.7 401.7,1003.8 408.7,993.3 416.0,999.6 423.0,993.3 432.5,1012.7 439.2,1008.0 448.7,983.8 455.5,992.6 462.4,969.5 471.5,1016.5 479.3,1023.8 486.0,969.5 495.1,962.7 502.5,996.9 511.3,1007.4 525.2,935.3 541.5,1030.6 550.9,1022.8 560.0,1003.8 564.6,991.2 573.1,1019.6 580.0,1023.2 587.4,1028.5 595.8,1004.9 603.6,993.3 613.7,1002.1 621.1,1005.3 627.4,1008.5 635.9,1024.9 642.8,939.1 651.7,970.1 659.1,978.5 666.4,946.3 674.9,968.0 682.2,909.0 689.6,997.9 705.4,935.3 714.9,950.1 721.2,957.4 729.3,976.4 738.1,974.3 745.5,958.5 753.9,951.8 767.6,1021.7 776.0,975.4 783.4,959.6 791.4,935.7 799.9,1005.3 808.3,998.5 815.5,937.4 823.5,912.1 831.5,921.2 839.3,991.2 846.7,950.1 855.1,966.9 862.5,989.1 869.8,936.8 878.9,984.2 886.3,928.4 893.0,1043.2 908.8,927.9" fill="none" stroke="#000" stroke-width="4.2" stroke-linejoin="round" stroke-linecap="round" />
<path d="M204 722.3 H913" stroke="#000" stroke-width="5.5" fill="none"/>
<path d="M206 722.3 V1301.5 H911 V722.3" stroke="#000" stroke-width="4.2" fill="none"/>
<rect x="535" y="741.5" width="316.5" height="121" fill="#fff" stroke="#000" stroke-width="3.2"/>
<line x1="565" x2="639" y1="773" y2="773" stroke="#b7b7b7" stroke-width="3.6" stroke-linecap="round"/>
<line x1="565" x2="639" y1="833.8" y2="833.8" stroke="#000" stroke-width="4.2" stroke-linecap="round"/>
<text x="645.0" y="784.5" font-size="38.5" font-weight="bold" fill="#404040" text-anchor="start" font-family="Liberation Sans, Arial, sans-serif" >Control</text>
<text x="646.0" y="845.3" font-size="38.5" font-weight="bold" fill="#404040" text-anchor="start" font-family="Liberation Sans, Arial, sans-serif" >10 mM AA</text>
<text x="171.5" y="734.6" font-size="38.5" font-weight="normal" fill="#565656" text-anchor="end" font-family="Liberation Sans, Arial, sans-serif" stroke="#565656" stroke-width="1.5" stroke-linejoin="round">32</text>
<text x="171.5" y="850.6" font-size="38.5" font-weight="normal" fill="#565656" text-anchor="end" font-family="Liberation Sans, Arial, sans-serif" stroke="#565656" stroke-width="1.5" stroke-linejoin="round">31</text>
<text x="171.5" y="966.6" font-size="38.5" font-weight="normal" fill="#565656" text-anchor="end" font-family="Liberation Sans, Arial, sans-serif" stroke="#565656" stroke-width="1.5" stroke-linejoin="round">30</text>
<text x="171.5" y="1082.6" font-size="38.5" font-weight="normal" fill="#565656" text-anchor="end" font-family="Liberation Sans, Arial, sans-serif" stroke="#565656" stroke-width="1.5" stroke-linejoin="round">29</text>
<text x="171.5" y="1198.6" font-size="38.5" font-weight="normal" fill="#565656" text-anchor="end" font-family="Liberation Sans, Arial, sans-serif" stroke="#565656" stroke-width="1.5" stroke-linejoin="round">28</text>
<text x="171.5" y="1314.6" font-size="38.5" font-weight="normal" fill="#565656" text-anchor="end" font-family="Liberation Sans, Arial, sans-serif" stroke="#565656" stroke-width="1.5" stroke-linejoin="round">27</text>
<text transform="translate(79.5 991.0) rotate(-90)" font-size="43.5" font-weight="bold" fill="#000" text-anchor="middle" font-family="Liberation Sans, Noto Sans CJK JP, sans-serif" >Leaf temperature (℃)</text>
<text transform="translate(215.5 1342.0) rotate(-30)" font-size="43.5" font-weight="bold" fill="#000" text-anchor="end" font-family="Liberation Sans, Arial, sans-serif" >8 am</text>
<text transform="translate(677.0 1337.8) rotate(-30)" font-size="43.5" font-weight="bold" fill="#000" text-anchor="end" font-family="Liberation Sans, Arial, sans-serif" >9 am</text>
<defs><linearGradient id="pgB" x1="0" x2="1" y1="0" y2="0"><stop offset="0" stop-color="#ffffff"/><stop offset="0.5" stop-color="#fde08c"/><stop offset="1" stop-color="#ffc000"/></linearGradient></defs>
<rect x="349" y="1430" width="301" height="31" fill="url(#pgB)" stroke="#b9bfd0" stroke-width="1.6"/>
<text x="348.5" y="1480.5" font-size="19.5" font-weight="bold" fill="#000" text-anchor="middle" font-family="Liberation Sans, Arial, sans-serif" >26</text>
<text x="654.0" y="1480.5" font-size="19.5" font-weight="bold" fill="#000" text-anchor="middle" font-family="Liberation Sans, Arial, sans-serif" >1500</text>
<text x="500.5" y="1511.5" font-size="19.5" font-weight="bold" fill="#000" text-anchor="middle" font-family="Liberation Sans, Arial, sans-serif">PAR (mol m<tspan font-size="12" dy="-7">-2</tspan><tspan dy="7"> s</tspan><tspan font-size="12" dy="-7">-1</tspan><tspan dy="7">)</tspan></text>
<rect x="1265.5" y="696.5" width="699.5" height="30" fill="#fffcee" stroke="#000" stroke-width="3.4"/>
<line x1="1267" x2="1963" y1="842.5" y2="842.5" stroke="#d2d2d2" stroke-width="2.4"/>
<line x1="1267" x2="1963" y1="958.7" y2="958.7" stroke="#d2d2d2" stroke-width="2.4"/>
<line x1="1267" x2="1963" y1="1075.2" y2="1075.2" stroke="#d2d2d2" stroke-width="2.4"/>
<line x1="1267" x2="1963" y1="1191.4" y2="1191.4" stroke="#d2d2d2" stroke-width="2.4"/>
<line x1="1383" x2="1383" y1="726.7" y2="1308" stroke="#d2d2d2" stroke-width="2.4"/>
<line x1="1498" x2="1498" y1="726.7" y2="1308" stroke="#d2d2d2" stroke-width="2.4"/>
<line x1="1614.7" x2="1614.7" y1="726.7" y2="1308" stroke="#d2d2d2" stroke-width="2.4"/>
<line x1="1731.2" x2="1731.2" y1="726.7" y2="1308" stroke="#d2d2d2" stroke-width="2.4"/>
<line x1="1847.7" x2="1847.7" y1="726.7" y2="1308" stroke="#d2d2d2" stroke-width="2.4"/>
<polyline points="1271.6,1095.0 1273.2,1099.0 1274.8,1101.3 1277.3,1085.5 1278.7,1097.1 1280.0,1105.5 1281.4,1121.9 1282.8,1137.3 1284.2,1148.7 1285.8,1139.8 1287.4,1127.6 1288.8,1129.1 1290.2,1121.6 1291.6,1123.4 1293.0,1119.7 1294.4,1119.4 1295.8,1113.9 1297.2,1112.1 1298.6,1103.2 1300.0,1102.3 1301.5,1104.9 1302.9,1106.2 1304.3,1110.8 1305.8,1120.2 1307.4,1129.5 1308.9,1138.2 1310.5,1127.5 1312.1,1121.5 1313.6,1114.5 1315.2,1108.7 1317.1,1109.4 1319.0,1104.4 1320.4,1104.1 1321.8,1097.9 1323.2,1098.1 1325.1,1094.9 1327.0,1087.6 1328.8,1102.0 1330.6,1121.3 1332.2,1124.7 1333.8,1126.6 1335.4,1116.1 1336.9,1110.8 1338.5,1108.4 1340.1,1112.9 1341.7,1102.8 1343.3,1087.6 1344.8,1101.4 1346.4,1119.2 1347.8,1120.6 1349.1,1129.1 1350.5,1131.7 1351.8,1131.0 1353.2,1138.9 1354.5,1139.3 1355.9,1142.4 1357.4,1139.0 1358.9,1131.1 1360.3,1131.5 1361.8,1125.1 1363.3,1119.2 1364.9,1120.3 1366.4,1117.7 1368.0,1111.5 1369.6,1110.8 1371.0,1107.4 1372.4,1103.6 1373.8,1103.4 1375.2,1107.3 1376.5,1113.1 1377.9,1121.0 1379.2,1129.4 1380.6,1135.0 1382.0,1125.6 1383.5,1124.1 1385.0,1115.7 1386.5,1110.8 1388.0,1107.4 1389.6,1108.7 1391.2,1104.3 1392.8,1102.3 1394.3,1097.9 1395.9,1095.9 1397.4,1092.9 1398.8,1100.8 1400.2,1102.9 1401.6,1115.7 1403.0,1115.7 1404.4,1125.5 1406.0,1126.2 1407.5,1125.8 1409.1,1119.1 1410.7,1121.3 1412.3,1114.8 1413.9,1103.5 1415.4,1096.6 1417.0,1087.6 1418.4,1066.0 1419.8,1048.0 1421.2,1032.8 1423.3,1070.7 1424.9,1070.7 1426.5,1074.9 1428.1,1090.2 1429.7,1099.2 1431.0,1086.6 1432.3,1079.8 1433.6,1070.5 1434.9,1057.0 1436.3,1065.0 1437.6,1066.0 1438.9,1071.1 1440.2,1077.0 1441.5,1070.9 1442.8,1066.3 1444.2,1055.4 1445.5,1051.8 1446.8,1063.4 1448.2,1073.6 1449.5,1083.9 1450.9,1088.2 1452.2,1101.3 1454.1,1094.3 1456.0,1081.3 1457.4,1079.2 1458.8,1081.6 1460.2,1083.4 1461.6,1079.1 1462.9,1076.2 1464.2,1067.3 1465.5,1063.3 1467.1,1063.3 1468.7,1057.9 1470.2,1053.4 1471.8,1051.8 1473.2,1067.0 1474.6,1082.6 1476.0,1101.3 1477.4,1097.4 1478.7,1096.8 1480.0,1099.4 1481.3,1097.1 1482.8,1092.0 1484.3,1077.9 1485.7,1068.7 1487.2,1063.3 1489.7,1072.8 1491.1,1073.2 1492.4,1067.3 1493.7,1063.5 1495.0,1061.2 1496.6,1068.1 1498.2,1079.3 1499.8,1089.5 1501.3,1096.0 1502.7,1088.7 1504.1,1081.4 1505.6,1074.9 1506.9,1069.8 1508.2,1073.6 1509.5,1065.4 1510.8,1066.5 1512.2,1064.7 1513.6,1065.3 1515.0,1061.2 1516.4,1060.5 1517.8,1066.3 1519.3,1066.5 1520.6,1076.9 1521.9,1082.2 1523.3,1090.6 1524.6,1093.3 1526.0,1103.4 1527.4,1098.7 1528.8,1092.6 1530.2,1093.1 1531.6,1085.1 1533.0,1082.3 1534.5,1084.1 1536.1,1086.5 1537.6,1088.5 1539.1,1086.0 1540.5,1085.3 1542.0,1080.3 1543.5,1079.2 1545.1,1085.4 1546.7,1093.4 1548.2,1098.0 1549.8,1104.4 1551.2,1097.4 1552.6,1092.6 1554.0,1087.6 1555.5,1084.8 1557.0,1085.9 1558.5,1089.6 1559.9,1089.0 1561.4,1085.5 1563.0,1074.2 1564.6,1061.2 1565.9,1061.8 1567.2,1061.2 1568.5,1060.0 1569.8,1063.3 1571.4,1086.0 1573.0,1111.8 1574.4,1106.4 1575.8,1099.6 1577.2,1089.7 1578.6,1086.6 1580.0,1087.4 1581.4,1085.2 1582.8,1082.6 1584.2,1080.3 1585.6,1077.0 1587.0,1077.1 1588.4,1072.7 1589.8,1073.4 1591.2,1068.8 1592.6,1068.6 1593.9,1078.6 1595.3,1090.7 1596.6,1100.3 1598.0,1107.7 1599.3,1119.2 1600.9,1110.6 1602.5,1097.0 1604.1,1085.0 1605.7,1072.8 1607.2,1072.7 1608.8,1079.5 1610.4,1080.6 1612.0,1085.5 1613.5,1084.5 1615.0,1081.0 1616.5,1081.3 1618.0,1077.0 1619.5,1089.6 1621.1,1102.3 1622.6,1111.8 1624.5,1095.5 1626.4,1081.3 1628.0,1089.6 1629.6,1096.0 1631.2,1087.1 1632.8,1074.9 1634.3,1037.1 1635.9,994.8 1638.0,1062.3 1639.4,1061.6 1640.8,1065.3 1642.2,1063.3 1644.3,1093.9 1645.7,1084.8 1647.0,1072.0 1648.3,1062.4 1649.6,1047.5 1651.2,1048.5 1652.8,1043.3 1654.4,1048.7 1655.9,1053.9 1657.3,1047.7 1658.7,1038.9 1660.2,1034.9 1661.7,1037.2 1663.3,1034.9 1664.7,1054.7 1666.1,1068.5 1667.5,1085.5 1669.0,1082.0 1670.4,1077.5 1671.8,1072.8 1673.2,1066.5 1674.6,1047.4 1676.0,1032.8 1677.4,1036.0 1678.9,1035.9 1680.4,1037.7 1681.9,1037.3 1683.3,1039.1 1685.4,1017.0 1686.8,1035.7 1688.1,1054.7 1689.4,1071.7 1690.7,1088.6 1692.1,1078.8 1693.5,1062.7 1694.9,1052.2 1696.3,1042.7 1697.7,1031.7 1700.2,1052.8 1701.6,1050.0 1703.0,1043.2 1704.4,1042.5 1705.8,1038.2 1707.2,1030.4 1708.6,1029.6 1710.1,1044.2 1711.5,1057.3 1712.9,1070.9 1714.3,1088.6 1715.7,1079.5 1717.0,1074.1 1718.4,1066.5 1719.8,1059.9 1721.1,1052.1 1722.5,1048.4 1723.8,1041.1 1725.2,1036.0 1726.5,1028.6 1727.9,1030.5 1729.2,1029.4 1730.5,1035.3 1731.8,1033.8 1733.2,1047.8 1734.7,1068.0 1736.1,1084.5 1737.5,1103.4 1739.1,1088.8 1740.7,1072.9 1742.3,1063.8 1743.8,1047.5 1745.2,1056.2 1746.6,1066.5 1748.0,1053.7 1749.5,1047.9 1751.0,1034.7 1752.5,1028.0 1753.9,1018.0 1755.3,1040.4 1756.6,1065.5 1757.9,1091.5 1759.2,1111.8 1760.8,1104.2 1762.4,1091.8 1764.0,1084.7 1765.5,1072.8 1766.9,1071.2 1768.4,1066.7 1769.8,1062.5 1771.2,1062.9 1772.6,1060.1 1774.0,1057.0 1775.6,1051.7 1777.1,1040.2 1778.9,1077.6 1780.7,1108.7 1782.0,1103.2 1783.3,1095.2 1784.6,1092.7 1785.9,1080.4 1787.2,1074.9 1788.5,1071.7 1789.8,1065.9 1791.1,1056.4 1792.4,1053.5 1793.7,1049.1 1795.0,1040.2 1796.5,1042.5 1797.9,1046.0 1799.3,1049.6 1800.6,1060.2 1801.9,1073.0 1803.2,1090.0 1804.5,1099.2 1806.1,1085.2 1807.7,1076.0 1809.3,1062.5 1810.9,1046.5 1812.3,1041.7 1813.7,1034.0 1815.1,1033.4 1816.5,1024.7 1817.9,1018.7 1819.3,1013.8 1820.9,1014.7 1822.4,1018.0 1824.0,1046.6 1825.5,1068.6 1827.1,1093.9 1829.0,1071.4 1830.9,1051.8 1832.5,1045.3 1834.0,1036.5 1835.6,1033.6 1837.2,1026.5 1838.8,1024.8 1840.4,1022.4 1841.9,1024.4 1843.5,1021.2 1844.8,1032.1 1846.2,1035.3 1847.5,1047.5 1848.8,1056.0 1850.1,1055.5 1851.4,1061.0 1852.7,1061.1 1854.1,1060.2 1855.4,1049.3 1856.7,1040.3 1858.1,1030.4 1859.4,1027.0 1860.7,1013.1 1862.1,1005.4 1863.5,1011.4 1864.9,1015.8 1866.3,1022.2 1867.8,1026.5 1869.3,1052.5 1870.9,1077.0 1872.2,1079.2 1873.6,1075.5 1874.9,1080.4 1876.2,1079.2 1877.5,1069.9 1878.8,1063.6 1880.1,1054.3 1881.5,1047.5 1883.0,1041.9 1884.6,1039.1 1886.1,1049.5 1887.6,1059.2 1889.2,1068.7 1890.7,1081.5 1892.2,1090.7 1893.7,1100.2 1895.2,1085.1 1896.8,1074.7 1898.3,1064.4 1899.6,1059.4 1901.0,1057.8 1902.3,1052.8 1903.6,1045.4 1905.0,1047.7 1906.4,1046.0 1907.8,1053.1 1909.2,1052.7 1910.6,1055.6 1912.0,1057.0 1913.3,1065.6 1914.7,1072.2 1916.0,1078.2 1917.3,1085.5 1918.7,1080.8 1920.0,1069.6 1921.4,1062.2 1922.7,1057.8 1924.1,1045.8 1925.4,1038.9 1926.8,1032.8 1928.4,1037.1 1929.9,1037.0 1931.3,1024.9 1932.8,1021.0 1934.2,1009.6 1935.7,1019.9 1937.3,1027.1 1938.9,1035.0 1940.5,1045.4 1942.1,1035.7 1943.6,1022.2 1945.0,1026.1 1946.3,1021.9 1947.6,1025.3 1948.9,1026.5 1950.5,1024.4 1952.1,1021.7 1953.7,1018.2 1955.2,1017.0 1956.6,1019.1 1957.9,1026.5 1959.2,1032.5 1960.5,1034.9" fill="none" stroke="#b9b9b9" stroke-width="3.6" stroke-linejoin="round" stroke-linecap="round" />
<polyline points="1268.4,1033.8 1269.7,1036.7 1271.1,1037.9 1272.4,1036.9 1273.7,1038.1 1275.3,1029.2 1276.9,1023.3 1278.3,1027.7 1279.7,1039.0 1281.1,1045.4 1282.7,1068.4 1284.2,1091.8 1285.8,1079.7 1287.4,1064.4 1288.8,1063.3 1290.2,1065.3 1291.6,1063.3 1293.2,1055.1 1294.8,1049.6 1296.4,1053.0 1297.9,1052.8 1299.8,1048.4 1301.7,1041.2 1303.5,1046.0 1305.3,1051.8 1307.1,1068.8 1308.9,1085.5 1310.6,1075.0 1312.3,1062.3 1314.1,1054.1 1315.9,1049.6 1317.2,1048.9 1318.5,1049.4 1319.8,1045.1 1321.1,1045.4 1322.6,1044.1 1324.1,1040.2 1325.6,1038.0 1327.0,1032.8 1328.3,1042.6 1329.7,1051.9 1331.0,1067.0 1332.3,1076.0 1334.1,1065.2 1335.9,1050.7 1337.8,1050.9 1339.7,1051.8 1341.5,1037.7 1343.3,1028.6 1344.6,1043.6 1346.0,1062.3 1347.5,1063.1 1349.1,1061.0 1350.6,1062.3 1352.0,1069.9 1353.3,1072.5 1354.7,1075.0 1356.0,1082.6 1357.4,1086.5 1358.8,1079.6 1360.2,1076.9 1361.6,1070.7 1362.9,1062.2 1364.3,1056.0 1365.7,1054.7 1367.1,1052.9 1368.5,1049.6 1370.1,1054.6 1371.7,1056.0 1373.8,1039.1 1375.3,1047.4 1376.8,1047.2 1378.2,1054.7 1379.7,1061.6 1381.2,1066.5 1382.5,1060.3 1383.8,1057.0 1385.1,1049.0 1386.5,1046.5 1388.0,1046.9 1389.6,1043.0 1391.2,1038.7 1392.8,1039.1 1394.2,1040.4 1395.6,1038.7 1397.0,1040.2 1398.6,1034.7 1400.2,1032.8 1401.5,1040.3 1402.8,1045.9 1404.1,1054.0 1405.4,1063.3 1406.8,1064.8 1408.2,1063.1 1409.6,1061.2 1411.2,1052.3 1412.8,1050.8 1414.4,1040.2 1416.0,1037.0 1417.4,1018.8 1418.8,1005.0 1420.2,985.4 1422.3,1003.3 1424.4,991.7 1425.8,998.0 1427.2,1001.8 1428.6,1008.5 1430.2,1008.3 1431.8,1009.6 1433.4,1003.7 1434.9,999.1 1436.5,993.7 1438.1,992.7 1440.2,1001.2 1441.7,984.3 1443.1,991.5 1444.4,992.7 1445.8,979.5 1447.2,971.7 1448.6,980.4 1450.0,991.6 1451.4,998.7 1452.9,1008.5 1454.4,1006.7 1456.0,999.1 1457.6,996.5 1459.2,999.8 1460.8,998.3 1462.3,994.8 1463.9,991.7 1465.5,986.4 1467.1,993.5 1468.7,995.9 1470.2,990.8 1471.8,986.4 1473.2,996.1 1474.6,1003.7 1476.0,1009.6 1477.4,1007.9 1478.9,1005.9 1480.3,1004.3 1481.7,1003.8 1483.1,1000.3 1484.5,999.1 1487.0,982.2 1488.4,987.1 1489.7,997.0 1491.1,995.3 1492.4,989.2 1493.7,987.4 1495.0,984.3 1496.6,987.1 1498.2,986.4 1499.8,994.5 1501.3,1006.4 1502.9,995.7 1504.5,990.6 1505.9,988.0 1507.3,990.5 1508.7,989.6 1510.3,983.5 1511.9,979.0 1513.5,981.3 1515.0,986.4 1516.4,985.1 1517.7,986.9 1519.0,981.8 1520.3,982.2 1521.7,985.9 1523.1,992.9 1524.5,994.8 1526.1,1004.0 1527.7,1011.7 1529.1,1004.0 1530.5,998.9 1531.9,992.7 1533.3,992.6 1534.7,990.6 1536.1,992.7 1537.7,995.2 1539.3,999.1 1540.7,994.0 1542.1,993.2 1543.5,987.5 1545.1,989.6 1546.7,993.8 1548.5,1002.1 1550.4,1008.5 1553.0,1007.5 1554.4,1005.4 1555.8,1000.2 1557.2,992.7 1558.8,991.5 1560.4,992.3 1561.9,990.1 1563.5,990.6 1564.8,987.9 1566.1,986.3 1567.5,986.1 1568.8,982.2 1570.3,992.9 1571.9,997.1 1573.4,1006.4 1574.8,1003.0 1576.2,1005.4 1577.5,1001.0 1578.9,994.6 1580.2,990.4 1581.6,990.8 1582.9,982.7 1584.3,982.3 1585.6,976.9 1587.2,979.8 1588.8,984.3 1590.7,983.3 1592.6,976.9 1594.0,987.1 1595.5,990.3 1596.9,999.1 1598.3,1011.7 1599.8,1017.0 1601.4,1006.1 1603.0,993.3 1604.6,982.2 1605.9,984.4 1607.2,985.1 1608.6,983.7 1609.9,984.3 1611.2,983.6 1612.5,980.9 1613.8,981.9 1615.2,982.2 1616.6,981.1 1618.0,984.3 1619.3,991.9 1620.6,998.6 1622.0,1002.7 1623.3,1011.7 1624.7,1004.0 1626.1,992.4 1627.5,986.4 1628.9,984.8 1630.3,988.7 1631.7,988.5 1633.5,968.3 1635.3,948.5 1636.7,965.6 1638.0,978.0 1639.4,973.1 1640.8,968.0 1642.2,961.1 1643.6,970.5 1645.0,984.3 1646.5,985.6 1648.1,980.4 1649.6,982.2 1651.2,972.4 1652.8,961.1 1654.3,970.4 1655.7,977.3 1657.2,984.0 1658.7,988.5 1660.8,946.4 1662.1,948.9 1663.5,953.2 1664.8,954.8 1666.4,967.1 1668.0,973.7 1669.6,986.4 1671.2,988.6 1672.8,985.4 1674.4,976.2 1676.0,962.2 1677.3,961.6 1678.6,963.3 1679.9,961.1 1681.2,961.1 1682.6,947.0 1684.0,936.8 1685.4,922.8 1687.0,939.3 1688.6,961.1 1690.0,967.1 1691.4,972.4 1692.8,973.8 1694.2,969.0 1695.6,969.4 1697.0,963.2 1698.4,968.5 1699.9,980.8 1701.3,986.4 1703.4,959.0 1704.7,964.5 1706.0,975.5 1707.3,979.2 1708.6,986.4 1710.0,988.6 1711.4,982.9 1712.8,985.4 1715.4,964.3 1717.0,960.4 1718.6,963.4 1720.2,960.1 1721.5,959.1 1722.9,956.6 1724.2,951.7 1725.5,952.7 1727.1,968.6 1728.7,988.5 1730.1,982.8 1731.5,976.0 1732.9,973.8 1734.5,974.4 1736.0,970.6 1737.6,969.4 1739.2,964.3 1740.6,973.6 1742.0,979.5 1743.4,988.5 1744.7,976.0 1746.0,969.9 1747.4,956.2 1748.7,948.5 1750.1,957.2 1751.5,965.1 1752.9,973.8 1754.3,976.5 1755.7,976.8 1757.1,982.2 1759.2,968.5 1760.6,968.4 1762.0,973.5 1763.4,975.9 1764.8,975.2 1766.2,980.2 1767.6,982.2 1769.1,970.3 1770.5,961.2 1771.9,952.7 1773.8,967.5 1775.7,986.4 1777.2,979.5 1778.7,971.0 1780.3,964.3 1781.9,966.3 1783.5,970.0 1785.0,975.7 1786.6,979.0 1788.2,975.2 1789.8,965.9 1791.4,958.0 1792.9,953.7 1794.3,951.9 1795.8,950.8 1797.2,951.6 1798.7,957.6 1800.3,964.4 1801.9,968.7 1803.5,973.8 1805.0,967.5 1806.4,963.9 1807.9,959.8 1809.4,955.7 1810.9,951.6 1813.0,990.6 1814.4,990.4 1815.8,994.3 1817.2,991.7 1818.8,1001.0 1820.3,1009.6 1822.4,960.1 1823.8,966.6 1825.1,972.4 1826.4,977.5 1827.7,982.2 1829.3,977.4 1830.9,968.3 1832.5,963.4 1834.0,955.9 1835.4,970.3 1836.9,977.0 1838.3,990.6 1839.6,998.0 1840.9,1003.1 1842.2,1007.8 1843.5,1017.0 1844.8,998.1 1846.2,986.4 1847.5,966.5 1848.8,952.7 1850.1,960.5 1851.4,963.5 1852.7,971.7 1854.1,979.0 1855.4,972.3 1856.7,971.4 1858.0,968.9 1859.3,963.2 1860.7,974.2 1862.1,988.9 1863.6,1001.2 1865.4,978.9 1867.3,951.6 1868.8,1005.4 1870.2,989.4 1871.6,975.7 1873.0,961.1 1874.4,965.6 1875.7,969.6 1877.0,968.6 1878.3,973.8 1879.8,971.8 1881.3,965.6 1882.7,962.6 1884.2,964.9 1885.7,959.0 1887.1,966.2 1888.5,981.2 1889.9,988.5 1891.5,976.3 1893.1,961.1 1894.5,969.9 1895.9,978.0 1897.3,984.3 1898.6,978.1 1899.9,968.8 1901.2,962.6 1902.5,955.9 1904.2,1008.5 1905.8,996.6 1907.3,990.3 1908.9,978.0 1910.3,984.6 1911.7,989.5 1913.1,992.7 1914.5,987.5 1915.9,986.3 1917.3,982.2 1918.9,969.1 1920.5,959.0 1921.8,967.1 1923.1,973.1 1924.4,981.0 1925.7,984.3 1927.2,989.4 1928.7,993.0 1930.2,997.4 1931.6,997.0 1933.1,1003.3 1934.7,982.8 1936.3,961.1 1937.8,971.8 1939.4,987.2 1941.0,999.1 1942.6,1014.9 1944.0,998.9 1945.4,974.8 1946.8,959.0 1948.2,997.4 1949.5,1030.7 1951.3,1007.0 1953.1,978.0 1955.2,961.1 1957.8,1026.5 1959.1,1007.1 1960.5,988.5" fill="none" stroke="#000" stroke-width="4.2" stroke-linejoin="round" stroke-linecap="round" />
<path d="M1265 726.7 H1965" stroke="#000" stroke-width="5.5" fill="none"/>
<path d="M1267 726.7 V1308 H1963 V726.7" stroke="#000" stroke-width="4" fill="none"/>
<rect x="1609.5" y="752" width="317.5" height="120" fill="#fff" stroke="#000" stroke-width="3.2"/>
<line x1="1640" x2="1714" y1="780.8" y2="780.8" stroke="#b7b7b7" stroke-width="3.6" stroke-linecap="round"/>
<line x1="1640" x2="1714" y1="841.6" y2="841.6" stroke="#000" stroke-width="4.2" stroke-linecap="round"/>
<text x="1719.5" y="793.2" font-size="38.5" font-weight="bold" fill="#404040" text-anchor="start" font-family="Liberation Sans, Arial, sans-serif" >Control</text>
<text x="1720.5" y="854.0" font-size="38.5" font-weight="bold" fill="#404040" text-anchor="start" font-family="Liberation Sans, Arial, sans-serif" >10 mM AA</text>
<text x="1233.0" y="738.1" font-size="38.5" font-weight="normal" fill="#565656" text-anchor="end" font-family="Liberation Sans, Arial, sans-serif" stroke="#565656" stroke-width="1.5" stroke-linejoin="round">30</text>
<text x="1233.0" y="854.3" font-size="38.5" font-weight="normal" fill="#565656" text-anchor="end" font-family="Liberation Sans, Arial, sans-serif" stroke="#565656" stroke-width="1.5" stroke-linejoin="round">29</text>
<text x="1233.0" y="970.5" font-size="38.5" font-weight="normal" fill="#565656" text-anchor="end" font-family="Liberation Sans, Arial, sans-serif" stroke="#565656" stroke-width="1.5" stroke-linejoin="round">28</text>
<text x="1233.0" y="1086.7" font-size="38.5" font-weight="normal" fill="#565656" text-anchor="end" font-family="Liberation Sans, Arial, sans-serif" stroke="#565656" stroke-width="1.5" stroke-linejoin="round">27</text>
<text x="1233.0" y="1202.9" font-size="38.5" font-weight="normal" fill="#565656" text-anchor="end" font-family="Liberation Sans, Arial, sans-serif" stroke="#565656" stroke-width="1.5" stroke-linejoin="round">26</text>
<text x="1233.0" y="1319.1" font-size="38.5" font-weight="normal" fill="#565656" text-anchor="end" font-family="Liberation Sans, Arial, sans-serif" stroke="#565656" stroke-width="1.5" stroke-linejoin="round">25</text>
<text transform="translate(1147.0 992.0) rotate(-90)" font-size="43.5" font-weight="bold" fill="#000" text-anchor="middle" font-family="Liberation Sans, Noto Sans CJK JP, sans-serif" >Leaf temperature (℃)</text>
<text transform="translate(1290.5 1348.0) rotate(-30)" font-size="43.5" font-weight="bold" fill="#000" text-anchor="end" font-family="Liberation Sans, Arial, sans-serif" >9 am</text>
<text transform="translate(1516.5 1335.0) rotate(-30)" font-size="43.5" font-weight="bold" fill="#000" text-anchor="end" font-family="Liberation Sans, Arial, sans-serif" >10 am</text>
<text transform="translate(1738.5 1338.0) rotate(-30)" font-size="43.5" font-weight="bold" fill="#000" text-anchor="end" font-family="Liberation Sans, Arial, sans-serif" >11 am</text>
<text transform="translate(1974.7 1342.0) rotate(-30)" font-size="43.5" font-weight="bold" fill="#000" text-anchor="end" font-family="Liberation Sans, Arial, sans-serif" >12 am</text>
<defs><linearGradient id="pgD" x1="0" x2="1" y1="0" y2="0"><stop offset="0" stop-color="#ffffff"/><stop offset="0.5" stop-color="#fde08c"/><stop offset="1" stop-color="#ffc000"/></linearGradient></defs>
<rect x="1468" y="1431" width="301" height="31" fill="url(#pgD)" stroke="#b9bfd0" stroke-width="1.6"/>
<text x="1467.5" y="1481.5" font-size="19.5" font-weight="bold" fill="#000" text-anchor="middle" font-family="Liberation Sans, Arial, sans-serif" >26</text>
<text x="1773.0" y="1481.5" font-size="19.5" font-weight="bold" fill="#000" text-anchor="middle" font-family="Liberation Sans, Arial, sans-serif" >1500</text>
<text x="1619.5" y="1512.5" font-size="19.5" font-weight="bold" fill="#000" text-anchor="middle" font-family="Liberation Sans, Arial, sans-serif">PAR (mol m<tspan font-size="12" dy="-7">-2</tspan><tspan dy="7"> s</tspan><tspan font-size="12" dy="-7">-1</tspan><tspan dy="7">)</tspan></text>
<defs><radialGradient id="orb" cx="0.4" cy="0.35" r="0.7"><stop offset="0" stop-color="#ffb877"/><stop offset="1" stop-color="#f08a36"/></radialGradient></defs>
<line x1="283.5" x2="794.2" y1="1618.7" y2="1618.7" stroke="#868686" stroke-width="2"/>
<line x1="283.5" x2="794.2" y1="1710.4" y2="1710.4" stroke="#868686" stroke-width="2"/>
<line x1="283.5" x2="794.2" y1="1806.2" y2="1806.2" stroke="#868686" stroke-width="2"/>
<line x1="283.5" x2="794.2" y1="1900.9" y2="1900.9" stroke="#868686" stroke-width="2"/>
<line x1="283.5" x2="794.2" y1="1992.3" y2="1992.3" stroke="#868686" stroke-width="2"/>
<line x1="304.4" x2="304.4" y1="1618.7" y2="1992.3" stroke="#868686" stroke-width="2"/>
<text transform="translate(282.0 1950.5) scale(0.85 1)" font-size="29.5" fill="#0a0a14" stroke="#0a0a14" stroke-width="0.35" text-anchor="middle" font-family="Liberation Sans, Arial, sans-serif">-100</text>
<line x1="385.6" x2="385.6" y1="1900.9" y2="1910.9" stroke="#868686" stroke-width="2"/>
<text transform="translate(384.1 1950.5) scale(0.85 1)" font-size="29.5" fill="#0a0a14" stroke="#0a0a14" stroke-width="0.35" text-anchor="middle" font-family="Liberation Sans, Arial, sans-serif">400</text>
<line x1="487.8" x2="487.8" y1="1900.9" y2="1910.9" stroke="#868686" stroke-width="2"/>
<text transform="translate(486.3 1950.5) scale(0.85 1)" font-size="29.5" fill="#0a0a14" stroke="#0a0a14" stroke-width="0.35" text-anchor="middle" font-family="Liberation Sans, Arial, sans-serif">900</text>
<line x1="589.9" x2="589.9" y1="1900.9" y2="1910.9" stroke="#868686" stroke-width="2"/>
<text transform="translate(588.4 1950.5) scale(0.85 1)" font-size="29.5" fill="#0a0a14" stroke="#0a0a14" stroke-width="0.35" text-anchor="middle" font-family="Liberation Sans, Arial, sans-serif">1400</text>
<line x1="692.1" x2="692.1" y1="1900.9" y2="1910.9" stroke="#868686" stroke-width="2"/>
<text transform="translate(690.6 1950.5) scale(0.85 1)" font-size="29.5" fill="#0a0a14" stroke="#0a0a14" stroke-width="0.35" text-anchor="middle" font-family="Liberation Sans, Arial, sans-serif">1900</text>
<line x1="794.2" x2="794.2" y1="1900.9" y2="1910.9" stroke="#868686" stroke-width="2"/>
<text transform="translate(792.7 1950.5) scale(0.85 1)" font-size="29.5" fill="#0a0a14" stroke="#0a0a14" stroke-width="0.35" text-anchor="middle" font-family="Liberation Sans, Arial, sans-serif">2400</text>
<text transform="translate(278.0 1630.2) scale(0.85 1)" font-size="29.5" fill="#0a0a14" stroke="#0a0a14" stroke-width="0.35" text-anchor="end" font-family="Liberation Sans, Arial, sans-serif">15</text>
<text transform="translate(278.0 1721.9) scale(0.85 1)" font-size="29.5" fill="#0a0a14" stroke="#0a0a14" stroke-width="0.35" text-anchor="end" font-family="Liberation Sans, Arial, sans-serif">10</text>
<text transform="translate(278.0 1817.7) scale(0.85 1)" font-size="29.5" fill="#0a0a14" stroke="#0a0a14" stroke-width="0.35" text-anchor="end" font-family="Liberation Sans, Arial, sans-serif">5</text>
<text transform="translate(278.0 1912.4) scale(0.85 1)" font-size="29.5" fill="#0a0a14" stroke="#0a0a14" stroke-width="0.35" text-anchor="end" font-family="Liberation Sans, Arial, sans-serif">0</text>
<text transform="translate(278.0 2003.8) scale(0.85 1)" font-size="29.5" fill="#0a0a14" stroke="#0a0a14" stroke-width="0.35" text-anchor="end" font-family="Liberation Sans, Arial, sans-serif">-5</text>
<line x1="355.5" x2="355.5" y1="1817.6" y2="1866.8" stroke="#000" stroke-width="2.2"/>
<line x1="611.2" x2="611.2" y1="1750.0" y2="1830.0" stroke="#000" stroke-width="2.2"/>
<line x1="713.7" x2="713.7" y1="1656.6" y2="1674.8" stroke="#000" stroke-width="2.2"/>
<polyline points="304.0,1908.0 312.0,1866.0 356.0,1781.0 508.3,1678.0 611.2,1661.0 713.7,1664.5" fill="none" stroke="#71558f" stroke-width="6.6" stroke-linejoin="round" stroke-linecap="butt"/>
<polyline points="304.0,1905.0 314.0,1872.0 356.0,1826.4 508.3,1764.5 611.2,1746.5 713.7,1741.5" fill="none" stroke="#3b97b0" stroke-width="6.6" stroke-linejoin="round" stroke-linecap="round" />
<polyline points="303.0,1906.3 314.3,1880.0 354.7,1838.0 508.3,1789.8 611.2,1791.3 713.7,1813.8" fill="none" stroke="#e07e2e" stroke-width="6.6" stroke-linejoin="round" stroke-linecap="round" />
<path d="M297.0 1901.0 l14 14 M297.0 1915.0 l14 -14" stroke="#71558f" stroke-width="1.6" fill="none" opacity="0.9"/>
<path d="M305.0 1859.0 l14 14 M305.0 1873.0 l14 -14" stroke="#71558f" stroke-width="1.6" fill="none" opacity="0.9"/>
<path d="M349.0 1774.0 l14 14 M349.0 1788.0 l14 -14" stroke="#71558f" stroke-width="1.6" fill="none" opacity="0.9"/>
<path d="M501.3 1671.0 l14 14 M501.3 1685.0 l14 -14" stroke="#71558f" stroke-width="1.6" fill="none" opacity="0.9"/>
<path d="M604.2 1654.0 l14 14 M604.2 1668.0 l14 -14" stroke="#71558f" stroke-width="1.6" fill="none" opacity="0.9"/>
<path d="M706.7 1657.5 l14 14 M706.7 1671.5 l14 -14" stroke="#71558f" stroke-width="1.6" fill="none" opacity="0.9"/>
<path d="M297.0 1898.0 l14 14 M297.0 1912.0 l14 -14" stroke="#3b97b0" stroke-width="1.6" fill="none" opacity="0.9"/><path d="M304.0 1897.0 v16" stroke="#3b97b0" stroke-width="1.6" fill="none" opacity="0.9"/>
<path d="M307.0 1865.0 l14 14 M307.0 1879.0 l14 -14" stroke="#3b97b0" stroke-width="1.6" fill="none" opacity="0.9"/><path d="M314.0 1864.0 v16" stroke="#3b97b0" stroke-width="1.6" fill="none" opacity="0.9"/>
<path d="M349.0 1819.4 l14 14 M349.0 1833.4 l14 -14" stroke="#3b97b0" stroke-width="1.6" fill="none" opacity="0.9"/><path d="M356.0 1818.4 v16" stroke="#3b97b0" stroke-width="1.6" fill="none" opacity="0.9"/>
<path d="M501.3 1757.5 l14 14 M501.3 1771.5 l14 -14" stroke="#3b97b0" stroke-width="1.6" fill="none" opacity="0.9"/><path d="M508.3 1756.5 v16" stroke="#3b97b0" stroke-width="1.6" fill="none" opacity="0.9"/>
<path d="M604.2 1739.5 l14 14 M604.2 1753.5 l14 -14" stroke="#3b97b0" stroke-width="1.6" fill="none" opacity="0.9"/><path d="M611.2 1738.5 v16" stroke="#3b97b0" stroke-width="1.6" fill="none" opacity="0.9"/>
<path d="M706.7 1734.5 l14 14 M706.7 1748.5 l14 -14" stroke="#3b97b0" stroke-width="1.6" fill="none" opacity="0.9"/><path d="M713.7 1733.5 v16" stroke="#3b97b0" stroke-width="1.6" fill="none" opacity="0.9"/>
<ellipse cx="303.0" cy="1906.3" rx="7.4" ry="8.4" fill="url(#orb)" stroke="#e8842c" stroke-width="0.8"/>
<ellipse cx="314.3" cy="1880.0" rx="7.4" ry="8.4" fill="url(#orb)" stroke="#e8842c" stroke-width="0.8"/>
<ellipse cx="354.7" cy="1838.0" rx="7.4" ry="8.4" fill="url(#orb)" stroke="#e8842c" stroke-width="0.8"/>
<ellipse cx="508.3" cy="1789.8" rx="7.4" ry="8.4" fill="url(#orb)" stroke="#e8842c" stroke-width="0.8"/>
<ellipse cx="611.2" cy="1791.3" rx="7.4" ry="8.4" fill="url(#orb)" stroke="#e8842c" stroke-width="0.8"/>
<ellipse cx="713.7" cy="1813.8" rx="7.4" ry="8.4" fill="url(#orb)" stroke="#e8842c" stroke-width="0.8"/>
<text x="739.0" y="1653.7" font-size="40" font-weight="bold" fill="#000" text-anchor="start" font-family="Liberation Sans, Arial, sans-serif" xml:space="preserve">control</text>
<text x="726.5" y="1741.5" font-size="38" font-weight="bold" fill="#000" text-anchor="start" font-family="Liberation Sans, Arial, sans-serif" xml:space="preserve">1 mM AA</text>
<text x="722.0" y="1820.5" font-size="38" font-weight="bold" fill="#000" text-anchor="start" font-family="Liberation Sans, Arial, sans-serif" xml:space="preserve">10 mM AA</text>
<line x1="283.2" x2="790.8" y1="2111.5" y2="2111.5" stroke="#868686" stroke-width="2"/>
<line x1="283.2" x2="790.8" y1="2193.1" y2="2193.1" stroke="#868686" stroke-width="2"/>
<line x1="283.2" x2="790.8" y1="2276.9" y2="2276.9" stroke="#868686" stroke-width="2"/>
<line x1="283.2" x2="790.8" y1="2358.7" y2="2358.7" stroke="#868686" stroke-width="2"/>
<line x1="283.2" x2="790.8" y1="2441.8" y2="2441.8" stroke="#868686" stroke-width="2"/>
<line x1="304.1" x2="304.1" y1="2111.5" y2="2441.8" stroke="#868686" stroke-width="2"/>
<text transform="translate(281.7 2493.5) scale(0.85 1)" font-size="29.5" fill="#0a0a14" stroke="#0a0a14" stroke-width="0.35" text-anchor="middle" font-family="Liberation Sans, Arial, sans-serif">-100</text>
<line x1="384.7" x2="384.7" y1="2441.8" y2="2451.8" stroke="#868686" stroke-width="2"/>
<text transform="translate(383.2 2493.5) scale(0.85 1)" font-size="29.5" fill="#0a0a14" stroke="#0a0a14" stroke-width="0.35" text-anchor="middle" font-family="Liberation Sans, Arial, sans-serif">400</text>
<line x1="486.2" x2="486.2" y1="2441.8" y2="2451.8" stroke="#868686" stroke-width="2"/>
<text transform="translate(484.7 2493.5) scale(0.85 1)" font-size="29.5" fill="#0a0a14" stroke="#0a0a14" stroke-width="0.35" text-anchor="middle" font-family="Liberation Sans, Arial, sans-serif">900</text>
<line x1="587.8" x2="587.8" y1="2441.8" y2="2451.8" stroke="#868686" stroke-width="2"/>
<text transform="translate(586.3 2493.5) scale(0.85 1)" font-size="29.5" fill="#0a0a14" stroke="#0a0a14" stroke-width="0.35" text-anchor="middle" font-family="Liberation Sans, Arial, sans-serif">1400</text>
<line x1="689.3" x2="689.3" y1="2441.8" y2="2451.8" stroke="#868686" stroke-width="2"/>
<text transform="translate(687.8 2493.5) scale(0.85 1)" font-size="29.5" fill="#0a0a14" stroke="#0a0a14" stroke-width="0.35" text-anchor="middle" font-family="Liberation Sans, Arial, sans-serif">1900</text>
<line x1="790.8" x2="790.8" y1="2441.8" y2="2451.8" stroke="#868686" stroke-width="2"/>
<text transform="translate(789.3 2493.5) scale(0.85 1)" font-size="29.5" fill="#0a0a14" stroke="#0a0a14" stroke-width="0.35" text-anchor="middle" font-family="Liberation Sans, Arial, sans-serif">2400</text>
<text transform="translate(278.0 2123.0) scale(0.85 1)" font-size="29.5" fill="#0a0a14" stroke="#0a0a14" stroke-width="0.35" text-anchor="end" font-family="Liberation Sans, Arial, sans-serif">0.4</text>
<text transform="translate(278.0 2204.6) scale(0.85 1)" font-size="29.5" fill="#0a0a14" stroke="#0a0a14" stroke-width="0.35" text-anchor="end" font-family="Liberation Sans, Arial, sans-serif">0.3</text>
<text transform="translate(278.0 2288.4) scale(0.85 1)" font-size="29.5" fill="#0a0a14" stroke="#0a0a14" stroke-width="0.35" text-anchor="end" font-family="Liberation Sans, Arial, sans-serif">0.2</text>
<text transform="translate(278.0 2370.2) scale(0.85 1)" font-size="29.5" fill="#0a0a14" stroke="#0a0a14" stroke-width="0.35" text-anchor="end" font-family="Liberation Sans, Arial, sans-serif">0.1</text>
<text transform="translate(278.0 2453.3) scale(0.85 1)" font-size="29.5" fill="#0a0a14" stroke="#0a0a14" stroke-width="0.35" text-anchor="end" font-family="Liberation Sans, Arial, sans-serif">0</text>
<line x1="302.0" x2="302.0" y1="2347.9" y2="2381.5" stroke="#000" stroke-width="2.2"/>
<line x1="315.0" x2="315.0" y1="2350.8" y2="2381.5" stroke="#000" stroke-width="2.2"/>
<line x1="302.0" x2="302.0" y1="2279.0" y2="2298.0" stroke="#000" stroke-width="2.2"/>
<line x1="315.0" x2="315.0" y1="2280.0" y2="2298.0" stroke="#000" stroke-width="2.2"/>
<line x1="353.5" x2="353.5" y1="2272.6" y2="2293.7" stroke="#000" stroke-width="2.2"/>
<line x1="353.5" x2="353.5" y1="2346.4" y2="2435.7" stroke="#000" stroke-width="2.2"/>
<line x1="506.9" x2="506.9" y1="2207.3" y2="2269.7" stroke="#000" stroke-width="2.2"/>
<line x1="506.9" x2="506.9" y1="2330.3" y2="2361.6" stroke="#000" stroke-width="2.2"/>
<line x1="609.2" x2="609.2" y1="2129.8" y2="2245.4" stroke="#000" stroke-width="2.2"/>
<line x1="609.2" x2="609.2" y1="2350.8" y2="2421.0" stroke="#000" stroke-width="2.2"/>
<line x1="709.3" x2="709.3" y1="2138.0" y2="2204.4" stroke="#000" stroke-width="2.2"/>
<polyline points="302.0,2288.4 315.0,2288.0 353.2,2282.6 506.9,2238.0 609.2,2184.0 709.3,2170.0" fill="none" stroke="#71558f" stroke-width="6.6" stroke-linejoin="round" stroke-linecap="butt"/>
<polyline points="302.0,2364.5 315.0,2364.5 353.2,2363.4 506.9,2345.0 609.2,2322.4 709.3,2295.0" fill="none" stroke="#3b97b0" stroke-width="6.6" stroke-linejoin="round" stroke-linecap="round" />
<polyline points="302.0,2425.4 313.7,2427.8 353.2,2406.4 506.9,2386.0 609.2,2385.3 709.3,2409.3" fill="none" stroke="#e07e2e" stroke-width="6.6" stroke-linejoin="round" stroke-linecap="round" />
<path d="M295.0 2281.4 l14 14 M295.0 2295.4 l14 -14" stroke="#71558f" stroke-width="1.6" fill="none" opacity="0.9"/>
<path d="M308.0 2281.0 l14 14 M308.0 2295.0 l14 -14" stroke="#71558f" stroke-width="1.6" fill="none" opacity="0.9"/>
<path d="M346.2 2275.6 l14 14 M346.2 2289.6 l14 -14" stroke="#71558f" stroke-width="1.6" fill="none" opacity="0.9"/>
<path d="M499.9 2231.0 l14 14 M499.9 2245.0 l14 -14" stroke="#71558f" stroke-width="1.6" fill="none" opacity="0.9"/>
<path d="M602.2 2177.0 l14 14 M602.2 2191.0 l14 -14" stroke="#71558f" stroke-width="1.6" fill="none" opacity="0.9"/>
<path d="M702.3 2163.0 l14 14 M702.3 2177.0 l14 -14" stroke="#71558f" stroke-width="1.6" fill="none" opacity="0.9"/>
<path d="M295.0 2357.5 l14 14 M295.0 2371.5 l14 -14" stroke="#3b97b0" stroke-width="1.6" fill="none" opacity="0.9"/><path d="M302.0 2356.5 v16" stroke="#3b97b0" stroke-width="1.6" fill="none" opacity="0.9"/>
<path d="M308.0 2357.5 l14 14 M308.0 2371.5 l14 -14" stroke="#3b97b0" stroke-width="1.6" fill="none" opacity="0.9"/><path d="M315.0 2356.5 v16" stroke="#3b97b0" stroke-width="1.6" fill="none" opacity="0.9"/>
<path d="M346.2 2356.4 l14 14 M346.2 2370.4 l14 -14" stroke="#3b97b0" stroke-width="1.6" fill="none" opacity="0.9"/><path d="M353.2 2355.4 v16" stroke="#3b97b0" stroke-width="1.6" fill="none" opacity="0.9"/>
<path d="M499.9 2338.0 l14 14 M499.9 2352.0 l14 -14" stroke="#3b97b0" stroke-width="1.6" fill="none" opacity="0.9"/><path d="M506.9 2337.0 v16" stroke="#3b97b0" stroke-width="1.6" fill="none" opacity="0.9"/>
<path d="M602.2 2315.4 l14 14 M602.2 2329.4 l14 -14" stroke="#3b97b0" stroke-width="1.6" fill="none" opacity="0.9"/><path d="M609.2 2314.4 v16" stroke="#3b97b0" stroke-width="1.6" fill="none" opacity="0.9"/>
<path d="M702.3 2288.0 l14 14 M702.3 2302.0 l14 -14" stroke="#3b97b0" stroke-width="1.6" fill="none" opacity="0.9"/><path d="M709.3 2287.0 v16" stroke="#3b97b0" stroke-width="1.6" fill="none" opacity="0.9"/>
<ellipse cx="302.0" cy="2425.4" rx="7.4" ry="8.4" fill="url(#orb)" stroke="#e8842c" stroke-width="0.8"/>
<ellipse cx="313.7" cy="2427.8" rx="7.4" ry="8.4" fill="url(#orb)" stroke="#e8842c" stroke-width="0.8"/>
<ellipse cx="353.2" cy="2406.4" rx="7.4" ry="8.4" fill="url(#orb)" stroke="#e8842c" stroke-width="0.8"/>
<ellipse cx="506.9" cy="2386.0" rx="7.4" ry="8.4" fill="url(#orb)" stroke="#e8842c" stroke-width="0.8"/>
<ellipse cx="609.2" cy="2385.3" rx="7.4" ry="8.4" fill="url(#orb)" stroke="#e8842c" stroke-width="0.8"/>
<ellipse cx="709.3" cy="2409.3" rx="7.4" ry="8.4" fill="url(#orb)" stroke="#e8842c" stroke-width="0.8"/>
<text x="737.5" y="2173.0" font-size="40" font-weight="bold" fill="#000" text-anchor="start" font-family="Liberation Sans, Arial, sans-serif" xml:space="preserve">control</text>
<text x="728.0" y="2302.5" font-size="38" font-weight="bold" fill="#000" text-anchor="start" font-family="Liberation Sans, Arial, sans-serif" xml:space="preserve">1 mM AA</text>
<text x="723.5" y="2422.5" font-size="38" font-weight="bold" fill="#000" text-anchor="start" font-family="Liberation Sans, Arial, sans-serif" xml:space="preserve">10 mM AA</text>
<line x1="1331.0" x2="1844.8" y1="1614.4" y2="1614.4" stroke="#868686" stroke-width="2"/>
<line x1="1331.0" x2="1844.8" y1="1679.6" y2="1679.6" stroke="#868686" stroke-width="2"/>
<line x1="1331.0" x2="1844.8" y1="1747.2" y2="1747.2" stroke="#868686" stroke-width="2"/>
<line x1="1331.0" x2="1844.8" y1="1812.4" y2="1812.4" stroke="#868686" stroke-width="2"/>
<line x1="1331.0" x2="1844.8" y1="1878.0" y2="1878.0" stroke="#868686" stroke-width="2"/>
<line x1="1331.0" x2="1844.8" y1="1943.8" y2="1943.8" stroke="#868686" stroke-width="2"/>
<line x1="1351.9" x2="1351.9" y1="1614.4" y2="1943.8" stroke="#868686" stroke-width="2"/>
<text transform="translate(1329.5 1995.5) scale(0.85 1)" font-size="29.5" fill="#0a0a14" stroke="#0a0a14" stroke-width="0.35" text-anchor="middle" font-family="Liberation Sans, Arial, sans-serif">-100</text>
<line x1="1433.8" x2="1433.8" y1="1943.8" y2="1953.8" stroke="#868686" stroke-width="2"/>
<text transform="translate(1432.3 1995.5) scale(0.85 1)" font-size="29.5" fill="#0a0a14" stroke="#0a0a14" stroke-width="0.35" text-anchor="middle" font-family="Liberation Sans, Arial, sans-serif">400</text>
<line x1="1536.5" x2="1536.5" y1="1943.8" y2="1953.8" stroke="#868686" stroke-width="2"/>
<text transform="translate(1535.0 1995.5) scale(0.85 1)" font-size="29.5" fill="#0a0a14" stroke="#0a0a14" stroke-width="0.35" text-anchor="middle" font-family="Liberation Sans, Arial, sans-serif">900</text>
<line x1="1639.3" x2="1639.3" y1="1943.8" y2="1953.8" stroke="#868686" stroke-width="2"/>
<text transform="translate(1637.8 1995.5) scale(0.85 1)" font-size="29.5" fill="#0a0a14" stroke="#0a0a14" stroke-width="0.35" text-anchor="middle" font-family="Liberation Sans, Arial, sans-serif">1400</text>
<line x1="1742.0" x2="1742.0" y1="1943.8" y2="1953.8" stroke="#868686" stroke-width="2"/>
<text transform="translate(1740.5 1995.5) scale(0.85 1)" font-size="29.5" fill="#0a0a14" stroke="#0a0a14" stroke-width="0.35" text-anchor="middle" font-family="Liberation Sans, Arial, sans-serif">1900</text>
<line x1="1844.8" x2="1844.8" y1="1943.8" y2="1953.8" stroke="#868686" stroke-width="2"/>
<text transform="translate(1843.3 1995.5) scale(0.85 1)" font-size="29.5" fill="#0a0a14" stroke="#0a0a14" stroke-width="0.35" text-anchor="middle" font-family="Liberation Sans, Arial, sans-serif">2400</text>
<text transform="translate(1326.0 1625.9) scale(0.85 1)" font-size="29.5" fill="#0a0a14" stroke="#0a0a14" stroke-width="0.35" text-anchor="end" font-family="Liberation Sans, Arial, sans-serif">5</text>
<text transform="translate(1326.0 1691.1) scale(0.85 1)" font-size="29.5" fill="#0a0a14" stroke="#0a0a14" stroke-width="0.35" text-anchor="end" font-family="Liberation Sans, Arial, sans-serif">4</text>
<text transform="translate(1326.0 1758.7) scale(0.85 1)" font-size="29.5" fill="#0a0a14" stroke="#0a0a14" stroke-width="0.35" text-anchor="end" font-family="Liberation Sans, Arial, sans-serif">3</text>
<text transform="translate(1326.0 1823.9) scale(0.85 1)" font-size="29.5" fill="#0a0a14" stroke="#0a0a14" stroke-width="0.35" text-anchor="end" font-family="Liberation Sans, Arial, sans-serif">2</text>
<text transform="translate(1326.0 1889.5) scale(0.85 1)" font-size="29.5" fill="#0a0a14" stroke="#0a0a14" stroke-width="0.35" text-anchor="end" font-family="Liberation Sans, Arial, sans-serif">1</text>
<text transform="translate(1326.0 1955.3) scale(0.85 1)" font-size="29.5" fill="#0a0a14" stroke="#0a0a14" stroke-width="0.35" text-anchor="end" font-family="Liberation Sans, Arial, sans-serif">0</text>
<line x1="1403.0" x2="1403.0" y1="1777.6" y2="1918.1" stroke="#000" stroke-width="2.2"/>
<line x1="1556.2" x2="1556.2" y1="1775.5" y2="1815.7" stroke="#000" stroke-width="2.2"/>
<line x1="1659.5" x2="1659.5" y1="1726.4" y2="1869.2" stroke="#000" stroke-width="2.2"/>
<line x1="1762.0" x2="1762.0" y1="1671.3" y2="1711.7" stroke="#000" stroke-width="2.2"/>
<line x1="1762.0" x2="1762.0" y1="1785.8" y2="1825.9" stroke="#000" stroke-width="2.2"/>
<line x1="1762.0" x2="1762.0" y1="1835.0" y2="1850.0" stroke="#000" stroke-width="2.2"/>
<polyline points="1351.3,1765.9 1363.0,1767.4 1403.0,1764.4 1556.2,1733.7 1659.5,1705.3 1762.0,1691.2" fill="none" stroke="#71558f" stroke-width="6.6" stroke-linejoin="round" stroke-linecap="butt"/>
<polyline points="1351.3,1853.7 1363.0,1855.2 1403.0,1853.7 1556.2,1837.6 1659.5,1821.5 1762.0,1805.4" fill="none" stroke="#3b97b0" stroke-width="6.6" stroke-linejoin="round" stroke-linecap="round" />
<polyline points="1350.7,1890.3 1363.0,1894.1 1403.0,1846.4 1556.2,1793.7 1659.5,1795.7 1762.0,1841.4" fill="none" stroke="#e07e2e" stroke-width="6.6" stroke-linejoin="round" stroke-linecap="round" />
<path d="M1344.3 1758.9 l14 14 M1344.3 1772.9 l14 -14" stroke="#71558f" stroke-width="1.6" fill="none" opacity="0.9"/>
<path d="M1356.0 1760.4 l14 14 M1356.0 1774.4 l14 -14" stroke="#71558f" stroke-width="1.6" fill="none" opacity="0.9"/>
<path d="M1396.0 1757.4 l14 14 M1396.0 1771.4 l14 -14" stroke="#71558f" stroke-width="1.6" fill="none" opacity="0.9"/>
<path d="M1549.2 1726.7 l14 14 M1549.2 1740.7 l14 -14" stroke="#71558f" stroke-width="1.6" fill="none" opacity="0.9"/>
<path d="M1652.5 1698.3 l14 14 M1652.5 1712.3 l14 -14" stroke="#71558f" stroke-width="1.6" fill="none" opacity="0.9"/>
<path d="M1755.0 1684.2 l14 14 M1755.0 1698.2 l14 -14" stroke="#71558f" stroke-width="1.6" fill="none" opacity="0.9"/>
<path d="M1344.3 1846.7 l14 14 M1344.3 1860.7 l14 -14" stroke="#3b97b0" stroke-width="1.6" fill="none" opacity="0.9"/><path d="M1351.3 1845.7 v16" stroke="#3b97b0" stroke-width="1.6" fill="none" opacity="0.9"/>
<path d="M1356.0 1848.2 l14 14 M1356.0 1862.2 l14 -14" stroke="#3b97b0" stroke-width="1.6" fill="none" opacity="0.9"/><path d="M1363.0 1847.2 v16" stroke="#3b97b0" stroke-width="1.6" fill="none" opacity="0.9"/>
<path d="M1396.0 1846.7 l14 14 M1396.0 1860.7 l14 -14" stroke="#3b97b0" stroke-width="1.6" fill="none" opacity="0.9"/><path d="M1403.0 1845.7 v16" stroke="#3b97b0" stroke-width="1.6" fill="none" opacity="0.9"/>
<path d="M1549.2 1830.6 l14 14 M1549.2 1844.6 l14 -14" stroke="#3b97b0" stroke-width="1.6" fill="none" opacity="0.9"/><path d="M1556.2 1829.6 v16" stroke="#3b97b0" stroke-width="1.6" fill="none" opacity="0.9"/>
<path d="M1652.5 1814.5 l14 14 M1652.5 1828.5 l14 -14" stroke="#3b97b0" stroke-width="1.6" fill="none" opacity="0.9"/><path d="M1659.5 1813.5 v16" stroke="#3b97b0" stroke-width="1.6" fill="none" opacity="0.9"/>
<path d="M1755.0 1798.4 l14 14 M1755.0 1812.4 l14 -14" stroke="#3b97b0" stroke-width="1.6" fill="none" opacity="0.9"/><path d="M1762.0 1797.4 v16" stroke="#3b97b0" stroke-width="1.6" fill="none" opacity="0.9"/>
<ellipse cx="1350.7" cy="1890.3" rx="7.4" ry="8.4" fill="url(#orb)" stroke="#e8842c" stroke-width="0.8"/>
<ellipse cx="1363.0" cy="1894.1" rx="7.4" ry="8.4" fill="url(#orb)" stroke="#e8842c" stroke-width="0.8"/>
<ellipse cx="1403.0" cy="1846.4" rx="7.4" ry="8.4" fill="url(#orb)" stroke="#e8842c" stroke-width="0.8"/>
<ellipse cx="1556.2" cy="1793.7" rx="7.4" ry="8.4" fill="url(#orb)" stroke="#e8842c" stroke-width="0.8"/>
<ellipse cx="1659.5" cy="1795.7" rx="7.4" ry="8.4" fill="url(#orb)" stroke="#e8842c" stroke-width="0.8"/>
<ellipse cx="1762.0" cy="1841.4" rx="7.4" ry="8.4" fill="url(#orb)" stroke="#e8842c" stroke-width="0.8"/>
<text x="1785.0" y="1696.5" font-size="40" font-weight="bold" fill="#000" text-anchor="start" font-family="Liberation Sans, Arial, sans-serif" xml:space="preserve">control</text>
<text x="1801.5" y="1815.0" font-size="38" font-weight="bold" fill="#000" text-anchor="start" font-family="Liberation Sans, Arial, sans-serif" xml:space="preserve">1 mM AA</text>
<text x="1780.5" y="1858.0" font-size="38" font-weight="bold" fill="#000" text-anchor="start" font-family="Liberation Sans, Arial, sans-serif" xml:space="preserve">10 mM AA</text>
<text transform="translate(173.1 2043.6) rotate(-90)" font-size="43" font-weight="bold" letter-spacing="0.25" fill="#000" font-family="Liberation Sans, Arial, sans-serif">Net photosynthetic rate</text>
<text transform="translate(221.0 1972.5) rotate(-90)" font-size="43" text-anchor="end" fill="#000" stroke="#000" stroke-width="1.5" font-family="Noto Sans CJK JP, Liberation Sans, sans-serif">（</text><text transform="translate(221.0 1630.5) rotate(-90)" font-size="43" text-anchor="start" fill="#000" stroke="#000" stroke-width="1.5" font-family="Noto Sans CJK JP, Liberation Sans, sans-serif">）</text>
<text transform="translate(220.0 1972.1) rotate(-90)" font-size="42" font-weight="bold" letter-spacing="1" fill="#000" font-family="Liberation Sans, Arial, sans-serif">μmol CO<tspan font-size="28" dy="7">2</tspan><tspan dy="-7" font-size="1">&#8203;</tspan> m<tspan font-size="28" dy="-12.5">-2</tspan><tspan dy="12.5" font-size="1">&#8203;</tspan> s<tspan font-size="28" dy="-12.5">-1</tspan><tspan dy="12.5" font-size="1">&#8203;</tspan></text>
<text transform="translate(168.5 2434.7) rotate(-90)" font-size="44" font-weight="bold" letter-spacing="0.25" fill="#000" font-family="Liberation Sans, Arial, sans-serif">Conductance</text>
<text transform="translate(215.8 2445.5) rotate(-90)" font-size="43" text-anchor="end" fill="#000" stroke="#000" stroke-width="1.5" font-family="Noto Sans CJK JP, Liberation Sans, sans-serif">（</text><text transform="translate(215.8 2132.0) rotate(-90)" font-size="43" text-anchor="start" fill="#000" stroke="#000" stroke-width="1.5" font-family="Noto Sans CJK JP, Liberation Sans, sans-serif">）</text>
<text transform="translate(214.8 2447.0) rotate(-90)" font-size="42" font-weight="bold" letter-spacing="1" fill="#000" font-family="Liberation Sans, Arial, sans-serif">mol H<tspan font-size="28" dy="7">2</tspan><tspan dy="-7" font-size="1">&#8203;</tspan>O m<tspan font-size="28" dy="-12.5">-2</tspan><tspan dy="12.5" font-size="1">&#8203;</tspan> s<tspan font-size="28" dy="-12.5">-1</tspan><tspan dy="12.5" font-size="1">&#8203;</tspan></text>
<text transform="translate(1219.5 1972.9) rotate(-90)" font-size="43.5" font-weight="bold" letter-spacing="0.25" fill="#000" font-family="Liberation Sans, Arial, sans-serif">Transpiration rate</text>
<text transform="translate(1267.8 1970.8) rotate(-90)" font-size="43" text-anchor="end" fill="#000" stroke="#000" stroke-width="1.5" font-family="Noto Sans CJK JP, Liberation Sans, sans-serif">（</text><text transform="translate(1267.8 1615.5) rotate(-90)" font-size="43" text-anchor="start" fill="#000" stroke="#000" stroke-width="1.5" font-family="Noto Sans CJK JP, Liberation Sans, sans-serif">）</text>
<text transform="translate(1266.8 1969.9) rotate(-90)" font-size="42" font-weight="bold" letter-spacing="1" fill="#000" font-family="Liberation Sans, Arial, sans-serif">mmol H<tspan font-size="28" dy="7">2</tspan><tspan dy="-7" font-size="1">&#8203;</tspan>O m<tspan font-size="28" dy="-12.5">-2</tspan><tspan dy="12.5" font-size="1">&#8203;</tspan> s<tspan font-size="28" dy="-12.5">-1</tspan><tspan dy="12.5" font-size="1">&#8203;</tspan></text>
<text x="1400.2" y="2071.5" font-size="41" font-weight="bold" fill="#000" font-family="Liberation Sans, Arial, sans-serif">PAR</text>
<text x="1528.0" y="2072.5" font-size="43" text-anchor="end" fill="#000" stroke="#000" stroke-width="0.9" font-family="Noto Sans CJK JP, Liberation Sans, sans-serif">（</text>
<text x="1778.9" y="2072.5" font-size="43" fill="#000" stroke="#000" stroke-width="0.9" font-family="Noto Sans CJK JP, Liberation Sans, sans-serif">）</text>
<text x="1529.1" y="2071.5" font-size="42" font-weight="bold" letter-spacing="1" fill="#000" font-family="Liberation Sans, Arial, sans-serif">μmol</text>
<text x="1649.3" y="2071.5" font-size="42" font-weight="bold" letter-spacing="0.5" fill="#000" font-family="Liberation Sans, Arial, sans-serif">m<tspan font-size="28" dy="-12.5">-2</tspan><tspan dy="12.5" font-size="1">&#8203;</tspan> s<tspan font-size="28" dy="-12.5">-1</tspan><tspan dy="12.5" font-size="1">&#8203;</tspan></text>
</svg>
</body></html>
